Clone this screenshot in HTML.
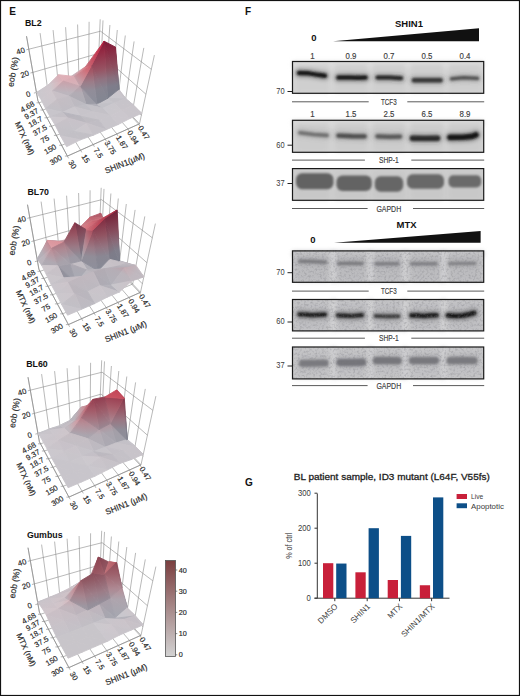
<!DOCTYPE html>
<html><head><meta charset="utf-8"><style>
html,body{margin:0;padding:0;background:#fff;}
body{width:520px;height:696px;overflow:hidden;position:relative;}
svg{position:absolute;left:0;top:0;font-family:"Liberation Sans", sans-serif;}
</style></head><body>
<svg width="520" height="696" viewBox="0 0 520 696">
<defs>
<filter id="b1" filterUnits="userSpaceOnUse" x="0" y="0" width="520" height="696"><feGaussianBlur stdDeviation="0.95"/></filter>
<filter id="b2" filterUnits="userSpaceOnUse" x="0" y="0" width="520" height="696"><feGaussianBlur stdDeviation="2"/></filter>
<filter id="b3" filterUnits="userSpaceOnUse" x="0" y="0" width="520" height="696"><feGaussianBlur stdDeviation="1.2"/></filter>
<filter id="nz" x="0" y="0" width="1" height="1"><feTurbulence type="fractalNoise" baseFrequency="0.45" numOctaves="2" seed="7"/><feColorMatrix type="matrix" values="0 0 0 0 0.2  0 0 0 0 0.2  0 0 0 0 0.22  0 0 0 1.6 -0.72"/></filter>
</defs>
<rect x="0" y="0" width="520" height="696" fill="#fff"/>
<text transform="translate(9.2,11.8)" font-size="10" text-anchor="start" font-weight="bold" fill="#111" dominant-baseline="central">E</text>
<line x1="37.9" y1="100.7" x2="26.5" y2="36.2" stroke="#8a8a8a" stroke-width="0.6"/>
<line x1="48.7" y1="97.1" x2="40.1" y2="33.1" stroke="#8a8a8a" stroke-width="0.6"/>
<line x1="59.2" y1="93.5" x2="53.1" y2="30.1" stroke="#8a8a8a" stroke-width="0.6"/>
<line x1="69.3" y1="90.1" x2="65.6" y2="27.2" stroke="#8a8a8a" stroke-width="0.6"/>
<line x1="79.1" y1="86.8" x2="77.6" y2="24.5" stroke="#8a8a8a" stroke-width="0.6"/>
<line x1="88.6" y1="83.6" x2="89.1" y2="21.8" stroke="#8a8a8a" stroke-width="0.6"/>
<line x1="97.7" y1="80.5" x2="100.2" y2="19.3" stroke="#8a8a8a" stroke-width="0.6"/>
<line x1="36.4" y1="92.5" x2="98.8" y2="72.3" stroke="#8a8a8a" stroke-width="0.6"/>
<line x1="32.9" y1="72.4" x2="99.6" y2="53.1" stroke="#8a8a8a" stroke-width="0.6"/>
<line x1="28.8" y1="49.2" x2="100.6" y2="31.2" stroke="#8a8a8a" stroke-width="0.6"/>
<line x1="100.0" y1="81.9" x2="103.0" y2="20.4" stroke="#8a8a8a" stroke-width="0.6"/>
<line x1="105.5" y1="87.8" x2="109.9" y2="25.0" stroke="#8a8a8a" stroke-width="0.6"/>
<line x1="111.4" y1="94.0" x2="117.3" y2="30.0" stroke="#8a8a8a" stroke-width="0.6"/>
<line x1="117.7" y1="100.6" x2="125.3" y2="35.5" stroke="#8a8a8a" stroke-width="0.6"/>
<line x1="124.4" y1="107.8" x2="134.1" y2="41.4" stroke="#8a8a8a" stroke-width="0.6"/>
<line x1="131.7" y1="115.5" x2="143.8" y2="47.9" stroke="#8a8a8a" stroke-width="0.6"/>
<line x1="139.5" y1="123.8" x2="154.4" y2="55.1" stroke="#8a8a8a" stroke-width="0.6"/>
<line x1="98.8" y1="72.3" x2="141.4" y2="115.3" stroke="#8a8a8a" stroke-width="0.6"/>
<line x1="99.6" y1="53.1" x2="145.9" y2="94.2" stroke="#8a8a8a" stroke-width="0.6"/>
<line x1="100.6" y1="31.2" x2="151.3" y2="69.3" stroke="#8a8a8a" stroke-width="0.6"/>
<line x1="37.9" y1="100.7" x2="67.4" y2="156.1" stroke="#8a8a8a" stroke-width="0.6"/>
<line x1="48.7" y1="97.1" x2="80.6" y2="150.2" stroke="#8a8a8a" stroke-width="0.6"/>
<line x1="59.2" y1="93.5" x2="93.2" y2="144.6" stroke="#8a8a8a" stroke-width="0.6"/>
<line x1="69.3" y1="90.1" x2="105.3" y2="139.1" stroke="#8a8a8a" stroke-width="0.6"/>
<line x1="79.1" y1="86.8" x2="116.9" y2="134.0" stroke="#8a8a8a" stroke-width="0.6"/>
<line x1="88.6" y1="83.6" x2="128.0" y2="129.0" stroke="#8a8a8a" stroke-width="0.6"/>
<line x1="97.7" y1="80.5" x2="138.7" y2="124.2" stroke="#8a8a8a" stroke-width="0.6"/>
<line x1="39.0" y1="102.8" x2="100.0" y2="81.9" stroke="#8a8a8a" stroke-width="0.6"/>
<line x1="42.9" y1="110.0" x2="105.5" y2="87.8" stroke="#8a8a8a" stroke-width="0.6"/>
<line x1="47.0" y1="117.8" x2="111.4" y2="94.0" stroke="#8a8a8a" stroke-width="0.6"/>
<line x1="51.5" y1="126.3" x2="117.7" y2="100.6" stroke="#8a8a8a" stroke-width="0.6"/>
<line x1="56.4" y1="135.4" x2="124.4" y2="107.8" stroke="#8a8a8a" stroke-width="0.6"/>
<line x1="61.7" y1="145.3" x2="131.7" y2="115.5" stroke="#8a8a8a" stroke-width="0.6"/>
<line x1="67.4" y1="156.1" x2="139.5" y2="123.8" stroke="#8a8a8a" stroke-width="0.6"/>
<line x1="98.4" y1="80.3" x2="139.5" y2="123.8" stroke="#8a8a8a" stroke-width="0.6"/>
<line x1="37.9" y1="100.7" x2="26.5" y2="36.2" stroke="#858585" stroke-width="0.6"/>
<line x1="37.9" y1="100.7" x2="67.4" y2="156.1" stroke="#858585" stroke-width="0.6"/>
<line x1="67.4" y1="156.1" x2="139.5" y2="123.8" stroke="#858585" stroke-width="0.6"/>
<line x1="33.9" y1="93.1" x2="36.4" y2="92.5" stroke="#858585" stroke-width="0.6"/>
<line x1="30.4" y1="73.0" x2="32.9" y2="72.4" stroke="#858585" stroke-width="0.6"/>
<line x1="26.3" y1="49.8" x2="28.8" y2="49.2" stroke="#858585" stroke-width="0.6"/>
<line x1="36.5" y1="102.8" x2="39.0" y2="102.8" stroke="#858585" stroke-width="0.6"/>
<line x1="40.4" y1="110.0" x2="42.9" y2="110.0" stroke="#858585" stroke-width="0.6"/>
<line x1="44.5" y1="117.8" x2="47.0" y2="117.8" stroke="#858585" stroke-width="0.6"/>
<line x1="49.0" y1="126.3" x2="51.5" y2="126.3" stroke="#858585" stroke-width="0.6"/>
<line x1="53.9" y1="135.4" x2="56.4" y2="135.4" stroke="#858585" stroke-width="0.6"/>
<line x1="59.2" y1="145.3" x2="61.7" y2="145.3" stroke="#858585" stroke-width="0.6"/>
<line x1="64.9" y1="156.1" x2="67.4" y2="156.1" stroke="#858585" stroke-width="0.6"/>
<line x1="67.4" y1="156.1" x2="68.6" y2="158.3" stroke="#858585" stroke-width="0.6"/>
<line x1="80.6" y1="150.2" x2="81.8" y2="152.4" stroke="#858585" stroke-width="0.6"/>
<line x1="93.2" y1="144.6" x2="94.4" y2="146.8" stroke="#858585" stroke-width="0.6"/>
<line x1="105.3" y1="139.1" x2="106.5" y2="141.3" stroke="#858585" stroke-width="0.6"/>
<line x1="116.9" y1="134.0" x2="118.1" y2="136.2" stroke="#858585" stroke-width="0.6"/>
<line x1="128.0" y1="129.0" x2="129.2" y2="131.2" stroke="#858585" stroke-width="0.6"/>
<line x1="138.7" y1="124.2" x2="139.9" y2="126.4" stroke="#858585" stroke-width="0.6"/>
<defs><linearGradient id="BL20" gradientUnits="userSpaceOnUse" x1="98.2" y1="68.9" x2="98.3" y2="69.2"><stop offset="0.000" stop-color="#b9b5bc"/><stop offset="1.000" stop-color="#bbb4bc"/></linearGradient><linearGradient id="BL21" gradientUnits="userSpaceOnUse" x1="98.2" y1="68.9" x2="98.3" y2="69.2"><stop offset="0.000" stop-color="#b9b5bc"/><stop offset="1.000" stop-color="#bbb4bc"/></linearGradient><linearGradient id="BL22" gradientUnits="userSpaceOnUse" x1="88.7" y1="70.9" x2="88.7" y2="71.1"><stop offset="0.000" stop-color="#b6b2ba"/><stop offset="1.000" stop-color="#b8b2b9"/></linearGradient><linearGradient id="BL23" gradientUnits="userSpaceOnUse" x1="36.4" y1="92.5" x2="43.7" y2="95.6"><stop offset="0.000" stop-color="#c6c4ca"/><stop offset="1.000" stop-color="#cbc3c9"/></linearGradient><linearGradient id="BL24" gradientUnits="userSpaceOnUse" x1="69.9" y1="77.2" x2="74.8" y2="81.0"><stop offset="0.000" stop-color="#c0b8bf"/><stop offset="0.538" stop-color="#cfa1aa"/><stop offset="1.000" stop-color="#d67f89"/></linearGradient><linearGradient id="BL25" gradientUnits="userSpaceOnUse" x1="37.4" y1="93.6" x2="51.9" y2="89.6"><stop offset="0.000" stop-color="#cbc8cd"/><stop offset="1.000" stop-color="#d0c7cd"/></linearGradient><linearGradient id="BL26" gradientUnits="userSpaceOnUse" x1="48.1" y1="85.1" x2="59.9" y2="76.4"><stop offset="0.000" stop-color="#ccc4ca"/><stop offset="0.143" stop-color="#cdc4ca"/><stop offset="1.000" stop-color="#dbaeb6"/></linearGradient><linearGradient id="BL27" gradientUnits="userSpaceOnUse" x1="121.9" y1="99.9" x2="118.2" y2="89.8"><stop offset="0.000" stop-color="#c6c3c9"/><stop offset="1.000" stop-color="#c8c3c9"/></linearGradient><linearGradient id="BL28" gradientUnits="userSpaceOnUse" x1="107.5" y1="98.4" x2="113.1" y2="87.3"><stop offset="0.000" stop-color="#c9c7cd"/><stop offset="0.400" stop-color="#c9c7cd"/><stop offset="1.000" stop-color="#ccc6cc"/></linearGradient><linearGradient id="BL29" gradientUnits="userSpaceOnUse" x1="58.6" y1="74.7" x2="68.1" y2="67.6"><stop offset="0.000" stop-color="#deb1b8"/><stop offset="1.000" stop-color="#e0adb5"/></linearGradient><linearGradient id="BL210" gradientUnits="userSpaceOnUse" x1="122.1" y1="99.9" x2="118.2" y2="89.8"><stop offset="0.000" stop-color="#c6c3c9"/><stop offset="1.000" stop-color="#c8c3c9"/></linearGradient><linearGradient id="BL211" gradientUnits="userSpaceOnUse" x1="48.1" y1="85.1" x2="63.1" y2="80.4"><stop offset="0.000" stop-color="#cec6cb"/><stop offset="0.143" stop-color="#cfc6cb"/><stop offset="1.000" stop-color="#ddb0b7"/></linearGradient><linearGradient id="BL212" gradientUnits="userSpaceOnUse" x1="37.4" y1="93.6" x2="52.3" y2="90.7"><stop offset="0.000" stop-color="#cbc8cd"/><stop offset="1.000" stop-color="#d0c7cd"/></linearGradient><linearGradient id="BL213" gradientUnits="userSpaceOnUse" x1="96.9" y1="104.2" x2="108.4" y2="111.9"><stop offset="0.000" stop-color="#c7c5cb"/><stop offset="0.800" stop-color="#c7c5cb"/><stop offset="1.000" stop-color="#c8c5cb"/></linearGradient><linearGradient id="BL214" gradientUnits="userSpaceOnUse" x1="129.2" y1="85.8" x2="114.9" y2="46.8"><stop offset="0.000" stop-color="#81818e"/><stop offset="0.118" stop-color="#83818e"/><stop offset="0.324" stop-color="#8d717f"/><stop offset="0.559" stop-color="#945261"/><stop offset="0.971" stop-color="#912a43"/><stop offset="1.000" stop-color="#8f2841"/></linearGradient><linearGradient id="BL215" gradientUnits="userSpaceOnUse" x1="107.5" y1="98.4" x2="109.9" y2="104.7"><stop offset="0.000" stop-color="#c3c1c7"/><stop offset="0.667" stop-color="#c3c1c7"/><stop offset="1.000" stop-color="#c4c1c7"/></linearGradient><linearGradient id="BL216" gradientUnits="userSpaceOnUse" x1="102.9" y1="102.4" x2="91.6" y2="65.2"><stop offset="0.000" stop-color="#848692"/><stop offset="0.129" stop-color="#848692"/><stop offset="0.355" stop-color="#888591"/><stop offset="0.581" stop-color="#927482"/><stop offset="0.839" stop-color="#995463"/><stop offset="1.000" stop-color="#984658"/></linearGradient><linearGradient id="BL217" gradientUnits="userSpaceOnUse" x1="64.1" y1="88.0" x2="63.0" y2="77.7"><stop offset="0.000" stop-color="#d5b4bb"/><stop offset="1.000" stop-color="#dbaab2"/></linearGradient><linearGradient id="BL218" gradientUnits="userSpaceOnUse" x1="95.5" y1="105.4" x2="80.2" y2="86.3"><stop offset="0.000" stop-color="#9c9ca6"/><stop offset="0.267" stop-color="#9c9ca6"/><stop offset="0.733" stop-color="#a19ca6"/><stop offset="1.000" stop-color="#a8909b"/></linearGradient><linearGradient id="BL219" gradientUnits="userSpaceOnUse" x1="52.0" y1="94.6" x2="53.4" y2="80.2"><stop offset="0.000" stop-color="#bbb5bd"/><stop offset="0.250" stop-color="#bdb5bd"/><stop offset="1.000" stop-color="#c9a1aa"/></linearGradient><linearGradient id="BL220" gradientUnits="userSpaceOnUse" x1="86.6" y1="102.1" x2="86.1" y2="104.5"><stop offset="0.000" stop-color="#afaeb7"/><stop offset="1.000" stop-color="#afaeb7"/></linearGradient><linearGradient id="BL221" gradientUnits="userSpaceOnUse" x1="74.6" y1="76.5" x2="81.1" y2="80.9"><stop offset="0.000" stop-color="#cfa1aa"/><stop offset="0.615" stop-color="#d9747e"/><stop offset="1.000" stop-color="#d75f6f"/></linearGradient><linearGradient id="BL222" gradientUnits="userSpaceOnUse" x1="115.8" y1="96.6" x2="104.1" y2="41.2"><stop offset="0.000" stop-color="#7b7e8b"/><stop offset="0.043" stop-color="#7b7e8b"/><stop offset="0.196" stop-color="#7f7d8b"/><stop offset="0.348" stop-color="#896e7c"/><stop offset="0.522" stop-color="#8f505f"/><stop offset="0.826" stop-color="#8c2942"/><stop offset="1.000" stop-color="#7d1735"/></linearGradient><linearGradient id="BL223" gradientUnits="userSpaceOnUse" x1="62.1" y1="95.6" x2="63.3" y2="81.1"><stop offset="0.000" stop-color="#bbb5bd"/><stop offset="0.250" stop-color="#bdb5bd"/><stop offset="1.000" stop-color="#c9a1aa"/></linearGradient><linearGradient id="BL224" gradientUnits="userSpaceOnUse" x1="96.9" y1="104.2" x2="101.7" y2="111.4"><stop offset="0.000" stop-color="#c2c1c7"/><stop offset="0.800" stop-color="#c2c1c7"/><stop offset="1.000" stop-color="#c3c1c7"/></linearGradient><linearGradient id="BL225" gradientUnits="userSpaceOnUse" x1="125.0" y1="98.8" x2="128.2" y2="107.2"><stop offset="0.000" stop-color="#c7c4ca"/><stop offset="1.000" stop-color="#c8c4ca"/></linearGradient><linearGradient id="BL226" gradientUnits="userSpaceOnUse" x1="41.2" y1="99.8" x2="50.8" y2="89.6"><stop offset="0.000" stop-color="#ccc8cd"/><stop offset="1.000" stop-color="#d0c7cd"/></linearGradient><linearGradient id="BL227" gradientUnits="userSpaceOnUse" x1="69.0" y1="104.5" x2="69.0" y2="86.3"><stop offset="0.000" stop-color="#adadb5"/><stop offset="0.636" stop-color="#b2acb4"/><stop offset="1.000" stop-color="#ba9fa9"/></linearGradient><linearGradient id="BL228" gradientUnits="userSpaceOnUse" x1="81.4" y1="105.2" x2="78.9" y2="66.1"><stop offset="0.000" stop-color="#8d8e9a"/><stop offset="0.129" stop-color="#8d8e9a"/><stop offset="0.355" stop-color="#918d99"/><stop offset="0.581" stop-color="#9c7c88"/><stop offset="0.839" stop-color="#a35968"/><stop offset="1.000" stop-color="#a24a5c"/></linearGradient><linearGradient id="BL229" gradientUnits="userSpaceOnUse" x1="66.7" y1="99.9" x2="52.3" y2="91.0"><stop offset="0.000" stop-color="#c7c0c7"/><stop offset="1.000" stop-color="#c9c0c6"/></linearGradient><linearGradient id="BL230" gradientUnits="userSpaceOnUse" x1="71.9" y1="80.0" x2="86.2" y2="61.2"><stop offset="0.000" stop-color="#bfa3ac"/><stop offset="0.188" stop-color="#c69aa3"/><stop offset="0.688" stop-color="#cf6f7a"/><stop offset="1.000" stop-color="#cd5b6b"/></linearGradient><linearGradient id="BL231" gradientUnits="userSpaceOnUse" x1="114.5" y1="102.9" x2="117.7" y2="111.3"><stop offset="0.000" stop-color="#c7c4ca"/><stop offset="1.000" stop-color="#c8c4ca"/></linearGradient><linearGradient id="BL232" gradientUnits="userSpaceOnUse" x1="132.1" y1="83.3" x2="114.9" y2="46.8"><stop offset="0.000" stop-color="#757684"/><stop offset="0.118" stop-color="#777684"/><stop offset="0.324" stop-color="#806776"/><stop offset="0.559" stop-color="#864b5c"/><stop offset="0.971" stop-color="#832740"/><stop offset="1.000" stop-color="#82253f"/></linearGradient><linearGradient id="BL233" gradientUnits="userSpaceOnUse" x1="83.2" y1="108.0" x2="69.0" y2="96.2"><stop offset="0.000" stop-color="#bbbac1"/><stop offset="1.000" stop-color="#bfb9c0"/></linearGradient><linearGradient id="BL234" gradientUnits="userSpaceOnUse" x1="39.1" y1="101.9" x2="49.6" y2="91.6"><stop offset="0.000" stop-color="#cbc8cd"/><stop offset="1.000" stop-color="#cfc7cd"/></linearGradient><linearGradient id="BL235" gradientUnits="userSpaceOnUse" x1="125.0" y1="98.8" x2="128.4" y2="107.2"><stop offset="0.000" stop-color="#c7c4ca"/><stop offset="1.000" stop-color="#c8c4ca"/></linearGradient><linearGradient id="BL236" gradientUnits="userSpaceOnUse" x1="65.9" y1="112.6" x2="57.1" y2="99.3"><stop offset="0.000" stop-color="#c1bec4"/><stop offset="1.000" stop-color="#c4bdc4"/></linearGradient><linearGradient id="BL237" gradientUnits="userSpaceOnUse" x1="86.1" y1="104.5" x2="84.9" y2="110.1"><stop offset="0.000" stop-color="#c3c1c7"/><stop offset="1.000" stop-color="#c4c1c7"/></linearGradient><linearGradient id="BL238" gradientUnits="userSpaceOnUse" x1="119.8" y1="89.3" x2="104.1" y2="41.2"><stop offset="0.000" stop-color="#7a7b88"/><stop offset="0.098" stop-color="#7c7b88"/><stop offset="0.268" stop-color="#866b7a"/><stop offset="0.463" stop-color="#8c4e5e"/><stop offset="0.805" stop-color="#892841"/><stop offset="1.000" stop-color="#7a1735"/></linearGradient><linearGradient id="BL239" gradientUnits="userSpaceOnUse" x1="103.5" y1="108.1" x2="121.0" y2="113.2"><stop offset="0.000" stop-color="#c9c7cd"/><stop offset="1.000" stop-color="#cbc7cc"/></linearGradient><linearGradient id="BL240" gradientUnits="userSpaceOnUse" x1="77.7" y1="100.4" x2="74.5" y2="106.9"><stop offset="0.000" stop-color="#bebdc4"/><stop offset="1.000" stop-color="#c0bdc3"/></linearGradient><linearGradient id="BL241" gradientUnits="userSpaceOnUse" x1="99.0" y1="100.2" x2="87.3" y2="44.8"><stop offset="0.000" stop-color="#828490"/><stop offset="0.043" stop-color="#828490"/><stop offset="0.196" stop-color="#868390"/><stop offset="0.348" stop-color="#907381"/><stop offset="0.522" stop-color="#975363"/><stop offset="0.826" stop-color="#932b44"/><stop offset="1.000" stop-color="#841836"/></linearGradient><linearGradient id="BL242" gradientUnits="userSpaceOnUse" x1="114.5" y1="102.9" x2="118.0" y2="111.5"><stop offset="0.000" stop-color="#c7c4ca"/><stop offset="1.000" stop-color="#c8c4ca"/></linearGradient><linearGradient id="BL243" gradientUnits="userSpaceOnUse" x1="45.6" y1="108.5" x2="48.0" y2="97.3"><stop offset="0.000" stop-color="#c2c0c6"/><stop offset="1.000" stop-color="#c7bfc5"/></linearGradient><linearGradient id="BL244" gradientUnits="userSpaceOnUse" x1="60.0" y1="112.8" x2="57.1" y2="99.3"><stop offset="0.000" stop-color="#c0bdc4"/><stop offset="1.000" stop-color="#c4bdc3"/></linearGradient><linearGradient id="BL245" gradientUnits="userSpaceOnUse" x1="85.5" y1="66.7" x2="106.7" y2="64.3"><stop offset="0.000" stop-color="#c67682"/><stop offset="0.083" stop-color="#c86c77"/><stop offset="0.667" stop-color="#c4364f"/><stop offset="1.000" stop-color="#af1d3d"/></linearGradient><linearGradient id="BL246" gradientUnits="userSpaceOnUse" x1="93.4" y1="106.0" x2="92.2" y2="111.6"><stop offset="0.000" stop-color="#c3c1c7"/><stop offset="1.000" stop-color="#c4c1c7"/></linearGradient><linearGradient id="BL247" gradientUnits="userSpaceOnUse" x1="103.5" y1="108.1" x2="120.6" y2="113.8"><stop offset="0.000" stop-color="#c9c7cd"/><stop offset="1.000" stop-color="#cbc7cc"/></linearGradient><linearGradient id="BL248" gradientUnits="userSpaceOnUse" x1="78.5" y1="116.9" x2="74.5" y2="106.9"><stop offset="0.000" stop-color="#c7c4ca"/><stop offset="1.000" stop-color="#c8c4ca"/></linearGradient><linearGradient id="BL249" gradientUnits="userSpaceOnUse" x1="62.6" y1="112.3" x2="64.3" y2="104.6"><stop offset="0.000" stop-color="#cac7cd"/><stop offset="1.000" stop-color="#cbc7cc"/></linearGradient><linearGradient id="BL250" gradientUnits="userSpaceOnUse" x1="110.6" y1="115.4" x2="119.5" y2="107.2"><stop offset="0.000" stop-color="#cbc7cd"/><stop offset="1.000" stop-color="#cbc7cd"/></linearGradient><linearGradient id="BL251" gradientUnits="userSpaceOnUse" x1="62.6" y1="112.3" x2="61.7" y2="116.6"><stop offset="0.000" stop-color="#b7b5bd"/><stop offset="1.000" stop-color="#bab5bc"/></linearGradient><linearGradient id="BL252" gradientUnits="userSpaceOnUse" x1="50.2" y1="116.9" x2="52.7" y2="123.6"><stop offset="0.000" stop-color="#c4c1c7"/><stop offset="1.000" stop-color="#c6c0c7"/></linearGradient><linearGradient id="BL253" gradientUnits="userSpaceOnUse" x1="110.6" y1="115.4" x2="120.3" y2="107.2"><stop offset="0.000" stop-color="#cbc7cd"/><stop offset="1.000" stop-color="#cbc7cd"/></linearGradient><linearGradient id="BL254" gradientUnits="userSpaceOnUse" x1="80.4" y1="116.2" x2="79.2" y2="121.6"><stop offset="0.000" stop-color="#bebcc2"/><stop offset="1.000" stop-color="#c0bbc2"/></linearGradient><linearGradient id="BL255" gradientUnits="userSpaceOnUse" x1="50.2" y1="116.9" x2="67.7" y2="119.2"><stop offset="0.000" stop-color="#ccc8ce"/><stop offset="1.000" stop-color="#cec8cd"/></linearGradient><linearGradient id="BL256" gradientUnits="userSpaceOnUse" x1="70.2" y1="112.1" x2="67.8" y2="118.0"><stop offset="0.000" stop-color="#b9b7be"/><stop offset="1.000" stop-color="#bbb7be"/></linearGradient><linearGradient id="BL257" gradientUnits="userSpaceOnUse" x1="95.8" y1="116.2" x2="86.7" y2="123.2"><stop offset="0.000" stop-color="#c0bdc4"/><stop offset="1.000" stop-color="#c1bdc4"/></linearGradient><linearGradient id="BL258" gradientUnits="userSpaceOnUse" x1="55.2" y1="131.7" x2="55.0" y2="118.2"><stop offset="0.000" stop-color="#c4c2c8"/><stop offset="1.000" stop-color="#c8c2c8"/></linearGradient><linearGradient id="BL259" gradientUnits="userSpaceOnUse" x1="66.5" y1="130.6" x2="67.8" y2="118.0"><stop offset="0.000" stop-color="#c5c3c9"/><stop offset="1.000" stop-color="#c8c2c9"/></linearGradient><linearGradient id="BL260" gradientUnits="userSpaceOnUse" x1="72.7" y1="133.9" x2="55.1" y2="125.0"><stop offset="0.000" stop-color="#c3c1c7"/><stop offset="1.000" stop-color="#c5c1c7"/></linearGradient><linearGradient id="BL261" gradientUnits="userSpaceOnUse" x1="74.0" y1="131.4" x2="78.8" y2="119.9"><stop offset="0.000" stop-color="#cac8cd"/><stop offset="1.000" stop-color="#cdc7cd"/></linearGradient><linearGradient id="BL262" gradientUnits="userSpaceOnUse" x1="92.1" y1="135.7" x2="86.7" y2="123.2"><stop offset="0.000" stop-color="#c6c3c9"/><stop offset="1.000" stop-color="#c8c3c9"/></linearGradient><linearGradient id="BL263" gradientUnits="userSpaceOnUse" x1="74.0" y1="131.4" x2="74.3" y2="140.0"><stop offset="0.000" stop-color="#c2c0c6"/><stop offset="1.000" stop-color="#c3c0c6"/></linearGradient><linearGradient id="BL264" gradientUnits="userSpaceOnUse" x1="60.6" y1="131.6" x2="60.7" y2="140.1"><stop offset="0.000" stop-color="#c2c0c6"/><stop offset="1.000" stop-color="#c3c0c6"/></linearGradient><linearGradient id="BL265" gradientUnits="userSpaceOnUse" x1="60.6" y1="135.9" x2="74.1" y2="128.4"><stop offset="0.000" stop-color="#cbc7cd"/><stop offset="1.000" stop-color="#cbc7cd"/></linearGradient></defs>
<g stroke-width=".9" stroke-linejoin="round">
<polygon points="98.2,68.9 98.9,68.7 100.7,68.4" fill="url(#BL20)" stroke="url(#BL20)"/>
<polygon points="98.2,68.9 100.7,68.4 99.9,68.7" fill="url(#BL21)" stroke="url(#BL21)"/>
<polygon points="88.7,71.0 98.2,68.9 99.9,68.7" fill="url(#BL22)" stroke="url(#BL22)"/>
<polygon points="36.4,92.5 48.1,85.1 37.4,93.6" fill="url(#BL23)" stroke="url(#BL23)"/>
<polygon points="69.9,77.2 85.5,66.7 74.6,76.5" fill="url(#BL24)" stroke="url(#BL24)"/>
<polygon points="37.4,93.6 48.1,85.1 52.3,91.0" fill="url(#BL25)" stroke="url(#BL25)"/>
<polygon points="48.1,85.1 58.6,74.7 63.3,81.1" fill="url(#BL26)" stroke="url(#BL26)"/>
<polygon points="118.2,89.8 119.0,89.5 125.8,98.5" fill="url(#BL27)" stroke="url(#BL27)"/>
<polygon points="107.5,98.4 118.2,89.8 125.0,98.8" fill="url(#BL28)" stroke="url(#BL28)"/>
<polygon points="58.6,74.7 74.6,76.5 63.3,81.1" fill="url(#BL29)" stroke="url(#BL29)"/>
<polygon points="118.2,89.8 125.8,98.5 125.0,98.8" fill="url(#BL210)" stroke="url(#BL210)"/>
<polygon points="48.1,85.1 63.3,81.1 52.3,91.0" fill="url(#BL211)" stroke="url(#BL211)"/>
<polygon points="37.4,93.6 52.3,91.0 41.2,99.8" fill="url(#BL212)" stroke="url(#BL212)"/>
<polygon points="96.9,104.2 107.5,98.4 114.5,102.9" fill="url(#BL213)" stroke="url(#BL213)"/>
<polygon points="114.9,46.8 119.0,89.5 118.2,89.8" fill="url(#BL214)" stroke="url(#BL214)"/>
<polygon points="107.5,98.4 125.0,98.8 114.5,102.9" fill="url(#BL215)" stroke="url(#BL215)"/>
<polygon points="91.6,65.2 107.5,98.4 96.9,104.2" fill="url(#BL216)" stroke="url(#BL216)"/>
<polygon points="63.3,81.1 74.6,76.5 80.2,86.3" fill="url(#BL217)" stroke="url(#BL217)"/>
<polygon points="80.2,86.3 96.9,104.2 86.1,104.5" fill="url(#BL218)" stroke="url(#BL218)"/>
<polygon points="52.3,91.0 63.3,81.1 69.0,96.2" fill="url(#BL219)" stroke="url(#BL219)"/>
<polygon points="86.1,104.5 96.9,104.2 103.5,108.1" fill="url(#BL220)" stroke="url(#BL220)"/>
<polygon points="74.6,76.5 85.5,66.7 91.6,65.2" fill="url(#BL221)" stroke="url(#BL221)"/>
<polygon points="104.1,41.2 118.2,89.8 107.5,98.4" fill="url(#BL222)" stroke="url(#BL222)"/>
<polygon points="63.3,81.1 80.2,86.3 69.0,96.2" fill="url(#BL223)" stroke="url(#BL223)"/>
<polygon points="96.9,104.2 114.5,102.9 103.5,108.1" fill="url(#BL224)" stroke="url(#BL224)"/>
<polygon points="125.0,98.8 125.8,98.5 133.6,105.1" fill="url(#BL225)" stroke="url(#BL225)"/>
<polygon points="41.2,99.8 52.3,91.0 57.1,99.3" fill="url(#BL226)" stroke="url(#BL226)"/>
<polygon points="69.0,96.2 80.2,86.3 86.1,104.5" fill="url(#BL227)" stroke="url(#BL227)"/>
<polygon points="80.2,86.3 91.6,65.2 96.9,104.2" fill="url(#BL228)" stroke="url(#BL228)"/>
<polygon points="52.3,91.0 69.0,96.2 57.1,99.3" fill="url(#BL229)" stroke="url(#BL229)"/>
<polygon points="74.6,76.5 91.6,65.2 80.2,86.3" fill="url(#BL230)" stroke="url(#BL230)"/>
<polygon points="114.5,102.9 125.0,98.8 132.7,105.5" fill="url(#BL231)" stroke="url(#BL231)"/>
<polygon points="114.9,46.8 115.6,47.7 119.0,89.5" fill="url(#BL232)" stroke="url(#BL232)"/>
<polygon points="69.0,96.2 86.1,104.5 74.5,106.9" fill="url(#BL233)" stroke="url(#BL233)"/>
<polygon points="41.2,99.8 57.1,99.3 45.6,108.5" fill="url(#BL234)" stroke="url(#BL234)"/>
<polygon points="125.0,98.8 133.6,105.1 132.7,105.5" fill="url(#BL235)" stroke="url(#BL235)"/>
<polygon points="57.1,99.3 69.0,96.2 74.5,106.9" fill="url(#BL236)" stroke="url(#BL236)"/>
<polygon points="86.1,104.5 103.5,108.1 92.2,111.6" fill="url(#BL237)" stroke="url(#BL237)"/>
<polygon points="104.1,41.2 114.9,46.8 118.2,89.8" fill="url(#BL238)" stroke="url(#BL238)"/>
<polygon points="103.5,108.1 114.5,102.9 121.9,109.9" fill="url(#BL239)" stroke="url(#BL239)"/>
<polygon points="74.5,106.9 86.1,104.5 92.2,111.6" fill="url(#BL240)" stroke="url(#BL240)"/>
<polygon points="91.6,65.2 104.1,41.2 107.5,98.4" fill="url(#BL241)" stroke="url(#BL241)"/>
<polygon points="114.5,102.9 132.7,105.5 121.9,109.9" fill="url(#BL242)" stroke="url(#BL242)"/>
<polygon points="45.6,108.5 57.1,99.3 62.6,112.3" fill="url(#BL243)" stroke="url(#BL243)"/>
<polygon points="57.1,99.3 74.5,106.9 62.6,112.3" fill="url(#BL244)" stroke="url(#BL244)"/>
<polygon points="85.5,66.7 104.1,41.2 91.6,65.2" fill="url(#BL245)" stroke="url(#BL245)"/>
<polygon points="132.7,105.5 133.6,105.1 141.8,113.4" fill="#c9c5cb" stroke="#c9c5cb"/>
<polygon points="92.2,111.6 103.5,108.1 110.6,115.4" fill="url(#BL246)" stroke="url(#BL246)"/>
<polygon points="103.5,108.1 121.9,109.9 110.6,115.4" fill="url(#BL247)" stroke="url(#BL247)"/>
<polygon points="45.6,108.5 62.6,112.3 50.2,116.9" fill="#c8c5cb" stroke="#c8c5cb"/>
<polygon points="74.5,106.9 92.2,111.6 80.4,116.2" fill="url(#BL248)" stroke="url(#BL248)"/>
<polygon points="62.6,112.3 74.5,106.9 80.4,116.2" fill="url(#BL249)" stroke="url(#BL249)"/>
<polygon points="121.9,109.9 132.7,105.5 140.9,113.7" fill="#c9c5cb" stroke="#c9c5cb"/>
<polygon points="132.7,105.5 141.8,113.4 140.9,113.7" fill="#c9c5cb" stroke="#c9c5cb"/>
<polygon points="92.2,111.6 110.6,115.4 98.9,120.2" fill="#c8c5cb" stroke="#c8c5cb"/>
<polygon points="80.4,116.2 92.2,111.6 98.9,120.2" fill="#c8c5cb" stroke="#c8c5cb"/>
<polygon points="110.6,115.4 121.9,109.9 129.9,118.5" fill="url(#BL250)" stroke="url(#BL250)"/>
<polygon points="121.9,109.9 140.9,113.7 129.9,118.5" fill="#c9c5cb" stroke="#c9c5cb"/>
<polygon points="62.6,112.3 80.4,116.2 67.8,118.0" fill="url(#BL251)" stroke="url(#BL251)"/>
<polygon points="50.2,116.9 62.6,112.3 67.8,118.0" fill="url(#BL252)" stroke="url(#BL252)"/>
<polygon points="98.9,120.2 110.6,115.4 118.2,124.5" fill="#c8c5cb" stroke="#c8c5cb"/>
<polygon points="110.6,115.4 129.9,118.5 118.2,124.5" fill="url(#BL253)" stroke="url(#BL253)"/>
<polygon points="80.4,116.2 98.9,120.2 86.7,123.2" fill="url(#BL254)" stroke="url(#BL254)"/>
<polygon points="50.2,116.9 67.8,118.0 55.1,125.0" fill="url(#BL255)" stroke="url(#BL255)"/>
<polygon points="67.8,118.0 80.4,116.2 86.7,123.2" fill="url(#BL256)" stroke="url(#BL256)"/>
<polygon points="98.9,120.2 118.2,124.5 106.1,129.7" fill="#c8c5cb" stroke="#c8c5cb"/>
<polygon points="86.7,123.2 98.9,120.2 106.1,129.7" fill="url(#BL257)" stroke="url(#BL257)"/>
<polygon points="55.1,125.0 67.8,118.0 74.0,131.4" fill="url(#BL258)" stroke="url(#BL258)"/>
<polygon points="67.8,118.0 86.7,123.2 74.0,131.4" fill="url(#BL259)" stroke="url(#BL259)"/>
<polygon points="55.1,125.0 74.0,131.4 60.6,135.9" fill="url(#BL260)" stroke="url(#BL260)"/>
<polygon points="74.0,131.4 86.7,123.2 93.6,135.1" fill="url(#BL261)" stroke="url(#BL261)"/>
<polygon points="86.7,123.2 106.1,129.7 93.6,135.1" fill="url(#BL262)" stroke="url(#BL262)"/>
<polygon points="74.0,131.4 93.6,135.1 80.4,139.8" fill="url(#BL263)" stroke="url(#BL263)"/>
<polygon points="60.6,135.9 74.0,131.4 80.4,139.8" fill="url(#BL264)" stroke="url(#BL264)"/>
<polygon points="60.6,135.9 80.4,139.8 66.6,146.7" fill="url(#BL265)" stroke="url(#BL265)"/>
</g>
<text transform="translate(28.2,94.3) rotate(-18)" font-size="7.6" text-anchor="middle" font-weight="normal" fill="#2a2a2a" stroke="#2a2a2a" stroke-width="0.18" dominant-baseline="central">0</text>
<text transform="translate(24.7,74.2) rotate(-18)" font-size="7.6" text-anchor="middle" font-weight="normal" fill="#2a2a2a" stroke="#2a2a2a" stroke-width="0.18" dominant-baseline="central">20</text>
<text transform="translate(20.6,51.0) rotate(-18)" font-size="7.6" text-anchor="middle" font-weight="normal" fill="#2a2a2a" stroke="#2a2a2a" stroke-width="0.18" dominant-baseline="central">40</text>
<text transform="translate(27.5,106.8) rotate(-30)" font-size="7.6" text-anchor="middle" font-weight="normal" fill="#2a2a2a" stroke="#2a2a2a" stroke-width="0.18" dominant-baseline="central">4.68</text>
<text transform="translate(31.4,114.0) rotate(-30)" font-size="7.6" text-anchor="middle" font-weight="normal" fill="#2a2a2a" stroke="#2a2a2a" stroke-width="0.18" dominant-baseline="central">9.37</text>
<text transform="translate(35.5,121.8) rotate(-30)" font-size="7.6" text-anchor="middle" font-weight="normal" fill="#2a2a2a" stroke="#2a2a2a" stroke-width="0.18" dominant-baseline="central">18.7</text>
<text transform="translate(40.0,130.3) rotate(-30)" font-size="7.6" text-anchor="middle" font-weight="normal" fill="#2a2a2a" stroke="#2a2a2a" stroke-width="0.18" dominant-baseline="central">37.5</text>
<text transform="translate(44.9,139.4) rotate(-30)" font-size="7.6" text-anchor="middle" font-weight="normal" fill="#2a2a2a" stroke="#2a2a2a" stroke-width="0.18" dominant-baseline="central">75</text>
<text transform="translate(50.2,149.3) rotate(-30)" font-size="7.6" text-anchor="middle" font-weight="normal" fill="#2a2a2a" stroke="#2a2a2a" stroke-width="0.18" dominant-baseline="central">150</text>
<text transform="translate(55.9,160.1) rotate(-30)" font-size="7.6" text-anchor="middle" font-weight="normal" fill="#2a2a2a" stroke="#2a2a2a" stroke-width="0.18" dominant-baseline="central">300</text>
<text transform="translate(72.4,164.6) rotate(58)" font-size="7.6" text-anchor="middle" font-weight="normal" fill="#2a2a2a" stroke="#2a2a2a" stroke-width="0.18" dominant-baseline="central">30</text>
<text transform="translate(85.6,158.7) rotate(58)" font-size="7.6" text-anchor="middle" font-weight="normal" fill="#2a2a2a" stroke="#2a2a2a" stroke-width="0.18" dominant-baseline="central">15</text>
<text transform="translate(98.2,153.1) rotate(58)" font-size="7.6" text-anchor="middle" font-weight="normal" fill="#2a2a2a" stroke="#2a2a2a" stroke-width="0.18" dominant-baseline="central">7.5</text>
<text transform="translate(110.3,147.6) rotate(58)" font-size="7.6" text-anchor="middle" font-weight="normal" fill="#2a2a2a" stroke="#2a2a2a" stroke-width="0.18" dominant-baseline="central">3.75</text>
<text transform="translate(121.9,142.5) rotate(58)" font-size="7.6" text-anchor="middle" font-weight="normal" fill="#2a2a2a" stroke="#2a2a2a" stroke-width="0.18" dominant-baseline="central">1.87</text>
<text transform="translate(133.0,137.5) rotate(58)" font-size="7.6" text-anchor="middle" font-weight="normal" fill="#2a2a2a" stroke="#2a2a2a" stroke-width="0.18" dominant-baseline="central">0.94</text>
<text transform="translate(143.7,132.7) rotate(58)" font-size="7.6" text-anchor="middle" font-weight="normal" fill="#2a2a2a" stroke="#2a2a2a" stroke-width="0.18" dominant-baseline="central">0.47</text>
<text transform="translate(24.5,138.3) rotate(65)" font-size="8" text-anchor="middle" font-weight="normal" fill="#2a2a2a" stroke="#2a2a2a" stroke-width="0.18" dominant-baseline="central">MTX (nM)</text>
<text transform="translate(124.7,163.0) rotate(-22)" font-size="8.4" text-anchor="middle" font-weight="normal" fill="#2a2a2a" stroke="#2a2a2a" stroke-width="0.18" dominant-baseline="central">SHIN1(μM)</text>
<text transform="translate(12.9,71.9) rotate(-80)" font-size="8.6" text-anchor="middle" font-weight="normal" fill="#2a2a2a" stroke="#2a2a2a" stroke-width="0.18" dominant-baseline="central">eob (%)</text>
<text transform="translate(25.0,22.8)" font-size="8.8" text-anchor="start" font-weight="bold" fill="#111" dominant-baseline="central">BL2</text>
<line x1="38.9" y1="269.2" x2="27.5" y2="204.7" stroke="#8a8a8a" stroke-width="0.6"/>
<line x1="49.7" y1="265.6" x2="41.1" y2="201.6" stroke="#8a8a8a" stroke-width="0.6"/>
<line x1="60.2" y1="262.0" x2="54.1" y2="198.6" stroke="#8a8a8a" stroke-width="0.6"/>
<line x1="70.3" y1="258.6" x2="66.6" y2="195.7" stroke="#8a8a8a" stroke-width="0.6"/>
<line x1="80.1" y1="255.3" x2="78.6" y2="193.0" stroke="#8a8a8a" stroke-width="0.6"/>
<line x1="89.6" y1="252.1" x2="90.1" y2="190.3" stroke="#8a8a8a" stroke-width="0.6"/>
<line x1="98.7" y1="249.0" x2="101.2" y2="187.8" stroke="#8a8a8a" stroke-width="0.6"/>
<line x1="37.4" y1="261.0" x2="99.8" y2="240.8" stroke="#8a8a8a" stroke-width="0.6"/>
<line x1="33.9" y1="240.9" x2="100.6" y2="221.6" stroke="#8a8a8a" stroke-width="0.6"/>
<line x1="29.8" y1="217.7" x2="101.6" y2="199.7" stroke="#8a8a8a" stroke-width="0.6"/>
<line x1="101.0" y1="250.4" x2="104.0" y2="188.9" stroke="#8a8a8a" stroke-width="0.6"/>
<line x1="106.5" y1="256.3" x2="110.9" y2="193.5" stroke="#8a8a8a" stroke-width="0.6"/>
<line x1="112.4" y1="262.5" x2="118.3" y2="198.5" stroke="#8a8a8a" stroke-width="0.6"/>
<line x1="118.7" y1="269.1" x2="126.3" y2="204.0" stroke="#8a8a8a" stroke-width="0.6"/>
<line x1="125.4" y1="276.3" x2="135.1" y2="209.9" stroke="#8a8a8a" stroke-width="0.6"/>
<line x1="132.7" y1="284.0" x2="144.8" y2="216.4" stroke="#8a8a8a" stroke-width="0.6"/>
<line x1="140.5" y1="292.3" x2="155.4" y2="223.6" stroke="#8a8a8a" stroke-width="0.6"/>
<line x1="99.8" y1="240.8" x2="142.4" y2="283.8" stroke="#8a8a8a" stroke-width="0.6"/>
<line x1="100.6" y1="221.6" x2="146.9" y2="262.7" stroke="#8a8a8a" stroke-width="0.6"/>
<line x1="101.6" y1="199.7" x2="152.3" y2="237.8" stroke="#8a8a8a" stroke-width="0.6"/>
<line x1="38.9" y1="269.2" x2="68.4" y2="324.6" stroke="#8a8a8a" stroke-width="0.6"/>
<line x1="49.7" y1="265.6" x2="81.6" y2="318.7" stroke="#8a8a8a" stroke-width="0.6"/>
<line x1="60.2" y1="262.0" x2="94.2" y2="313.1" stroke="#8a8a8a" stroke-width="0.6"/>
<line x1="70.3" y1="258.6" x2="106.3" y2="307.6" stroke="#8a8a8a" stroke-width="0.6"/>
<line x1="80.1" y1="255.3" x2="117.9" y2="302.5" stroke="#8a8a8a" stroke-width="0.6"/>
<line x1="89.6" y1="252.1" x2="129.0" y2="297.5" stroke="#8a8a8a" stroke-width="0.6"/>
<line x1="98.7" y1="249.0" x2="139.7" y2="292.7" stroke="#8a8a8a" stroke-width="0.6"/>
<line x1="40.0" y1="271.3" x2="101.0" y2="250.4" stroke="#8a8a8a" stroke-width="0.6"/>
<line x1="43.9" y1="278.5" x2="106.5" y2="256.3" stroke="#8a8a8a" stroke-width="0.6"/>
<line x1="48.0" y1="286.3" x2="112.4" y2="262.5" stroke="#8a8a8a" stroke-width="0.6"/>
<line x1="52.5" y1="294.8" x2="118.7" y2="269.1" stroke="#8a8a8a" stroke-width="0.6"/>
<line x1="57.4" y1="303.9" x2="125.4" y2="276.3" stroke="#8a8a8a" stroke-width="0.6"/>
<line x1="62.7" y1="313.8" x2="132.7" y2="284.0" stroke="#8a8a8a" stroke-width="0.6"/>
<line x1="68.4" y1="324.6" x2="140.5" y2="292.3" stroke="#8a8a8a" stroke-width="0.6"/>
<line x1="99.4" y1="248.8" x2="140.5" y2="292.3" stroke="#8a8a8a" stroke-width="0.6"/>
<line x1="38.9" y1="269.2" x2="27.5" y2="204.7" stroke="#858585" stroke-width="0.6"/>
<line x1="38.9" y1="269.2" x2="68.4" y2="324.6" stroke="#858585" stroke-width="0.6"/>
<line x1="68.4" y1="324.6" x2="140.5" y2="292.3" stroke="#858585" stroke-width="0.6"/>
<line x1="34.9" y1="261.6" x2="37.4" y2="261.0" stroke="#858585" stroke-width="0.6"/>
<line x1="31.4" y1="241.5" x2="33.9" y2="240.9" stroke="#858585" stroke-width="0.6"/>
<line x1="27.3" y1="218.3" x2="29.8" y2="217.7" stroke="#858585" stroke-width="0.6"/>
<line x1="37.5" y1="271.3" x2="40.0" y2="271.3" stroke="#858585" stroke-width="0.6"/>
<line x1="41.4" y1="278.5" x2="43.9" y2="278.5" stroke="#858585" stroke-width="0.6"/>
<line x1="45.5" y1="286.3" x2="48.0" y2="286.3" stroke="#858585" stroke-width="0.6"/>
<line x1="50.0" y1="294.8" x2="52.5" y2="294.8" stroke="#858585" stroke-width="0.6"/>
<line x1="54.9" y1="303.9" x2="57.4" y2="303.9" stroke="#858585" stroke-width="0.6"/>
<line x1="60.2" y1="313.8" x2="62.7" y2="313.8" stroke="#858585" stroke-width="0.6"/>
<line x1="65.9" y1="324.6" x2="68.4" y2="324.6" stroke="#858585" stroke-width="0.6"/>
<line x1="68.4" y1="324.6" x2="69.6" y2="326.8" stroke="#858585" stroke-width="0.6"/>
<line x1="81.6" y1="318.7" x2="82.8" y2="320.9" stroke="#858585" stroke-width="0.6"/>
<line x1="94.2" y1="313.1" x2="95.4" y2="315.3" stroke="#858585" stroke-width="0.6"/>
<line x1="106.3" y1="307.6" x2="107.5" y2="309.8" stroke="#858585" stroke-width="0.6"/>
<line x1="117.9" y1="302.5" x2="119.1" y2="304.7" stroke="#858585" stroke-width="0.6"/>
<line x1="129.0" y1="297.5" x2="130.2" y2="299.7" stroke="#858585" stroke-width="0.6"/>
<line x1="139.7" y1="292.7" x2="140.9" y2="294.9" stroke="#858585" stroke-width="0.6"/>
<defs><linearGradient id="BL7066" gradientUnits="userSpaceOnUse" x1="101.5" y1="218.2" x2="100.2" y2="213.4"><stop offset="0.000" stop-color="#b66571"/><stop offset="1.000" stop-color="#b15967"/></linearGradient><linearGradient id="BL7067" gradientUnits="userSpaceOnUse" x1="101.5" y1="218.2" x2="100.2" y2="213.4"><stop offset="0.000" stop-color="#b66571"/><stop offset="1.000" stop-color="#b15967"/></linearGradient><linearGradient id="BL7068" gradientUnits="userSpaceOnUse" x1="90.6" y1="220.5" x2="89.5" y2="215.7"><stop offset="0.000" stop-color="#b86672"/><stop offset="1.000" stop-color="#b35968"/></linearGradient><linearGradient id="BL7069" gradientUnits="userSpaceOnUse" x1="91.0" y1="221.2" x2="89.9" y2="217.3"><stop offset="0.000" stop-color="#c36c77"/><stop offset="1.000" stop-color="#bf636f"/></linearGradient><linearGradient id="BL7070" gradientUnits="userSpaceOnUse" x1="69.2" y1="239.0" x2="74.8" y2="241.5"><stop offset="0.000" stop-color="#c3aab2"/><stop offset="0.400" stop-color="#ca9ba4"/><stop offset="1.000" stop-color="#c87d87"/></linearGradient><linearGradient id="BL7071" gradientUnits="userSpaceOnUse" x1="58.3" y1="242.3" x2="58.4" y2="242.5"><stop offset="0.000" stop-color="#bfa7af"/><stop offset="1.000" stop-color="#c2a0a8"/></linearGradient><linearGradient id="BL7072" gradientUnits="userSpaceOnUse" x1="79.4" y1="227.7" x2="81.4" y2="215.9"><stop offset="0.000" stop-color="#ca8891"/><stop offset="0.714" stop-color="#c86e79"/><stop offset="1.000" stop-color="#c46571"/></linearGradient><linearGradient id="BL7073" gradientUnits="userSpaceOnUse" x1="69.2" y1="239.0" x2="74.1" y2="241.4"><stop offset="0.000" stop-color="#c3aab2"/><stop offset="0.400" stop-color="#ca9ba4"/><stop offset="1.000" stop-color="#c87d87"/></linearGradient><linearGradient id="BL7074" gradientUnits="userSpaceOnUse" x1="101.8" y1="218.1" x2="102.2" y2="219.6"><stop offset="0.000" stop-color="#ca6f7a"/><stop offset="1.000" stop-color="#c05867"/></linearGradient><linearGradient id="BL7075" gradientUnits="userSpaceOnUse" x1="79.4" y1="227.7" x2="80.1" y2="228.7"><stop offset="0.000" stop-color="#ca8891"/><stop offset="1.000" stop-color="#c96e79"/></linearGradient><linearGradient id="BL7076" gradientUnits="userSpaceOnUse" x1="91.6" y1="221.0" x2="92.0" y2="222.6"><stop offset="0.000" stop-color="#ca6f7a"/><stop offset="1.000" stop-color="#c05867"/></linearGradient><linearGradient id="BL7077" gradientUnits="userSpaceOnUse" x1="101.8" y1="218.1" x2="102.3" y2="219.7"><stop offset="0.000" stop-color="#ca6f7a"/><stop offset="1.000" stop-color="#c05867"/></linearGradient><linearGradient id="BL7078" gradientUnits="userSpaceOnUse" x1="81.0" y1="227.3" x2="85.3" y2="232.1"><stop offset="0.000" stop-color="#d0828b"/><stop offset="0.375" stop-color="#cf727c"/><stop offset="1.000" stop-color="#c65a68"/></linearGradient><linearGradient id="BL7079" gradientUnits="userSpaceOnUse" x1="70.5" y1="238.8" x2="87.7" y2="234.7"><stop offset="0.000" stop-color="#cfaab1"/><stop offset="0.182" stop-color="#d3a2a9"/><stop offset="1.000" stop-color="#d0727c"/></linearGradient><linearGradient id="BL7080" gradientUnits="userSpaceOnUse" x1="118.8" y1="261.2" x2="120.5" y2="265.6"><stop offset="0.000" stop-color="#bdbbc2"/><stop offset="1.000" stop-color="#bfb9c0"/></linearGradient><linearGradient id="BL7081" gradientUnits="userSpaceOnUse" x1="37.1" y1="259.1" x2="50.1" y2="257.0"><stop offset="0.000" stop-color="#b2b0b8"/><stop offset="0.412" stop-color="#b5aeb6"/><stop offset="0.824" stop-color="#c1959e"/><stop offset="1.000" stop-color="#c08690"/></linearGradient><linearGradient id="BL7082" gradientUnits="userSpaceOnUse" x1="91.6" y1="221.0" x2="92.0" y2="222.6"><stop offset="0.000" stop-color="#ca6f7a"/><stop offset="1.000" stop-color="#c05867"/></linearGradient><linearGradient id="BL7083" gradientUnits="userSpaceOnUse" x1="59.3" y1="240.8" x2="59.7" y2="242.9"><stop offset="0.000" stop-color="#c6a3aa"/><stop offset="0.333" stop-color="#c99ba3"/><stop offset="1.000" stop-color="#c88790"/></linearGradient><linearGradient id="BL7084" gradientUnits="userSpaceOnUse" x1="109.2" y1="258.8" x2="109.1" y2="259.2"><stop offset="0.000" stop-color="#a3a3ac"/><stop offset="1.000" stop-color="#a5a1ab"/></linearGradient><linearGradient id="BL7085" gradientUnits="userSpaceOnUse" x1="81.0" y1="227.3" x2="96.4" y2="229.5"><stop offset="0.000" stop-color="#d6858e"/><stop offset="0.375" stop-color="#d5757f"/><stop offset="1.000" stop-color="#cb5c6a"/></linearGradient><linearGradient id="BL7086" gradientUnits="userSpaceOnUse" x1="133.3" y1="255.8" x2="116.3" y2="210.4"><stop offset="0.000" stop-color="#7b7d8a"/><stop offset="0.220" stop-color="#7d7b89"/><stop offset="0.390" stop-color="#856a78"/><stop offset="0.610" stop-color="#834c5b"/><stop offset="0.854" stop-color="#772e43"/><stop offset="1.000" stop-color="#6f2239"/></linearGradient><linearGradient id="BL7087" gradientUnits="userSpaceOnUse" x1="118.8" y1="261.2" x2="120.6" y2="265.7"><stop offset="0.000" stop-color="#bdbbc2"/><stop offset="1.000" stop-color="#bfb9c0"/></linearGradient><linearGradient id="BL7088" gradientUnits="userSpaceOnUse" x1="47.4" y1="239.9" x2="47.3" y2="240.5"><stop offset="0.000" stop-color="#ba959e"/><stop offset="0.200" stop-color="#bb919a"/><stop offset="1.000" stop-color="#ba7e89"/></linearGradient><linearGradient id="BL7089" gradientUnits="userSpaceOnUse" x1="96.1" y1="258.5" x2="81.3" y2="260.8"><stop offset="0.000" stop-color="#adadb5"/><stop offset="0.286" stop-color="#adadb5"/><stop offset="1.000" stop-color="#afabb4"/></linearGradient><linearGradient id="BL7090" gradientUnits="userSpaceOnUse" x1="38.1" y1="260.2" x2="53.4" y2="247.9"><stop offset="0.000" stop-color="#b4b1b9"/><stop offset="0.375" stop-color="#b6afb7"/><stop offset="0.812" stop-color="#c2969f"/><stop offset="1.000" stop-color="#c18791"/></linearGradient><linearGradient id="BL7091" gradientUnits="userSpaceOnUse" x1="98.0" y1="270.8" x2="109.7" y2="259.8"><stop offset="0.000" stop-color="#c5c3c9"/><stop offset="0.250" stop-color="#c5c3c9"/><stop offset="1.000" stop-color="#c8c1c7"/></linearGradient><linearGradient id="BL7092" gradientUnits="userSpaceOnUse" x1="38.1" y1="260.2" x2="54.0" y2="256.0"><stop offset="0.000" stop-color="#bab6be"/><stop offset="0.400" stop-color="#bcb4bc"/><stop offset="0.867" stop-color="#c89aa3"/><stop offset="1.000" stop-color="#c89099"/></linearGradient><linearGradient id="BL7093" gradientUnits="userSpaceOnUse" x1="128.5" y1="254.8" x2="104.6" y2="218.5"><stop offset="0.000" stop-color="#7b7e8b"/><stop offset="0.243" stop-color="#7e7c89"/><stop offset="0.432" stop-color="#866b78"/><stop offset="0.676" stop-color="#844c5c"/><stop offset="0.946" stop-color="#782e43"/><stop offset="1.000" stop-color="#752a40"/></linearGradient><linearGradient id="BL7094" gradientUnits="userSpaceOnUse" x1="80.7" y1="275.8" x2="69.9" y2="263.7"><stop offset="0.000" stop-color="#c3bfc5"/><stop offset="1.000" stop-color="#c4bec4"/></linearGradient><linearGradient id="BL7095" gradientUnits="userSpaceOnUse" x1="72.8" y1="264.3" x2="63.8" y2="242.2"><stop offset="0.000" stop-color="#9d9ba5"/><stop offset="0.267" stop-color="#9e99a4"/><stop offset="0.733" stop-color="#a9848e"/><stop offset="1.000" stop-color="#a8727e"/></linearGradient><linearGradient id="BL7096" gradientUnits="userSpaceOnUse" x1="80.6" y1="269.5" x2="83.6" y2="229.6"><stop offset="0.000" stop-color="#8e8f9b"/><stop offset="0.062" stop-color="#8e8f9b"/><stop offset="0.344" stop-color="#918d98"/><stop offset="0.562" stop-color="#9a7985"/><stop offset="0.844" stop-color="#985664"/><stop offset="1.000" stop-color="#914556"/></linearGradient><linearGradient id="BL7097" gradientUnits="userSpaceOnUse" x1="116.2" y1="252.5" x2="109.1" y2="259.2"><stop offset="0.000" stop-color="#c6c0c6"/><stop offset="1.000" stop-color="#c6c0c6"/></linearGradient><linearGradient id="BL7098" gradientUnits="userSpaceOnUse" x1="97.7" y1="270.9" x2="92.7" y2="230.3"><stop offset="0.000" stop-color="#878995"/><stop offset="0.062" stop-color="#878995"/><stop offset="0.344" stop-color="#8a8793"/><stop offset="0.562" stop-color="#937481"/><stop offset="0.844" stop-color="#915261"/><stop offset="1.000" stop-color="#8a4254"/></linearGradient><linearGradient id="BL7099" gradientUnits="userSpaceOnUse" x1="68.1" y1="282.2" x2="69.9" y2="263.7"><stop offset="0.000" stop-color="#aaaab3"/><stop offset="0.500" stop-color="#aaaab3"/><stop offset="1.000" stop-color="#ada8b1"/></linearGradient><linearGradient id="BL70100" gradientUnits="userSpaceOnUse" x1="91.1" y1="256.0" x2="74.8" y2="222.8"><stop offset="0.000" stop-color="#7b7b88"/><stop offset="0.138" stop-color="#7c7a88"/><stop offset="0.379" stop-color="#846977"/><stop offset="0.690" stop-color="#824b5b"/><stop offset="1.000" stop-color="#773145"/></linearGradient><linearGradient id="BL70101" gradientUnits="userSpaceOnUse" x1="69.1" y1="240.1" x2="90.9" y2="227.2"><stop offset="0.000" stop-color="#a6a3ac"/><stop offset="0.160" stop-color="#a8a2ab"/><stop offset="0.440" stop-color="#b38b95"/><stop offset="0.800" stop-color="#b0626f"/><stop offset="1.000" stop-color="#a84e5e"/></linearGradient><linearGradient id="BL70102" gradientUnits="userSpaceOnUse" x1="67.9" y1="286.7" x2="57.9" y2="265.8"><stop offset="0.000" stop-color="#9f9fa9"/><stop offset="0.429" stop-color="#9f9fa9"/><stop offset="1.000" stop-color="#a19da7"/></linearGradient><linearGradient id="BL70103" gradientUnits="userSpaceOnUse" x1="45.2" y1="245.0" x2="49.5" y2="235.7"><stop offset="0.000" stop-color="#dc9ea5"/><stop offset="1.000" stop-color="#db929a"/></linearGradient><linearGradient id="BL70104" gradientUnits="userSpaceOnUse" x1="65.3" y1="262.0" x2="62.4" y2="223.7"><stop offset="0.000" stop-color="#8f8e99"/><stop offset="0.138" stop-color="#918d98"/><stop offset="0.379" stop-color="#9a7985"/><stop offset="0.690" stop-color="#985664"/><stop offset="1.000" stop-color="#8b374a"/></linearGradient><linearGradient id="BL70105" gradientUnits="userSpaceOnUse" x1="129.6" y1="258.1" x2="116.3" y2="210.4"><stop offset="0.000" stop-color="#7b7d8a"/><stop offset="0.220" stop-color="#7d7b89"/><stop offset="0.390" stop-color="#856a78"/><stop offset="0.610" stop-color="#834c5b"/><stop offset="0.854" stop-color="#772e43"/><stop offset="1.000" stop-color="#6f2239"/></linearGradient><linearGradient id="BL70106" gradientUnits="userSpaceOnUse" x1="86.5" y1="229.8" x2="91.2" y2="233.9"><stop offset="0.000" stop-color="#c86e79"/><stop offset="0.833" stop-color="#b54153"/><stop offset="1.000" stop-color="#b13b4e"/></linearGradient><linearGradient id="BL70107" gradientUnits="userSpaceOnUse" x1="56.1" y1="266.8" x2="51.3" y2="245.0"><stop offset="0.000" stop-color="#a39fa9"/><stop offset="0.214" stop-color="#a49ea8"/><stop offset="0.714" stop-color="#ae8892"/><stop offset="1.000" stop-color="#ad7681"/></linearGradient><linearGradient id="BL70108" gradientUnits="userSpaceOnUse" x1="116.1" y1="261.9" x2="103.3" y2="213.8"><stop offset="0.000" stop-color="#7e808d"/><stop offset="0.220" stop-color="#807e8b"/><stop offset="0.390" stop-color="#886c7a"/><stop offset="0.610" stop-color="#864d5d"/><stop offset="0.854" stop-color="#7a2f43"/><stop offset="1.000" stop-color="#712239"/></linearGradient><linearGradient id="BL70109" gradientUnits="userSpaceOnUse" x1="126.5" y1="263.4" x2="128.5" y2="268.4"><stop offset="0.000" stop-color="#bfb9c0"/><stop offset="0.800" stop-color="#c0b8bf"/><stop offset="1.000" stop-color="#c2b4bb"/></linearGradient><linearGradient id="BL70110" gradientUnits="userSpaceOnUse" x1="41.7" y1="265.4" x2="47.7" y2="246.7"><stop offset="0.000" stop-color="#aeabb3"/><stop offset="0.308" stop-color="#b0a9b2"/><stop offset="0.846" stop-color="#bb919a"/><stop offset="1.000" stop-color="#bb8891"/></linearGradient><linearGradient id="BL70111" gradientUnits="userSpaceOnUse" x1="62.2" y1="267.8" x2="52.0" y2="248.1"><stop offset="0.000" stop-color="#a7a3ac"/><stop offset="0.250" stop-color="#a8a2ab"/><stop offset="0.833" stop-color="#b38b95"/><stop offset="1.000" stop-color="#b2828c"/></linearGradient><linearGradient id="BL70112" gradientUnits="userSpaceOnUse" x1="39.4" y1="268.0" x2="48.7" y2="257.6"><stop offset="0.000" stop-color="#cdc8cd"/><stop offset="1.000" stop-color="#cfc6cc"/></linearGradient><linearGradient id="BL70113" gradientUnits="userSpaceOnUse" x1="115.8" y1="265.6" x2="116.7" y2="269.7"><stop offset="0.000" stop-color="#bbb7be"/><stop offset="0.800" stop-color="#bdb5bd"/><stop offset="1.000" stop-color="#bfb2b9"/></linearGradient><linearGradient id="BL70114" gradientUnits="userSpaceOnUse" x1="75.9" y1="282.9" x2="92.0" y2="284.7"><stop offset="0.000" stop-color="#bab9c0"/><stop offset="0.400" stop-color="#bab9c0"/><stop offset="1.000" stop-color="#beb6bd"/></linearGradient><linearGradient id="BL70115" gradientUnits="userSpaceOnUse" x1="75.0" y1="265.0" x2="57.9" y2="265.8"><stop offset="0.000" stop-color="#92939e"/><stop offset="0.429" stop-color="#92939e"/><stop offset="1.000" stop-color="#94919c"/></linearGradient><linearGradient id="BL70116" gradientUnits="userSpaceOnUse" x1="98.9" y1="261.2" x2="90.9" y2="221.3"><stop offset="0.000" stop-color="#8a8894"/><stop offset="0.097" stop-color="#8a8793"/><stop offset="0.323" stop-color="#937481"/><stop offset="0.613" stop-color="#915361"/><stop offset="0.935" stop-color="#843246"/><stop offset="1.000" stop-color="#812d42"/></linearGradient><linearGradient id="BL70117" gradientUnits="userSpaceOnUse" x1="97.6" y1="221.0" x2="100.4" y2="224.2"><stop offset="0.000" stop-color="#bf5766"/><stop offset="0.455" stop-color="#b54153"/><stop offset="1.000" stop-color="#a92e44"/></linearGradient><linearGradient id="BL70118" gradientUnits="userSpaceOnUse" x1="86.5" y1="229.8" x2="100.6" y2="233.5"><stop offset="0.000" stop-color="#cd717b"/><stop offset="0.833" stop-color="#ba4254"/><stop offset="1.000" stop-color="#b63c4f"/></linearGradient><linearGradient id="BL70119" gradientUnits="userSpaceOnUse" x1="126.5" y1="263.4" x2="128.5" y2="268.5"><stop offset="0.000" stop-color="#bfb9c0"/><stop offset="0.800" stop-color="#c0b8bf"/><stop offset="1.000" stop-color="#c2b4bb"/></linearGradient><linearGradient id="BL70120" gradientUnits="userSpaceOnUse" x1="46.1" y1="274.1" x2="48.4" y2="263.8"><stop offset="0.000" stop-color="#c7c2c8"/><stop offset="1.000" stop-color="#c9c1c7"/></linearGradient><linearGradient id="BL70121" gradientUnits="userSpaceOnUse" x1="87.1" y1="270.1" x2="87.8" y2="273.3"><stop offset="0.000" stop-color="#b7b4bb"/><stop offset="1.000" stop-color="#b9b2ba"/></linearGradient><linearGradient id="BL70122" gradientUnits="userSpaceOnUse" x1="104.9" y1="267.8" x2="105.2" y2="270.4"><stop offset="0.000" stop-color="#b5b0b8"/><stop offset="0.500" stop-color="#b6afb7"/><stop offset="1.000" stop-color="#bba4ac"/></linearGradient><linearGradient id="BL70123" gradientUnits="userSpaceOnUse" x1="44.2" y1="282.9" x2="46.1" y2="274.1"><stop offset="0.000" stop-color="#cac6cc"/><stop offset="1.000" stop-color="#cbc6cb"/></linearGradient><linearGradient id="BL70124" gradientUnits="userSpaceOnUse" x1="116.0" y1="266.5" x2="116.3" y2="269.1"><stop offset="0.000" stop-color="#b5b0b8"/><stop offset="0.500" stop-color="#b6afb7"/><stop offset="1.000" stop-color="#bba4ac"/></linearGradient><linearGradient id="BL70125" gradientUnits="userSpaceOnUse" x1="102.2" y1="289.6" x2="93.4" y2="272.0"><stop offset="0.000" stop-color="#aeaeb6"/><stop offset="1.000" stop-color="#b2abb3"/></linearGradient><linearGradient id="BL70126" gradientUnits="userSpaceOnUse" x1="100.8" y1="281.3" x2="107.2" y2="262.3"><stop offset="0.000" stop-color="#b2b1b9"/><stop offset="0.750" stop-color="#b5aeb6"/><stop offset="1.000" stop-color="#baa3ac"/></linearGradient><linearGradient id="BL70127" gradientUnits="userSpaceOnUse" x1="140.0" y1="278.3" x2="135.1" y2="265.9"><stop offset="0.000" stop-color="#c6bfc5"/><stop offset="0.667" stop-color="#c7bec4"/><stop offset="1.000" stop-color="#c9bac1"/></linearGradient><linearGradient id="BL70128" gradientUnits="userSpaceOnUse" x1="140.4" y1="278.3" x2="135.1" y2="265.9"><stop offset="0.000" stop-color="#c6bfc5"/><stop offset="0.667" stop-color="#c7bec4"/><stop offset="1.000" stop-color="#c9bac1"/></linearGradient><linearGradient id="BL70129" gradientUnits="userSpaceOnUse" x1="142.3" y1="278.4" x2="124.3" y2="268.1"><stop offset="0.000" stop-color="#beb8bf"/><stop offset="0.400" stop-color="#bfb7be"/><stop offset="1.000" stop-color="#c4acb3"/></linearGradient><linearGradient id="BL70130" gradientUnits="userSpaceOnUse" x1="112.9" y1="282.2" x2="93.4" y2="272.0"><stop offset="0.000" stop-color="#adacb5"/><stop offset="1.000" stop-color="#b0aab2"/></linearGradient><linearGradient id="BL70131" gradientUnits="userSpaceOnUse" x1="51.1" y1="284.4" x2="58.0" y2="292.0"><stop offset="0.000" stop-color="#c5c2c8"/><stop offset="1.000" stop-color="#c8c0c6"/></linearGradient><linearGradient id="BL70132" gradientUnits="userSpaceOnUse" x1="111.5" y1="284.9" x2="122.3" y2="266.9"><stop offset="0.000" stop-color="#b9b7bf"/><stop offset="0.750" stop-color="#bcb5bc"/><stop offset="1.000" stop-color="#c2a9b1"/></linearGradient><linearGradient id="BL70133" gradientUnits="userSpaceOnUse" x1="63.4" y1="277.8" x2="67.7" y2="284.9"><stop offset="0.000" stop-color="#c4bfc6"/><stop offset="1.000" stop-color="#c6bec4"/></linearGradient><linearGradient id="BL70134" gradientUnits="userSpaceOnUse" x1="86.5" y1="290.8" x2="81.2" y2="276.6"><stop offset="0.000" stop-color="#bebac1"/><stop offset="1.000" stop-color="#c0b8bf"/></linearGradient><linearGradient id="BL70135" gradientUnits="userSpaceOnUse" x1="102.6" y1="280.6" x2="100.0" y2="285.7"><stop offset="0.000" stop-color="#b3b2ba"/><stop offset="1.000" stop-color="#b4b1b9"/></linearGradient><linearGradient id="BL70136" gradientUnits="userSpaceOnUse" x1="111.5" y1="284.9" x2="131.1" y2="278.3"><stop offset="0.000" stop-color="#c8c6cb"/><stop offset="1.000" stop-color="#cbc3c9"/></linearGradient><linearGradient id="BL70137" gradientUnits="userSpaceOnUse" x1="135.4" y1="282.9" x2="124.3" y2="268.1"><stop offset="0.000" stop-color="#c0b9c0"/><stop offset="0.400" stop-color="#c0b8bf"/><stop offset="1.000" stop-color="#c6adb4"/></linearGradient><linearGradient id="BL70138" gradientUnits="userSpaceOnUse" x1="51.1" y1="284.4" x2="65.3" y2="276.5"><stop offset="0.000" stop-color="#cac6cc"/><stop offset="1.000" stop-color="#cdc4ca"/></linearGradient><linearGradient id="BL70139" gradientUnits="userSpaceOnUse" x1="85.3" y1="292.3" x2="81.2" y2="276.6"><stop offset="0.000" stop-color="#bcb9c0"/><stop offset="1.000" stop-color="#bfb7be"/></linearGradient><linearGradient id="BL70140" gradientUnits="userSpaceOnUse" x1="71.7" y1="295.6" x2="67.9" y2="279.8"><stop offset="0.000" stop-color="#bcb9c0"/><stop offset="1.000" stop-color="#bfb7be"/></linearGradient><linearGradient id="BL70141" gradientUnits="userSpaceOnUse" x1="105.3" y1="298.0" x2="100.0" y2="285.7"><stop offset="0.000" stop-color="#c6c3c9"/><stop offset="1.000" stop-color="#c7c2c8"/></linearGradient><linearGradient id="BL70142" gradientUnits="userSpaceOnUse" x1="87.8" y1="297.5" x2="87.6" y2="286.0"><stop offset="0.000" stop-color="#c9c5cb"/><stop offset="1.000" stop-color="#cac4ca"/></linearGradient><linearGradient id="BL70143" gradientUnits="userSpaceOnUse" x1="56.1" y1="293.5" x2="65.9" y2="280.4"><stop offset="0.000" stop-color="#c8c5cb"/><stop offset="1.000" stop-color="#cbc3c9"/></linearGradient><linearGradient id="BL70144" gradientUnits="userSpaceOnUse" x1="88.7" y1="286.3" x2="68.6" y2="282.4"><stop offset="0.000" stop-color="#b9b6bd"/><stop offset="1.000" stop-color="#bcb5bc"/></linearGradient><linearGradient id="BL70145" gradientUnits="userSpaceOnUse" x1="88.1" y1="303.8" x2="87.7" y2="291.7"><stop offset="0.000" stop-color="#c8c5cb"/><stop offset="1.000" stop-color="#c9c5ca"/></linearGradient><linearGradient id="BL70146" gradientUnits="userSpaceOnUse" x1="53.6" y1="295.8" x2="65.8" y2="284.4"><stop offset="0.000" stop-color="#cbc8cd"/><stop offset="1.000" stop-color="#cdc6cc"/></linearGradient><linearGradient id="BL70147" gradientUnits="userSpaceOnUse" x1="95.5" y1="296.7" x2="74.7" y2="293.9"><stop offset="0.000" stop-color="#b9b7be"/><stop offset="1.000" stop-color="#bbb5bd"/></linearGradient><linearGradient id="BL70148" gradientUnits="userSpaceOnUse" x1="81.3" y1="309.3" x2="74.7" y2="293.9"><stop offset="0.000" stop-color="#bdbbc2"/><stop offset="1.000" stop-color="#bfb9c0"/></linearGradient><linearGradient id="BL70149" gradientUnits="userSpaceOnUse" x1="61.6" y1="304.4" x2="64.8" y2="291.5"><stop offset="0.000" stop-color="#c2c0c6"/><stop offset="1.000" stop-color="#c4bec4"/></linearGradient></defs>
<g stroke-width=".9" stroke-linejoin="round">
<polygon points="100.2,213.4 101.0,213.2 102.6,217.9" fill="url(#BL7066)" stroke="url(#BL7066)"/>
<polygon points="100.2,213.4 102.6,217.9 101.8,218.1" fill="url(#BL7067)" stroke="url(#BL7067)"/>
<polygon points="89.9,217.3 100.2,213.4 101.8,218.1" fill="url(#BL7068)" stroke="url(#BL7068)"/>
<polygon points="89.9,217.3 101.8,218.1 91.6,221.0" fill="url(#BL7069)" stroke="url(#BL7069)"/>
<polygon points="69.2,239.0 79.4,227.7 81.0,227.3" fill="url(#BL7070)" stroke="url(#BL7070)"/>
<polygon points="58.3,242.3 69.2,239.0 70.5,238.8" fill="url(#BL7071)" stroke="url(#BL7071)"/>
<polygon points="79.4,227.7 89.9,217.3 91.6,221.0" fill="url(#BL7072)" stroke="url(#BL7072)"/>
<polygon points="69.2,239.0 81.0,227.3 70.5,238.8" fill="url(#BL7073)" stroke="url(#BL7073)"/>
<polygon points="101.8,218.1 102.6,217.9 109.2,217.7" fill="url(#BL7074)" stroke="url(#BL7074)"/>
<polygon points="79.4,227.7 91.6,221.0 81.0,227.3" fill="url(#BL7075)" stroke="url(#BL7075)"/>
<polygon points="91.6,221.0 101.8,218.1 108.4,217.9" fill="url(#BL7076)" stroke="url(#BL7076)"/>
<polygon points="101.8,218.1 109.2,217.7 108.4,217.9" fill="url(#BL7077)" stroke="url(#BL7077)"/>
<polygon points="81.0,227.3 91.6,221.0 97.6,221.0" fill="url(#BL7078)" stroke="url(#BL7078)"/>
<polygon points="70.5,238.8 81.0,227.3 86.5,229.8" fill="url(#BL7079)" stroke="url(#BL7079)"/>
<polygon points="118.8,261.2 119.6,260.9 127.4,263.1" fill="url(#BL7080)" stroke="url(#BL7080)"/>
<polygon points="37.1,259.1 47.4,240.4 38.1,260.2" fill="url(#BL7081)" stroke="url(#BL7081)"/>
<polygon points="91.6,221.0 108.4,217.9 97.6,221.0" fill="url(#BL7082)" stroke="url(#BL7082)"/>
<polygon points="59.4,241.1 70.5,238.8 63.8,242.2" fill="url(#BL7083)" stroke="url(#BL7083)"/>
<polygon points="109.1,259.2 118.8,261.2 126.5,263.4" fill="url(#BL7084)" stroke="url(#BL7084)"/>
<polygon points="81.0,227.3 97.6,221.0 86.5,229.8" fill="url(#BL7085)" stroke="url(#BL7085)"/>
<polygon points="116.3,210.4 119.6,260.9 118.8,261.2" fill="url(#BL7086)" stroke="url(#BL7086)"/>
<polygon points="118.8,261.2 127.4,263.1 126.5,263.4" fill="url(#BL7087)" stroke="url(#BL7087)"/>
<polygon points="47.4,240.4 59.4,241.1 63.8,242.2" fill="url(#BL7088)" stroke="url(#BL7088)"/>
<polygon points="81.3,260.8 98.0,270.8 87.1,270.1" fill="url(#BL7089)" stroke="url(#BL7089)"/>
<polygon points="38.1,260.2 47.4,240.4 52.0,248.1" fill="url(#BL7090)" stroke="url(#BL7090)"/>
<polygon points="98.0,270.8 109.1,259.2 116.0,266.5" fill="url(#BL7091)" stroke="url(#BL7091)"/>
<polygon points="38.1,260.2 52.0,248.1 41.7,265.4" fill="url(#BL7092)" stroke="url(#BL7092)"/>
<polygon points="104.6,218.5 118.8,261.2 109.1,259.2" fill="url(#BL7093)" stroke="url(#BL7093)"/>
<polygon points="69.9,263.7 81.3,260.8 87.1,270.1" fill="url(#BL7094)" stroke="url(#BL7094)"/>
<polygon points="63.8,242.2 81.3,260.8 69.9,263.7" fill="url(#BL7095)" stroke="url(#BL7095)"/>
<polygon points="81.3,260.8 92.7,230.3 98.0,270.8" fill="url(#BL7096)" stroke="url(#BL7096)"/>
<polygon points="109.1,259.2 126.5,263.4 116.0,266.5" fill="url(#BL7097)" stroke="url(#BL7097)"/>
<polygon points="92.7,230.3 109.1,259.2 98.0,270.8" fill="url(#BL7098)" stroke="url(#BL7098)"/>
<polygon points="69.9,263.7 87.1,270.1 75.9,282.9" fill="url(#BL7099)" stroke="url(#BL7099)"/>
<polygon points="74.8,222.8 86.5,229.8 81.3,260.8" fill="url(#BL70100)" stroke="url(#BL70100)"/>
<polygon points="86.5,229.8 92.7,230.3 81.3,260.8" fill="url(#BL70101)" stroke="url(#BL70101)"/>
<polygon points="57.9,265.8 69.9,263.7 75.9,282.9" fill="url(#BL70102)" stroke="url(#BL70102)"/>
<polygon points="47.4,240.4 63.8,242.2 52.0,248.1" fill="url(#BL70103)" stroke="url(#BL70103)"/>
<polygon points="63.8,242.2 74.8,222.8 81.3,260.8" fill="url(#BL70104)" stroke="url(#BL70104)"/>
<polygon points="116.3,210.4 117.2,210.1 119.6,260.9" fill="url(#BL70105)" stroke="url(#BL70105)"/>
<polygon points="86.5,229.8 97.6,221.0 104.6,218.5" fill="url(#BL70106)" stroke="url(#BL70106)"/>
<polygon points="52.0,248.1 63.8,242.2 69.9,263.7" fill="url(#BL70107)" stroke="url(#BL70107)"/>
<polygon points="104.6,218.5 116.3,210.4 118.8,261.2" fill="url(#BL70108)" stroke="url(#BL70108)"/>
<polygon points="126.5,263.4 127.4,263.1 136.0,265.5" fill="url(#BL70109)" stroke="url(#BL70109)"/>
<polygon points="41.7,265.4 52.0,248.1 57.9,265.8" fill="url(#BL70110)" stroke="url(#BL70110)"/>
<polygon points="52.0,248.1 69.9,263.7 57.9,265.8" fill="url(#BL70111)" stroke="url(#BL70111)"/>
<polygon points="41.7,265.4 57.9,265.8 46.1,274.1" fill="url(#BL70112)" stroke="url(#BL70112)"/>
<polygon points="116.0,266.5 126.5,263.4 135.1,265.9" fill="url(#BL70113)" stroke="url(#BL70113)"/>
<polygon points="75.9,282.9 87.1,270.1 93.4,272.0" fill="url(#BL70114)" stroke="url(#BL70114)"/>
<polygon points="57.9,265.8 75.9,282.9 63.4,277.8" fill="url(#BL70115)" stroke="url(#BL70115)"/>
<polygon points="92.7,230.3 104.6,218.5 109.1,259.2" fill="url(#BL70116)" stroke="url(#BL70116)"/>
<polygon points="97.6,221.0 116.3,210.4 104.6,218.5" fill="url(#BL70117)" stroke="url(#BL70117)"/>
<polygon points="86.5,229.8 104.6,218.5 92.7,230.3" fill="url(#BL70118)" stroke="url(#BL70118)"/>
<polygon points="126.5,263.4 136.0,265.5 135.1,265.9" fill="url(#BL70119)" stroke="url(#BL70119)"/>
<polygon points="46.1,274.1 57.9,265.8 63.4,277.8" fill="url(#BL70120)" stroke="url(#BL70120)"/>
<polygon points="87.1,270.1 105.0,268.7 93.4,272.0" fill="url(#BL70121)" stroke="url(#BL70121)"/>
<polygon points="105.0,268.7 116.0,266.5 124.3,268.1" fill="url(#BL70122)" stroke="url(#BL70122)"/>
<polygon points="46.1,274.1 63.4,277.8 51.1,284.4" fill="url(#BL70123)" stroke="url(#BL70123)"/>
<polygon points="116.0,266.5 135.1,265.9 124.3,268.1" fill="url(#BL70124)" stroke="url(#BL70124)"/>
<polygon points="93.4,272.0 105.0,268.7 111.5,284.9" fill="url(#BL70125)" stroke="url(#BL70125)"/>
<polygon points="105.0,268.7 124.3,268.1 111.5,284.9" fill="url(#BL70126)" stroke="url(#BL70126)"/>
<polygon points="135.1,265.9 136.0,265.5 143.9,276.8" fill="url(#BL70127)" stroke="url(#BL70127)"/>
<polygon points="135.1,265.9 143.9,276.8 143.0,277.2" fill="url(#BL70128)" stroke="url(#BL70128)"/>
<polygon points="124.3,268.1 135.1,265.9 143.0,277.2" fill="url(#BL70129)" stroke="url(#BL70129)"/>
<polygon points="93.4,272.0 111.5,284.9 100.0,285.7" fill="url(#BL70130)" stroke="url(#BL70130)"/>
<polygon points="51.1,284.4 63.4,277.8 68.6,282.4" fill="url(#BL70131)" stroke="url(#BL70131)"/>
<polygon points="111.5,284.9 124.3,268.1 131.9,280.9" fill="url(#BL70132)" stroke="url(#BL70132)"/>
<polygon points="63.4,277.8 81.2,276.6 68.6,282.4" fill="url(#BL70133)" stroke="url(#BL70133)"/>
<polygon points="81.2,276.6 93.4,272.0 100.0,285.7" fill="url(#BL70134)" stroke="url(#BL70134)"/>
<polygon points="100.0,285.7 111.5,284.9 119.3,292.0" fill="url(#BL70135)" stroke="url(#BL70135)"/>
<polygon points="111.5,284.9 131.9,280.9 119.3,292.0" fill="url(#BL70136)" stroke="url(#BL70136)"/>
<polygon points="124.3,268.1 143.0,277.2 131.9,280.9" fill="url(#BL70137)" stroke="url(#BL70137)"/>
<polygon points="51.1,284.4 68.6,282.4 56.1,293.5" fill="url(#BL70138)" stroke="url(#BL70138)"/>
<polygon points="81.2,276.6 100.0,285.7 87.7,291.7" fill="url(#BL70139)" stroke="url(#BL70139)"/>
<polygon points="68.6,282.4 81.2,276.6 87.7,291.7" fill="url(#BL70140)" stroke="url(#BL70140)"/>
<polygon points="100.0,285.7 119.3,292.0 107.2,297.2" fill="url(#BL70141)" stroke="url(#BL70141)"/>
<polygon points="87.7,291.7 100.0,285.7 107.2,297.2" fill="url(#BL70142)" stroke="url(#BL70142)"/>
<polygon points="56.1,293.5 68.6,282.4 74.7,293.9" fill="url(#BL70143)" stroke="url(#BL70143)"/>
<polygon points="68.6,282.4 87.7,291.7 74.7,293.9" fill="url(#BL70144)" stroke="url(#BL70144)"/>
<polygon points="87.7,291.7 107.2,297.2 94.6,303.6" fill="url(#BL70145)" stroke="url(#BL70145)"/>
<polygon points="56.1,293.5 74.7,293.9 61.6,304.4" fill="url(#BL70146)" stroke="url(#BL70146)"/>
<polygon points="74.7,293.9 87.7,291.7 94.6,303.6" fill="url(#BL70147)" stroke="url(#BL70147)"/>
<polygon points="74.7,293.9 94.6,303.6 81.4,309.3" fill="url(#BL70148)" stroke="url(#BL70148)"/>
<polygon points="61.6,304.4 74.7,293.9 81.4,309.3" fill="url(#BL70149)" stroke="url(#BL70149)"/>
<polygon points="61.6,304.4 81.4,309.3 67.6,315.2" fill="#c8c5cb" stroke="#c8c5cb"/>
</g>
<text transform="translate(29.2,262.8) rotate(-18)" font-size="7.6" text-anchor="middle" font-weight="normal" fill="#2a2a2a" stroke="#2a2a2a" stroke-width="0.18" dominant-baseline="central">0</text>
<text transform="translate(25.7,242.7) rotate(-18)" font-size="7.6" text-anchor="middle" font-weight="normal" fill="#2a2a2a" stroke="#2a2a2a" stroke-width="0.18" dominant-baseline="central">20</text>
<text transform="translate(21.6,219.5) rotate(-18)" font-size="7.6" text-anchor="middle" font-weight="normal" fill="#2a2a2a" stroke="#2a2a2a" stroke-width="0.18" dominant-baseline="central">40</text>
<text transform="translate(28.5,275.3) rotate(-30)" font-size="7.6" text-anchor="middle" font-weight="normal" fill="#2a2a2a" stroke="#2a2a2a" stroke-width="0.18" dominant-baseline="central">4.68</text>
<text transform="translate(32.4,282.5) rotate(-30)" font-size="7.6" text-anchor="middle" font-weight="normal" fill="#2a2a2a" stroke="#2a2a2a" stroke-width="0.18" dominant-baseline="central">9.37</text>
<text transform="translate(36.5,290.3) rotate(-30)" font-size="7.6" text-anchor="middle" font-weight="normal" fill="#2a2a2a" stroke="#2a2a2a" stroke-width="0.18" dominant-baseline="central">18.7</text>
<text transform="translate(41.0,298.8) rotate(-30)" font-size="7.6" text-anchor="middle" font-weight="normal" fill="#2a2a2a" stroke="#2a2a2a" stroke-width="0.18" dominant-baseline="central">37.5</text>
<text transform="translate(45.9,307.9) rotate(-30)" font-size="7.6" text-anchor="middle" font-weight="normal" fill="#2a2a2a" stroke="#2a2a2a" stroke-width="0.18" dominant-baseline="central">75</text>
<text transform="translate(51.2,317.8) rotate(-30)" font-size="7.6" text-anchor="middle" font-weight="normal" fill="#2a2a2a" stroke="#2a2a2a" stroke-width="0.18" dominant-baseline="central">150</text>
<text transform="translate(56.9,328.6) rotate(-30)" font-size="7.6" text-anchor="middle" font-weight="normal" fill="#2a2a2a" stroke="#2a2a2a" stroke-width="0.18" dominant-baseline="central">300</text>
<text transform="translate(73.4,333.1) rotate(58)" font-size="7.6" text-anchor="middle" font-weight="normal" fill="#2a2a2a" stroke="#2a2a2a" stroke-width="0.18" dominant-baseline="central">30</text>
<text transform="translate(86.6,327.2) rotate(58)" font-size="7.6" text-anchor="middle" font-weight="normal" fill="#2a2a2a" stroke="#2a2a2a" stroke-width="0.18" dominant-baseline="central">15</text>
<text transform="translate(99.2,321.6) rotate(58)" font-size="7.6" text-anchor="middle" font-weight="normal" fill="#2a2a2a" stroke="#2a2a2a" stroke-width="0.18" dominant-baseline="central">7.5</text>
<text transform="translate(111.3,316.1) rotate(58)" font-size="7.6" text-anchor="middle" font-weight="normal" fill="#2a2a2a" stroke="#2a2a2a" stroke-width="0.18" dominant-baseline="central">3.75</text>
<text transform="translate(122.9,311.0) rotate(58)" font-size="7.6" text-anchor="middle" font-weight="normal" fill="#2a2a2a" stroke="#2a2a2a" stroke-width="0.18" dominant-baseline="central">1.87</text>
<text transform="translate(134.0,306.0) rotate(58)" font-size="7.6" text-anchor="middle" font-weight="normal" fill="#2a2a2a" stroke="#2a2a2a" stroke-width="0.18" dominant-baseline="central">0.94</text>
<text transform="translate(144.7,301.2) rotate(58)" font-size="7.6" text-anchor="middle" font-weight="normal" fill="#2a2a2a" stroke="#2a2a2a" stroke-width="0.18" dominant-baseline="central">0.47</text>
<text transform="translate(25.5,306.8) rotate(65)" font-size="8" text-anchor="middle" font-weight="normal" fill="#2a2a2a" stroke="#2a2a2a" stroke-width="0.18" dominant-baseline="central">MTX (nM)</text>
<text transform="translate(125.7,331.5) rotate(-22)" font-size="8.4" text-anchor="middle" font-weight="normal" fill="#2a2a2a" stroke="#2a2a2a" stroke-width="0.18" dominant-baseline="central">SHIN1 (μM)</text>
<text transform="translate(13.9,240.4) rotate(-80)" font-size="8.6" text-anchor="middle" font-weight="normal" fill="#2a2a2a" stroke="#2a2a2a" stroke-width="0.18" dominant-baseline="central">eob (%)</text>
<text transform="translate(27.5,192.4)" font-size="8.8" text-anchor="start" font-weight="bold" fill="#111" dominant-baseline="central">BL70</text>
<line x1="39.4" y1="441.7" x2="28.0" y2="377.2" stroke="#8a8a8a" stroke-width="0.6"/>
<line x1="50.2" y1="438.1" x2="41.6" y2="374.1" stroke="#8a8a8a" stroke-width="0.6"/>
<line x1="60.7" y1="434.5" x2="54.6" y2="371.1" stroke="#8a8a8a" stroke-width="0.6"/>
<line x1="70.8" y1="431.1" x2="67.1" y2="368.2" stroke="#8a8a8a" stroke-width="0.6"/>
<line x1="80.6" y1="427.8" x2="79.1" y2="365.5" stroke="#8a8a8a" stroke-width="0.6"/>
<line x1="90.1" y1="424.6" x2="90.6" y2="362.8" stroke="#8a8a8a" stroke-width="0.6"/>
<line x1="99.2" y1="421.5" x2="101.7" y2="360.3" stroke="#8a8a8a" stroke-width="0.6"/>
<line x1="37.9" y1="433.5" x2="100.3" y2="413.3" stroke="#8a8a8a" stroke-width="0.6"/>
<line x1="34.4" y1="413.4" x2="101.1" y2="394.1" stroke="#8a8a8a" stroke-width="0.6"/>
<line x1="30.3" y1="390.2" x2="102.1" y2="372.2" stroke="#8a8a8a" stroke-width="0.6"/>
<line x1="101.5" y1="422.9" x2="104.5" y2="361.4" stroke="#8a8a8a" stroke-width="0.6"/>
<line x1="107.0" y1="428.8" x2="111.4" y2="366.0" stroke="#8a8a8a" stroke-width="0.6"/>
<line x1="112.9" y1="435.0" x2="118.8" y2="371.0" stroke="#8a8a8a" stroke-width="0.6"/>
<line x1="119.2" y1="441.6" x2="126.8" y2="376.5" stroke="#8a8a8a" stroke-width="0.6"/>
<line x1="125.9" y1="448.8" x2="135.6" y2="382.4" stroke="#8a8a8a" stroke-width="0.6"/>
<line x1="133.2" y1="456.5" x2="145.3" y2="388.9" stroke="#8a8a8a" stroke-width="0.6"/>
<line x1="141.0" y1="464.8" x2="155.9" y2="396.1" stroke="#8a8a8a" stroke-width="0.6"/>
<line x1="100.3" y1="413.3" x2="142.9" y2="456.3" stroke="#8a8a8a" stroke-width="0.6"/>
<line x1="101.1" y1="394.1" x2="147.4" y2="435.2" stroke="#8a8a8a" stroke-width="0.6"/>
<line x1="102.1" y1="372.2" x2="152.8" y2="410.3" stroke="#8a8a8a" stroke-width="0.6"/>
<line x1="39.4" y1="441.7" x2="68.9" y2="497.1" stroke="#8a8a8a" stroke-width="0.6"/>
<line x1="50.2" y1="438.1" x2="82.1" y2="491.2" stroke="#8a8a8a" stroke-width="0.6"/>
<line x1="60.7" y1="434.5" x2="94.7" y2="485.6" stroke="#8a8a8a" stroke-width="0.6"/>
<line x1="70.8" y1="431.1" x2="106.8" y2="480.1" stroke="#8a8a8a" stroke-width="0.6"/>
<line x1="80.6" y1="427.8" x2="118.4" y2="475.0" stroke="#8a8a8a" stroke-width="0.6"/>
<line x1="90.1" y1="424.6" x2="129.5" y2="470.0" stroke="#8a8a8a" stroke-width="0.6"/>
<line x1="99.2" y1="421.5" x2="140.2" y2="465.2" stroke="#8a8a8a" stroke-width="0.6"/>
<line x1="40.5" y1="443.8" x2="101.5" y2="422.9" stroke="#8a8a8a" stroke-width="0.6"/>
<line x1="44.4" y1="451.0" x2="107.0" y2="428.8" stroke="#8a8a8a" stroke-width="0.6"/>
<line x1="48.5" y1="458.8" x2="112.9" y2="435.0" stroke="#8a8a8a" stroke-width="0.6"/>
<line x1="53.0" y1="467.3" x2="119.2" y2="441.6" stroke="#8a8a8a" stroke-width="0.6"/>
<line x1="57.9" y1="476.4" x2="125.9" y2="448.8" stroke="#8a8a8a" stroke-width="0.6"/>
<line x1="63.2" y1="486.3" x2="133.2" y2="456.5" stroke="#8a8a8a" stroke-width="0.6"/>
<line x1="68.9" y1="497.1" x2="141.0" y2="464.8" stroke="#8a8a8a" stroke-width="0.6"/>
<line x1="99.9" y1="421.3" x2="141.0" y2="464.8" stroke="#8a8a8a" stroke-width="0.6"/>
<line x1="39.4" y1="441.7" x2="28.0" y2="377.2" stroke="#858585" stroke-width="0.6"/>
<line x1="39.4" y1="441.7" x2="68.9" y2="497.1" stroke="#858585" stroke-width="0.6"/>
<line x1="68.9" y1="497.1" x2="141.0" y2="464.8" stroke="#858585" stroke-width="0.6"/>
<line x1="35.4" y1="434.1" x2="37.9" y2="433.5" stroke="#858585" stroke-width="0.6"/>
<line x1="31.9" y1="414.0" x2="34.4" y2="413.4" stroke="#858585" stroke-width="0.6"/>
<line x1="27.8" y1="390.8" x2="30.3" y2="390.2" stroke="#858585" stroke-width="0.6"/>
<line x1="38.0" y1="443.8" x2="40.5" y2="443.8" stroke="#858585" stroke-width="0.6"/>
<line x1="41.9" y1="451.0" x2="44.4" y2="451.0" stroke="#858585" stroke-width="0.6"/>
<line x1="46.0" y1="458.8" x2="48.5" y2="458.8" stroke="#858585" stroke-width="0.6"/>
<line x1="50.5" y1="467.3" x2="53.0" y2="467.3" stroke="#858585" stroke-width="0.6"/>
<line x1="55.4" y1="476.4" x2="57.9" y2="476.4" stroke="#858585" stroke-width="0.6"/>
<line x1="60.7" y1="486.3" x2="63.2" y2="486.3" stroke="#858585" stroke-width="0.6"/>
<line x1="66.4" y1="497.1" x2="68.9" y2="497.1" stroke="#858585" stroke-width="0.6"/>
<line x1="68.9" y1="497.1" x2="70.1" y2="499.3" stroke="#858585" stroke-width="0.6"/>
<line x1="82.1" y1="491.2" x2="83.3" y2="493.4" stroke="#858585" stroke-width="0.6"/>
<line x1="94.7" y1="485.6" x2="95.9" y2="487.8" stroke="#858585" stroke-width="0.6"/>
<line x1="106.8" y1="480.1" x2="108.0" y2="482.3" stroke="#858585" stroke-width="0.6"/>
<line x1="118.4" y1="475.0" x2="119.6" y2="477.2" stroke="#858585" stroke-width="0.6"/>
<line x1="129.5" y1="470.0" x2="130.7" y2="472.2" stroke="#858585" stroke-width="0.6"/>
<line x1="140.2" y1="465.2" x2="141.4" y2="467.4" stroke="#858585" stroke-width="0.6"/>
<defs><linearGradient id="BL60150" gradientUnits="userSpaceOnUse" x1="99.8" y1="406.2" x2="99.9" y2="406.4"><stop offset="0.000" stop-color="#bab3ba"/><stop offset="0.500" stop-color="#bab2ba"/><stop offset="1.000" stop-color="#bcafb6"/></linearGradient><linearGradient id="BL60151" gradientUnits="userSpaceOnUse" x1="99.8" y1="406.2" x2="99.9" y2="406.4"><stop offset="0.000" stop-color="#bab3ba"/><stop offset="0.500" stop-color="#bab2ba"/><stop offset="1.000" stop-color="#bcafb6"/></linearGradient><linearGradient id="BL60152" gradientUnits="userSpaceOnUse" x1="101.6" y1="405.8" x2="103.2" y2="410.8"><stop offset="0.000" stop-color="#cbbcc2"/><stop offset="1.000" stop-color="#cfb4bb"/></linearGradient><linearGradient id="BL60153" gradientUnits="userSpaceOnUse" x1="92.3" y1="404.3" x2="91.9" y2="406.9"><stop offset="0.000" stop-color="#c3b5bc"/><stop offset="1.000" stop-color="#c6adb5"/></linearGradient><linearGradient id="BL60154" gradientUnits="userSpaceOnUse" x1="101.6" y1="405.8" x2="103.2" y2="410.9"><stop offset="0.000" stop-color="#cbbcc2"/><stop offset="1.000" stop-color="#cfb4bb"/></linearGradient><linearGradient id="BL60155" gradientUnits="userSpaceOnUse" x1="59.8" y1="425.5" x2="60.4" y2="426.5"><stop offset="0.000" stop-color="#bbb9c0"/><stop offset="1.000" stop-color="#bcb7bf"/></linearGradient><linearGradient id="BL60156" gradientUnits="userSpaceOnUse" x1="70.2" y1="420.2" x2="71.8" y2="421.3"><stop offset="0.000" stop-color="#b1aeb6"/><stop offset="0.500" stop-color="#b3acb4"/><stop offset="1.000" stop-color="#bd97a0"/></linearGradient><linearGradient id="BL60157" gradientUnits="userSpaceOnUse" x1="70.2" y1="420.2" x2="77.3" y2="422.3"><stop offset="0.000" stop-color="#b8b5bd"/><stop offset="0.500" stop-color="#bbb3bb"/><stop offset="1.000" stop-color="#c59da5"/></linearGradient><linearGradient id="BL60158" gradientUnits="userSpaceOnUse" x1="59.8" y1="425.5" x2="64.9" y2="429.2"><stop offset="0.000" stop-color="#c7c5ca"/><stop offset="1.000" stop-color="#c9c3c9"/></linearGradient><linearGradient id="BL60159" gradientUnits="userSpaceOnUse" x1="49.0" y1="429.0" x2="49.4" y2="430.2"><stop offset="0.000" stop-color="#c2c0c6"/><stop offset="1.000" stop-color="#c3c0c6"/></linearGradient><linearGradient id="BL60160" gradientUnits="userSpaceOnUse" x1="91.9" y1="406.9" x2="91.6" y2="408.7"><stop offset="0.000" stop-color="#bfa8af"/><stop offset="1.000" stop-color="#c49ca5"/></linearGradient><linearGradient id="BL60161" gradientUnits="userSpaceOnUse" x1="81.9" y1="405.3" x2="81.6" y2="407.0"><stop offset="0.000" stop-color="#bfa8af"/><stop offset="1.000" stop-color="#c49ca5"/></linearGradient><linearGradient id="BL60162" gradientUnits="userSpaceOnUse" x1="49.0" y1="429.0" x2="49.4" y2="430.2"><stop offset="0.000" stop-color="#c2c0c6"/><stop offset="1.000" stop-color="#c3c0c6"/></linearGradient><linearGradient id="BL60163" gradientUnits="userSpaceOnUse" x1="37.9" y1="433.5" x2="39.3" y2="436.0"><stop offset="0.000" stop-color="#c4c3c9"/><stop offset="1.000" stop-color="#c5c2c8"/></linearGradient><linearGradient id="BL60164" gradientUnits="userSpaceOnUse" x1="61.1" y1="426.4" x2="62.9" y2="429.0"><stop offset="0.000" stop-color="#bbb8bf"/><stop offset="0.700" stop-color="#beb6bd"/><stop offset="1.000" stop-color="#c3abb2"/></linearGradient><linearGradient id="BL60165" gradientUnits="userSpaceOnUse" x1="71.5" y1="420.2" x2="83.3" y2="422.7"><stop offset="0.000" stop-color="#b8b4bb"/><stop offset="0.235" stop-color="#bab3ba"/><stop offset="0.647" stop-color="#c699a1"/><stop offset="1.000" stop-color="#c47b85"/></linearGradient><linearGradient id="BL60166" gradientUnits="userSpaceOnUse" x1="37.9" y1="433.5" x2="39.3" y2="436.0"><stop offset="0.000" stop-color="#c4c3c9"/><stop offset="1.000" stop-color="#c5c2c8"/></linearGradient><linearGradient id="BL60167" gradientUnits="userSpaceOnUse" x1="50.1" y1="430.0" x2="51.0" y2="432.8"><stop offset="0.000" stop-color="#bdbac1"/><stop offset="1.000" stop-color="#bfb9c0"/></linearGradient><linearGradient id="BL60168" gradientUnits="userSpaceOnUse" x1="61.1" y1="426.4" x2="68.7" y2="431.3"><stop offset="0.000" stop-color="#c2bfc6"/><stop offset="0.700" stop-color="#c6bdc3"/><stop offset="1.000" stop-color="#cbb1b8"/></linearGradient><linearGradient id="BL60169" gradientUnits="userSpaceOnUse" x1="71.5" y1="420.2" x2="81.4" y2="423.3"><stop offset="0.000" stop-color="#b8b4bb"/><stop offset="0.235" stop-color="#bab3ba"/><stop offset="0.647" stop-color="#c699a1"/><stop offset="1.000" stop-color="#c47b85"/></linearGradient><linearGradient id="BL60170" gradientUnits="userSpaceOnUse" x1="38.9" y1="434.6" x2="44.8" y2="442.2"><stop offset="0.000" stop-color="#c8c5cb"/><stop offset="1.000" stop-color="#cac4ca"/></linearGradient><linearGradient id="BL60171" gradientUnits="userSpaceOnUse" x1="50.1" y1="430.0" x2="63.0" y2="434.6"><stop offset="0.000" stop-color="#cbc7cd"/><stop offset="1.000" stop-color="#cdc5cb"/></linearGradient><linearGradient id="BL60172" gradientUnits="userSpaceOnUse" x1="38.9" y1="434.6" x2="53.6" y2="437.8"><stop offset="0.000" stop-color="#cbc8ce"/><stop offset="1.000" stop-color="#cdc7cd"/></linearGradient><linearGradient id="BL60173" gradientUnits="userSpaceOnUse" x1="54.2" y1="434.9" x2="68.8" y2="438.8"><stop offset="0.000" stop-color="#ccc6cc"/><stop offset="1.000" stop-color="#cec5ca"/></linearGradient><linearGradient id="BL60174" gradientUnits="userSpaceOnUse" x1="65.3" y1="428.2" x2="68.1" y2="431.0"><stop offset="0.000" stop-color="#bab4bb"/><stop offset="0.154" stop-color="#bbb3bb"/><stop offset="0.692" stop-color="#c799a2"/><stop offset="1.000" stop-color="#c6858f"/></linearGradient><linearGradient id="BL60175" gradientUnits="userSpaceOnUse" x1="42.7" y1="440.8" x2="53.9" y2="447.8"><stop offset="0.000" stop-color="#cac6cc"/><stop offset="1.000" stop-color="#ccc5cb"/></linearGradient><linearGradient id="BL60176" gradientUnits="userSpaceOnUse" x1="126.5" y1="439.8" x2="129.7" y2="448.2"><stop offset="0.000" stop-color="#c7c4ca"/><stop offset="1.000" stop-color="#c7c4ca"/></linearGradient><linearGradient id="BL60177" gradientUnits="userSpaceOnUse" x1="119.6" y1="443.1" x2="110.3" y2="423.5"><stop offset="0.000" stop-color="#a1a1aa"/><stop offset="0.615" stop-color="#a49fa8"/><stop offset="1.000" stop-color="#ac8e99"/></linearGradient><linearGradient id="BL60178" gradientUnits="userSpaceOnUse" x1="76.2" y1="419.5" x2="79.2" y2="421.4"><stop offset="0.000" stop-color="#b59fa8"/><stop offset="0.190" stop-color="#bb919a"/><stop offset="0.619" stop-color="#b96672"/><stop offset="1.000" stop-color="#ab4556"/></linearGradient><linearGradient id="BL60179" gradientUnits="userSpaceOnUse" x1="54.2" y1="434.9" x2="68.2" y2="439.5"><stop offset="0.000" stop-color="#ccc6cc"/><stop offset="1.000" stop-color="#cec5ca"/></linearGradient><linearGradient id="BL60180" gradientUnits="userSpaceOnUse" x1="65.3" y1="428.2" x2="83.0" y2="421.7"><stop offset="0.000" stop-color="#c0b9c0"/><stop offset="0.154" stop-color="#c1b9bf"/><stop offset="0.692" stop-color="#cd9ea6"/><stop offset="1.000" stop-color="#cc8992"/></linearGradient><linearGradient id="BL60181" gradientUnits="userSpaceOnUse" x1="117.1" y1="438.0" x2="116.1" y2="442.9"><stop offset="0.000" stop-color="#c3c1c7"/><stop offset="1.000" stop-color="#c4c0c7"/></linearGradient><linearGradient id="BL60182" gradientUnits="userSpaceOnUse" x1="137.7" y1="435.4" x2="123.4" y2="398.5"><stop offset="0.000" stop-color="#81838f"/><stop offset="0.250" stop-color="#83818e"/><stop offset="0.469" stop-color="#8c6f7c"/><stop offset="0.750" stop-color="#8a4f5e"/><stop offset="1.000" stop-color="#803649"/></linearGradient><linearGradient id="BL60183" gradientUnits="userSpaceOnUse" x1="126.5" y1="439.8" x2="129.9" y2="448.2"><stop offset="0.000" stop-color="#c7c4ca"/><stop offset="1.000" stop-color="#c7c4ca"/></linearGradient><linearGradient id="BL60184" gradientUnits="userSpaceOnUse" x1="42.7" y1="440.8" x2="55.1" y2="434.0"><stop offset="0.000" stop-color="#cdc9ce"/><stop offset="1.000" stop-color="#cec7cd"/></linearGradient><linearGradient id="BL60185" gradientUnits="userSpaceOnUse" x1="102.7" y1="445.9" x2="98.3" y2="426.2"><stop offset="0.000" stop-color="#a7a6af"/><stop offset="0.583" stop-color="#aaa4ad"/><stop offset="1.000" stop-color="#b2939d"/></linearGradient><linearGradient id="BL60186" gradientUnits="userSpaceOnUse" x1="110.8" y1="440.3" x2="109.5" y2="398.9"><stop offset="0.000" stop-color="#8d8e99"/><stop offset="0.250" stop-color="#8f8c97"/><stop offset="0.469" stop-color="#997884"/><stop offset="0.750" stop-color="#965564"/><stop offset="1.000" stop-color="#8b3a4d"/></linearGradient><linearGradient id="BL60187" gradientUnits="userSpaceOnUse" x1="105.8" y1="446.9" x2="99.1" y2="429.5"><stop offset="0.000" stop-color="#aba9b2"/><stop offset="0.700" stop-color="#ada7b0"/><stop offset="1.000" stop-color="#b29da6"/></linearGradient><linearGradient id="BL60188" gradientUnits="userSpaceOnUse" x1="76.2" y1="419.5" x2="88.6" y2="422.1"><stop offset="0.000" stop-color="#b9a2ab"/><stop offset="0.190" stop-color="#bf949d"/><stop offset="0.619" stop-color="#bd6874"/><stop offset="1.000" stop-color="#af4658"/></linearGradient><linearGradient id="BL60189" gradientUnits="userSpaceOnUse" x1="58.5" y1="445.3" x2="58.9" y2="432.9"><stop offset="0.000" stop-color="#c3bfc5"/><stop offset="1.000" stop-color="#c6bdc3"/></linearGradient><linearGradient id="BL60190" gradientUnits="userSpaceOnUse" x1="69.8" y1="436.3" x2="72.5" y2="416.5"><stop offset="0.000" stop-color="#aaa5ae"/><stop offset="0.154" stop-color="#aba5ae"/><stop offset="0.692" stop-color="#b68d97"/><stop offset="1.000" stop-color="#b57b85"/></linearGradient><linearGradient id="BL60191" gradientUnits="userSpaceOnUse" x1="70.0" y1="445.7" x2="70.2" y2="433.2"><stop offset="0.000" stop-color="#c3bfc5"/><stop offset="1.000" stop-color="#c6bdc3"/></linearGradient><linearGradient id="BL60192" gradientUnits="userSpaceOnUse" x1="87.8" y1="447.6" x2="87.4" y2="429.7"><stop offset="0.000" stop-color="#b1afb7"/><stop offset="0.700" stop-color="#b4adb5"/><stop offset="1.000" stop-color="#b9a2ab"/></linearGradient><linearGradient id="BL60193" gradientUnits="userSpaceOnUse" x1="83.2" y1="439.0" x2="81.5" y2="417.7"><stop offset="0.000" stop-color="#a9a5ae"/><stop offset="0.154" stop-color="#aaa4ad"/><stop offset="0.692" stop-color="#b58c96"/><stop offset="1.000" stop-color="#b47a85"/></linearGradient><linearGradient id="BL60194" gradientUnits="userSpaceOnUse" x1="101.1" y1="428.9" x2="93.3" y2="399.2"><stop offset="0.000" stop-color="#988792"/><stop offset="0.190" stop-color="#9d7b87"/><stop offset="0.619" stop-color="#9b5765"/><stop offset="1.000" stop-color="#8f3b4e"/></linearGradient><linearGradient id="BL60195" gradientUnits="userSpaceOnUse" x1="92.7" y1="452.0" x2="87.6" y2="438.6"><stop offset="0.000" stop-color="#bdbac1"/><stop offset="1.000" stop-color="#bfb9c0"/></linearGradient><linearGradient id="BL60196" gradientUnits="userSpaceOnUse" x1="46.9" y1="448.5" x2="50.7" y2="437.6"><stop offset="0.000" stop-color="#c9c5cb"/><stop offset="1.000" stop-color="#cbc4ca"/></linearGradient><linearGradient id="BL60197" gradientUnits="userSpaceOnUse" x1="135.3" y1="437.0" x2="123.4" y2="398.5"><stop offset="0.000" stop-color="#81838f"/><stop offset="0.250" stop-color="#83818e"/><stop offset="0.469" stop-color="#8c6f7c"/><stop offset="0.750" stop-color="#8a4f5e"/><stop offset="1.000" stop-color="#803649"/></linearGradient><linearGradient id="BL60198" gradientUnits="userSpaceOnUse" x1="75.8" y1="451.0" x2="76.2" y2="438.3"><stop offset="0.000" stop-color="#c3bfc6"/><stop offset="1.000" stop-color="#c5bec4"/></linearGradient><linearGradient id="BL60199" gradientUnits="userSpaceOnUse" x1="60.1" y1="451.8" x2="58.6" y2="440.3"><stop offset="0.000" stop-color="#c7c2c9"/><stop offset="1.000" stop-color="#c8c1c8"/></linearGradient><linearGradient id="BL60200" gradientUnits="userSpaceOnUse" x1="100.8" y1="422.0" x2="105.0" y2="395.6"><stop offset="0.000" stop-color="#a78b95"/><stop offset="0.105" stop-color="#aa848f"/><stop offset="0.579" stop-color="#a75e6b"/><stop offset="1.000" stop-color="#9b3f52"/></linearGradient><linearGradient id="BL60201" gradientUnits="userSpaceOnUse" x1="102.2" y1="426.2" x2="93.3" y2="399.2"><stop offset="0.000" stop-color="#9c828e"/><stop offset="0.105" stop-color="#9f7c88"/><stop offset="0.579" stop-color="#9c5866"/><stop offset="1.000" stop-color="#913c4f"/></linearGradient><linearGradient id="BL60202" gradientUnits="userSpaceOnUse" x1="119.0" y1="399.8" x2="116.2" y2="390.2"><stop offset="0.000" stop-color="#c34d5e"/><stop offset="1.000" stop-color="#bf4456"/></linearGradient><linearGradient id="BL60203" gradientUnits="userSpaceOnUse" x1="81.3" y1="429.2" x2="81.7" y2="399.1"><stop offset="0.000" stop-color="#9f8d98"/><stop offset="0.190" stop-color="#a5818c"/><stop offset="0.619" stop-color="#a35b69"/><stop offset="1.000" stop-color="#963e50"/></linearGradient><linearGradient id="BL60204" gradientUnits="userSpaceOnUse" x1="104.8" y1="397.0" x2="107.1" y2="387.8"><stop offset="0.000" stop-color="#ca5463"/><stop offset="1.000" stop-color="#c44557"/></linearGradient><linearGradient id="BL60205" gradientUnits="userSpaceOnUse" x1="44.1" y1="453.7" x2="49.8" y2="443.4"><stop offset="0.000" stop-color="#cbc8ce"/><stop offset="1.000" stop-color="#ccc8cd"/></linearGradient><linearGradient id="BL60206" gradientUnits="userSpaceOnUse" x1="105.1" y1="447.2" x2="104.0" y2="452.8"><stop offset="0.000" stop-color="#c4c0c7"/><stop offset="1.000" stop-color="#c4c0c6"/></linearGradient><linearGradient id="BL60207" gradientUnits="userSpaceOnUse" x1="93.7" y1="451.6" x2="97.1" y2="460.3"><stop offset="0.000" stop-color="#c7c4ca"/><stop offset="1.000" stop-color="#c8c4c9"/></linearGradient><linearGradient id="BL60208" gradientUnits="userSpaceOnUse" x1="80.2" y1="456.8" x2="76.0" y2="445.9"><stop offset="0.000" stop-color="#c6c3c9"/><stop offset="1.000" stop-color="#c7c2c8"/></linearGradient><linearGradient id="BL60209" gradientUnits="userSpaceOnUse" x1="119.2" y1="399.8" x2="116.2" y2="390.2"><stop offset="0.000" stop-color="#c34d5e"/><stop offset="1.000" stop-color="#bf4456"/></linearGradient><linearGradient id="BL60210" gradientUnits="userSpaceOnUse" x1="64.1" y1="456.5" x2="63.9" y2="446.1"><stop offset="0.000" stop-color="#c9c5cb"/><stop offset="1.000" stop-color="#cac4ca"/></linearGradient><linearGradient id="BL60211" gradientUnits="userSpaceOnUse" x1="51.7" y1="457.9" x2="53.7" y2="449.0"><stop offset="0.000" stop-color="#cac7cd"/><stop offset="1.000" stop-color="#cbc6cc"/></linearGradient><linearGradient id="BL60212" gradientUnits="userSpaceOnUse" x1="64.3" y1="462.1" x2="64.0" y2="451.3"><stop offset="0.000" stop-color="#c8c5cb"/><stop offset="1.000" stop-color="#c9c5ca"/></linearGradient><linearGradient id="BL60213" gradientUnits="userSpaceOnUse" x1="120.1" y1="447.3" x2="112.3" y2="454.5"><stop offset="0.000" stop-color="#c4c1c7"/><stop offset="1.000" stop-color="#c5c1c7"/></linearGradient><linearGradient id="BL60214" gradientUnits="userSpaceOnUse" x1="81.9" y1="456.2" x2="84.7" y2="463.4"><stop offset="0.000" stop-color="#c4c0c7"/><stop offset="1.000" stop-color="#c5bfc6"/></linearGradient><linearGradient id="BL60215" gradientUnits="userSpaceOnUse" x1="93.7" y1="451.6" x2="93.4" y2="456.8"><stop offset="0.000" stop-color="#bcb9c0"/><stop offset="1.000" stop-color="#bdb8bf"/></linearGradient><linearGradient id="BL60216" gradientUnits="userSpaceOnUse" x1="69.6" y1="462.0" x2="71.4" y2="453.8"><stop offset="0.000" stop-color="#cac7cc"/><stop offset="1.000" stop-color="#cac6cc"/></linearGradient><linearGradient id="BL60217" gradientUnits="userSpaceOnUse" x1="120.8" y1="447.2" x2="112.3" y2="454.5"><stop offset="0.000" stop-color="#c4c1c7"/><stop offset="1.000" stop-color="#c5c1c7"/></linearGradient><linearGradient id="BL60218" gradientUnits="userSpaceOnUse" x1="79.5" y1="459.0" x2="88.9" y2="447.6"><stop offset="0.000" stop-color="#ccc9ce"/><stop offset="1.000" stop-color="#cdc7cd"/></linearGradient><linearGradient id="BL60219" gradientUnits="userSpaceOnUse" x1="108.7" y1="450.3" x2="100.6" y2="457.2"><stop offset="0.000" stop-color="#c0bcc3"/><stop offset="1.000" stop-color="#c1bcc2"/></linearGradient><linearGradient id="BL60220" gradientUnits="userSpaceOnUse" x1="88.2" y1="466.2" x2="92.3" y2="454.4"><stop offset="0.000" stop-color="#c8c5cb"/><stop offset="1.000" stop-color="#cac4ca"/></linearGradient><linearGradient id="BL60221" gradientUnits="userSpaceOnUse" x1="102.4" y1="470.4" x2="100.6" y2="457.2"><stop offset="0.000" stop-color="#c6c3c9"/><stop offset="1.000" stop-color="#c8c2c8"/></linearGradient><linearGradient id="BL60222" gradientUnits="userSpaceOnUse" x1="88.2" y1="466.2" x2="99.7" y2="458.2"><stop offset="0.000" stop-color="#cac7cd"/><stop offset="1.000" stop-color="#cbc7cc"/></linearGradient></defs>
<g stroke-width=".9" stroke-linejoin="round">
<polygon points="99.8,406.2 100.6,405.9 102.4,405.6" fill="url(#BL60150)" stroke="url(#BL60150)"/>
<polygon points="99.8,406.2 102.4,405.6 101.6,405.8" fill="url(#BL60151)" stroke="url(#BL60151)"/>
<polygon points="101.6,405.8 102.4,405.6 108.4,409.2" fill="url(#BL60152)" stroke="url(#BL60152)"/>
<polygon points="91.9,406.9 101.6,405.8 107.6,409.5" fill="url(#BL60153)" stroke="url(#BL60153)"/>
<polygon points="101.6,405.8 108.4,409.2 107.6,409.5" fill="url(#BL60154)" stroke="url(#BL60154)"/>
<polygon points="59.8,425.5 70.2,420.2 71.5,420.2" fill="url(#BL60155)" stroke="url(#BL60155)"/>
<polygon points="70.2,420.2 80.1,408.3 81.6,407.0" fill="url(#BL60156)" stroke="url(#BL60156)"/>
<polygon points="70.2,420.2 81.6,407.0 71.5,420.2" fill="url(#BL60157)" stroke="url(#BL60157)"/>
<polygon points="59.8,425.5 71.5,420.2 61.1,426.4" fill="url(#BL60158)" stroke="url(#BL60158)"/>
<polygon points="49.0,429.0 59.8,425.5 61.1,426.4" fill="url(#BL60159)" stroke="url(#BL60159)"/>
<polygon points="91.9,406.9 107.6,409.5 97.6,409.7" fill="url(#BL60160)" stroke="url(#BL60160)"/>
<polygon points="81.6,407.0 91.9,406.9 97.6,409.7" fill="url(#BL60161)" stroke="url(#BL60161)"/>
<polygon points="49.0,429.0 61.1,426.4 50.1,430.0" fill="url(#BL60162)" stroke="url(#BL60162)"/>
<polygon points="37.9,433.5 49.0,429.0 50.1,430.0" fill="url(#BL60163)" stroke="url(#BL60163)"/>
<polygon points="61.1,426.4 71.5,420.2 76.2,419.5" fill="url(#BL60164)" stroke="url(#BL60164)"/>
<polygon points="71.5,420.2 81.6,407.0 87.0,405.6" fill="url(#BL60165)" stroke="url(#BL60165)"/>
<polygon points="37.9,433.5 50.1,430.0 38.9,434.6" fill="url(#BL60166)" stroke="url(#BL60166)"/>
<polygon points="50.1,430.0 61.1,426.4 65.3,428.2" fill="url(#BL60167)" stroke="url(#BL60167)"/>
<polygon points="61.1,426.4 76.2,419.5 65.3,428.2" fill="url(#BL60168)" stroke="url(#BL60168)"/>
<polygon points="71.5,420.2 87.0,405.6 76.2,419.5" fill="url(#BL60169)" stroke="url(#BL60169)"/>
<polygon points="38.9,434.6 50.1,430.0 54.2,434.9" fill="url(#BL60170)" stroke="url(#BL60170)"/>
<polygon points="50.1,430.0 65.3,428.2 54.2,434.9" fill="url(#BL60171)" stroke="url(#BL60171)"/>
<polygon points="38.9,434.6 54.2,434.9 42.7,440.8" fill="url(#BL60172)" stroke="url(#BL60172)"/>
<polygon points="54.2,434.9 65.3,428.2 70.2,433.2" fill="url(#BL60173)" stroke="url(#BL60173)"/>
<polygon points="65.3,428.2 76.2,419.5 81.5,417.7" fill="url(#BL60174)" stroke="url(#BL60174)"/>
<polygon points="42.7,440.8 54.2,434.9 58.6,440.3" fill="url(#BL60175)" stroke="url(#BL60175)"/>
<polygon points="126.5,439.8 127.3,439.5 135.1,446.1" fill="url(#BL60176)" stroke="url(#BL60176)"/>
<polygon points="110.3,423.5 126.5,439.8 116.1,442.9" fill="url(#BL60177)" stroke="url(#BL60177)"/>
<polygon points="76.2,419.5 87.0,405.6 93.3,399.2" fill="url(#BL60178)" stroke="url(#BL60178)"/>
<polygon points="54.2,434.9 70.2,433.2 58.6,440.3" fill="url(#BL60179)" stroke="url(#BL60179)"/>
<polygon points="65.3,428.2 81.5,417.7 70.2,433.2" fill="url(#BL60180)" stroke="url(#BL60180)"/>
<polygon points="116.1,442.9 126.5,439.8 134.2,446.5" fill="url(#BL60181)" stroke="url(#BL60181)"/>
<polygon points="123.4,398.5 127.3,439.5 126.5,439.8" fill="url(#BL60182)" stroke="url(#BL60182)"/>
<polygon points="126.5,439.8 135.1,446.1 134.2,446.5" fill="url(#BL60183)" stroke="url(#BL60183)"/>
<polygon points="42.7,440.8 58.6,440.3 46.9,448.5" fill="url(#BL60184)" stroke="url(#BL60184)"/>
<polygon points="99.1,429.5 110.3,423.5 116.1,442.9" fill="url(#BL60185)" stroke="url(#BL60185)"/>
<polygon points="110.3,423.5 123.4,398.5 126.5,439.8" fill="url(#BL60186)" stroke="url(#BL60186)"/>
<polygon points="99.1,429.5 116.1,442.9 105.1,447.2" fill="url(#BL60187)" stroke="url(#BL60187)"/>
<polygon points="76.2,419.5 93.3,399.2 81.5,417.7" fill="url(#BL60188)" stroke="url(#BL60188)"/>
<polygon points="58.6,440.3 70.2,433.2 76.0,445.9" fill="url(#BL60189)" stroke="url(#BL60189)"/>
<polygon points="70.2,433.2 81.5,417.7 87.6,438.6" fill="url(#BL60190)" stroke="url(#BL60190)"/>
<polygon points="70.2,433.2 87.6,438.6 76.0,445.9" fill="url(#BL60191)" stroke="url(#BL60191)"/>
<polygon points="87.6,438.6 99.1,429.5 105.1,447.2" fill="url(#BL60192)" stroke="url(#BL60192)"/>
<polygon points="116.1,442.9 134.2,446.5 123.4,450.9" fill="#c8c4ca" stroke="#c8c4ca"/>
<polygon points="105.1,447.2 116.1,442.9 123.4,450.9" fill="#c8c4ca" stroke="#c8c4ca"/>
<polygon points="81.5,417.7 99.1,429.5 87.6,438.6" fill="url(#BL60193)" stroke="url(#BL60193)"/>
<polygon points="93.3,399.2 110.3,423.5 99.1,429.5" fill="url(#BL60194)" stroke="url(#BL60194)"/>
<polygon points="87.6,438.6 105.1,447.2 93.7,451.6" fill="url(#BL60195)" stroke="url(#BL60195)"/>
<polygon points="46.9,448.5 58.6,440.3 64.0,451.3" fill="url(#BL60196)" stroke="url(#BL60196)"/>
<polygon points="123.4,398.5 124.3,398.2 127.3,439.5" fill="url(#BL60197)" stroke="url(#BL60197)"/>
<polygon points="76.0,445.9 87.6,438.6 93.7,451.6" fill="url(#BL60198)" stroke="url(#BL60198)"/>
<polygon points="58.6,440.3 76.0,445.9 64.0,451.3" fill="url(#BL60199)" stroke="url(#BL60199)"/>
<polygon points="104.8,397.0 123.4,398.5 110.3,423.5" fill="url(#BL60200)" stroke="url(#BL60200)"/>
<polygon points="93.3,399.2 104.8,397.0 110.3,423.5" fill="url(#BL60201)" stroke="url(#BL60201)"/>
<polygon points="116.2,390.2 117.0,389.9 124.3,398.2" fill="url(#BL60202)" stroke="url(#BL60202)"/>
<polygon points="134.2,446.5 135.1,446.1 143.3,454.4" fill="#c8c4ca" stroke="#c8c4ca"/>
<polygon points="81.5,417.7 93.3,399.2 99.1,429.5" fill="url(#BL60203)" stroke="url(#BL60203)"/>
<polygon points="104.8,397.0 116.2,390.2 123.4,398.5" fill="url(#BL60204)" stroke="url(#BL60204)"/>
<polygon points="123.4,450.9 134.2,446.5 142.4,454.7" fill="#c8c4ca" stroke="#c8c4ca"/>
<polygon points="46.9,448.5 64.0,451.3 51.7,457.9" fill="url(#BL60205)" stroke="url(#BL60205)"/>
<polygon points="105.1,447.2 123.4,450.9 112.3,454.5" fill="url(#BL60206)" stroke="url(#BL60206)"/>
<polygon points="93.7,451.6 105.1,447.2 112.3,454.5" fill="url(#BL60207)" stroke="url(#BL60207)"/>
<polygon points="76.0,445.9 93.7,451.6 81.9,456.2" fill="url(#BL60208)" stroke="url(#BL60208)"/>
<polygon points="116.2,390.2 124.3,398.2 123.4,398.5" fill="url(#BL60209)" stroke="url(#BL60209)"/>
<polygon points="64.0,451.3 76.0,445.9 81.9,456.2" fill="url(#BL60210)" stroke="url(#BL60210)"/>
<polygon points="134.2,446.5 143.3,454.4 142.4,454.7" fill="#c8c4ca" stroke="#c8c4ca"/>
<polygon points="51.7,457.9 64.0,451.3 69.6,462.0" fill="url(#BL60211)" stroke="url(#BL60211)"/>
<polygon points="123.4,450.9 142.4,454.7 131.4,459.5" fill="#c8c4ca" stroke="#c8c4ca"/>
<polygon points="64.0,451.3 81.9,456.2 69.6,462.0" fill="url(#BL60212)" stroke="url(#BL60212)"/>
<polygon points="112.3,454.5 123.4,450.9 131.4,459.5" fill="url(#BL60213)" stroke="url(#BL60213)"/>
<polygon points="81.9,456.2 93.7,451.6 100.6,457.2" fill="url(#BL60214)" stroke="url(#BL60214)"/>
<polygon points="93.7,451.6 112.3,454.5 100.6,457.2" fill="url(#BL60215)" stroke="url(#BL60215)"/>
<polygon points="51.7,457.9 69.6,462.0 56.7,467.0" fill="#c8c5cb" stroke="#c8c5cb"/>
<polygon points="69.6,462.0 81.9,456.2 88.2,466.2" fill="url(#BL60216)" stroke="url(#BL60216)"/>
<polygon points="112.3,454.5 131.4,459.5 119.9,463.5" fill="url(#BL60217)" stroke="url(#BL60217)"/>
<polygon points="81.9,456.2 100.6,457.2 88.2,466.2" fill="url(#BL60218)" stroke="url(#BL60218)"/>
<polygon points="100.6,457.2 112.3,454.5 119.9,463.5" fill="url(#BL60219)" stroke="url(#BL60219)"/>
<polygon points="69.6,462.0 88.2,466.2 75.5,471.4" fill="#c8c5cb" stroke="#c8c5cb"/>
<polygon points="56.7,467.0 69.6,462.0 75.5,471.4" fill="#c8c5cb" stroke="#c8c5cb"/>
<polygon points="88.2,466.2 100.6,457.2 107.7,469.7" fill="url(#BL60220)" stroke="url(#BL60220)"/>
<polygon points="100.6,457.2 119.9,463.5 107.7,469.7" fill="url(#BL60221)" stroke="url(#BL60221)"/>
<polygon points="75.5,471.4 88.2,466.2 95.1,476.1" fill="#c8c5cb" stroke="#c8c5cb"/>
<polygon points="56.7,467.0 75.5,471.4 62.1,476.9" fill="#c8c5cb" stroke="#c8c5cb"/>
<polygon points="88.2,466.2 107.7,469.7 95.1,476.1" fill="url(#BL60222)" stroke="url(#BL60222)"/>
<polygon points="75.5,471.4 95.1,476.1 81.9,481.8" fill="#c8c5cb" stroke="#c8c5cb"/>
<polygon points="62.1,476.9 75.5,471.4 81.9,481.8" fill="#c8c5cb" stroke="#c8c5cb"/>
<polygon points="62.1,476.9 81.9,481.8 68.1,487.7" fill="#c8c5cb" stroke="#c8c5cb"/>
</g>
<text transform="translate(29.7,435.3) rotate(-18)" font-size="7.6" text-anchor="middle" font-weight="normal" fill="#2a2a2a" stroke="#2a2a2a" stroke-width="0.18" dominant-baseline="central">0</text>
<text transform="translate(26.2,415.2) rotate(-18)" font-size="7.6" text-anchor="middle" font-weight="normal" fill="#2a2a2a" stroke="#2a2a2a" stroke-width="0.18" dominant-baseline="central">20</text>
<text transform="translate(22.1,392.0) rotate(-18)" font-size="7.6" text-anchor="middle" font-weight="normal" fill="#2a2a2a" stroke="#2a2a2a" stroke-width="0.18" dominant-baseline="central">40</text>
<text transform="translate(29.0,447.8) rotate(-30)" font-size="7.6" text-anchor="middle" font-weight="normal" fill="#2a2a2a" stroke="#2a2a2a" stroke-width="0.18" dominant-baseline="central">4.68</text>
<text transform="translate(32.9,455.0) rotate(-30)" font-size="7.6" text-anchor="middle" font-weight="normal" fill="#2a2a2a" stroke="#2a2a2a" stroke-width="0.18" dominant-baseline="central">9.37</text>
<text transform="translate(37.0,462.8) rotate(-30)" font-size="7.6" text-anchor="middle" font-weight="normal" fill="#2a2a2a" stroke="#2a2a2a" stroke-width="0.18" dominant-baseline="central">18.7</text>
<text transform="translate(41.5,471.3) rotate(-30)" font-size="7.6" text-anchor="middle" font-weight="normal" fill="#2a2a2a" stroke="#2a2a2a" stroke-width="0.18" dominant-baseline="central">37.5</text>
<text transform="translate(46.4,480.4) rotate(-30)" font-size="7.6" text-anchor="middle" font-weight="normal" fill="#2a2a2a" stroke="#2a2a2a" stroke-width="0.18" dominant-baseline="central">75</text>
<text transform="translate(51.7,490.3) rotate(-30)" font-size="7.6" text-anchor="middle" font-weight="normal" fill="#2a2a2a" stroke="#2a2a2a" stroke-width="0.18" dominant-baseline="central">150</text>
<text transform="translate(57.4,501.1) rotate(-30)" font-size="7.6" text-anchor="middle" font-weight="normal" fill="#2a2a2a" stroke="#2a2a2a" stroke-width="0.18" dominant-baseline="central">300</text>
<text transform="translate(73.9,505.6) rotate(58)" font-size="7.6" text-anchor="middle" font-weight="normal" fill="#2a2a2a" stroke="#2a2a2a" stroke-width="0.18" dominant-baseline="central">30</text>
<text transform="translate(87.1,499.7) rotate(58)" font-size="7.6" text-anchor="middle" font-weight="normal" fill="#2a2a2a" stroke="#2a2a2a" stroke-width="0.18" dominant-baseline="central">15</text>
<text transform="translate(99.7,494.1) rotate(58)" font-size="7.6" text-anchor="middle" font-weight="normal" fill="#2a2a2a" stroke="#2a2a2a" stroke-width="0.18" dominant-baseline="central">7.5</text>
<text transform="translate(111.8,488.6) rotate(58)" font-size="7.6" text-anchor="middle" font-weight="normal" fill="#2a2a2a" stroke="#2a2a2a" stroke-width="0.18" dominant-baseline="central">3.75</text>
<text transform="translate(123.4,483.5) rotate(58)" font-size="7.6" text-anchor="middle" font-weight="normal" fill="#2a2a2a" stroke="#2a2a2a" stroke-width="0.18" dominant-baseline="central">1.87</text>
<text transform="translate(134.5,478.5) rotate(58)" font-size="7.6" text-anchor="middle" font-weight="normal" fill="#2a2a2a" stroke="#2a2a2a" stroke-width="0.18" dominant-baseline="central">0.94</text>
<text transform="translate(145.2,473.7) rotate(58)" font-size="7.6" text-anchor="middle" font-weight="normal" fill="#2a2a2a" stroke="#2a2a2a" stroke-width="0.18" dominant-baseline="central">0.47</text>
<text transform="translate(26.0,479.3) rotate(65)" font-size="8" text-anchor="middle" font-weight="normal" fill="#2a2a2a" stroke="#2a2a2a" stroke-width="0.18" dominant-baseline="central">MTX (nM)</text>
<text transform="translate(126.2,504.0) rotate(-22)" font-size="8.4" text-anchor="middle" font-weight="normal" fill="#2a2a2a" stroke="#2a2a2a" stroke-width="0.18" dominant-baseline="central">SHIN1 (μM)</text>
<text transform="translate(14.4,412.9) rotate(-80)" font-size="8.6" text-anchor="middle" font-weight="normal" fill="#2a2a2a" stroke="#2a2a2a" stroke-width="0.18" dominant-baseline="central">eob (%)</text>
<text transform="translate(26.2,364.4)" font-size="8.8" text-anchor="start" font-weight="bold" fill="#111" dominant-baseline="central">BL60</text>
<line x1="39.4" y1="612.2" x2="28.0" y2="547.7" stroke="#8a8a8a" stroke-width="0.6"/>
<line x1="50.2" y1="608.6" x2="41.6" y2="544.6" stroke="#8a8a8a" stroke-width="0.6"/>
<line x1="60.7" y1="605.0" x2="54.6" y2="541.6" stroke="#8a8a8a" stroke-width="0.6"/>
<line x1="70.8" y1="601.6" x2="67.1" y2="538.7" stroke="#8a8a8a" stroke-width="0.6"/>
<line x1="80.6" y1="598.3" x2="79.1" y2="536.0" stroke="#8a8a8a" stroke-width="0.6"/>
<line x1="90.1" y1="595.1" x2="90.6" y2="533.3" stroke="#8a8a8a" stroke-width="0.6"/>
<line x1="99.2" y1="592.0" x2="101.7" y2="530.8" stroke="#8a8a8a" stroke-width="0.6"/>
<line x1="37.9" y1="604.0" x2="100.3" y2="583.8" stroke="#8a8a8a" stroke-width="0.6"/>
<line x1="34.4" y1="583.9" x2="101.1" y2="564.6" stroke="#8a8a8a" stroke-width="0.6"/>
<line x1="30.3" y1="560.7" x2="102.1" y2="542.7" stroke="#8a8a8a" stroke-width="0.6"/>
<line x1="101.5" y1="593.4" x2="104.5" y2="531.9" stroke="#8a8a8a" stroke-width="0.6"/>
<line x1="107.0" y1="599.3" x2="111.4" y2="536.5" stroke="#8a8a8a" stroke-width="0.6"/>
<line x1="112.9" y1="605.5" x2="118.8" y2="541.5" stroke="#8a8a8a" stroke-width="0.6"/>
<line x1="119.2" y1="612.1" x2="126.8" y2="547.0" stroke="#8a8a8a" stroke-width="0.6"/>
<line x1="125.9" y1="619.3" x2="135.6" y2="552.9" stroke="#8a8a8a" stroke-width="0.6"/>
<line x1="133.2" y1="627.0" x2="145.3" y2="559.4" stroke="#8a8a8a" stroke-width="0.6"/>
<line x1="141.0" y1="635.3" x2="155.9" y2="566.6" stroke="#8a8a8a" stroke-width="0.6"/>
<line x1="100.3" y1="583.8" x2="142.9" y2="626.8" stroke="#8a8a8a" stroke-width="0.6"/>
<line x1="101.1" y1="564.6" x2="147.4" y2="605.7" stroke="#8a8a8a" stroke-width="0.6"/>
<line x1="102.1" y1="542.7" x2="152.8" y2="580.8" stroke="#8a8a8a" stroke-width="0.6"/>
<line x1="39.4" y1="612.2" x2="68.9" y2="667.6" stroke="#8a8a8a" stroke-width="0.6"/>
<line x1="50.2" y1="608.6" x2="82.1" y2="661.7" stroke="#8a8a8a" stroke-width="0.6"/>
<line x1="60.7" y1="605.0" x2="94.7" y2="656.1" stroke="#8a8a8a" stroke-width="0.6"/>
<line x1="70.8" y1="601.6" x2="106.8" y2="650.6" stroke="#8a8a8a" stroke-width="0.6"/>
<line x1="80.6" y1="598.3" x2="118.4" y2="645.5" stroke="#8a8a8a" stroke-width="0.6"/>
<line x1="90.1" y1="595.1" x2="129.5" y2="640.5" stroke="#8a8a8a" stroke-width="0.6"/>
<line x1="99.2" y1="592.0" x2="140.2" y2="635.7" stroke="#8a8a8a" stroke-width="0.6"/>
<line x1="40.5" y1="614.3" x2="101.5" y2="593.4" stroke="#8a8a8a" stroke-width="0.6"/>
<line x1="44.4" y1="621.5" x2="107.0" y2="599.3" stroke="#8a8a8a" stroke-width="0.6"/>
<line x1="48.5" y1="629.3" x2="112.9" y2="605.5" stroke="#8a8a8a" stroke-width="0.6"/>
<line x1="53.0" y1="637.8" x2="119.2" y2="612.1" stroke="#8a8a8a" stroke-width="0.6"/>
<line x1="57.9" y1="646.9" x2="125.9" y2="619.3" stroke="#8a8a8a" stroke-width="0.6"/>
<line x1="63.2" y1="656.8" x2="133.2" y2="627.0" stroke="#8a8a8a" stroke-width="0.6"/>
<line x1="68.9" y1="667.6" x2="141.0" y2="635.3" stroke="#8a8a8a" stroke-width="0.6"/>
<line x1="99.9" y1="591.8" x2="141.0" y2="635.3" stroke="#8a8a8a" stroke-width="0.6"/>
<line x1="39.4" y1="612.2" x2="28.0" y2="547.7" stroke="#858585" stroke-width="0.6"/>
<line x1="39.4" y1="612.2" x2="68.9" y2="667.6" stroke="#858585" stroke-width="0.6"/>
<line x1="68.9" y1="667.6" x2="141.0" y2="635.3" stroke="#858585" stroke-width="0.6"/>
<line x1="35.4" y1="604.6" x2="37.9" y2="604.0" stroke="#858585" stroke-width="0.6"/>
<line x1="31.9" y1="584.5" x2="34.4" y2="583.9" stroke="#858585" stroke-width="0.6"/>
<line x1="27.8" y1="561.3" x2="30.3" y2="560.7" stroke="#858585" stroke-width="0.6"/>
<line x1="38.0" y1="614.3" x2="40.5" y2="614.3" stroke="#858585" stroke-width="0.6"/>
<line x1="41.9" y1="621.5" x2="44.4" y2="621.5" stroke="#858585" stroke-width="0.6"/>
<line x1="46.0" y1="629.3" x2="48.5" y2="629.3" stroke="#858585" stroke-width="0.6"/>
<line x1="50.5" y1="637.8" x2="53.0" y2="637.8" stroke="#858585" stroke-width="0.6"/>
<line x1="55.4" y1="646.9" x2="57.9" y2="646.9" stroke="#858585" stroke-width="0.6"/>
<line x1="60.7" y1="656.8" x2="63.2" y2="656.8" stroke="#858585" stroke-width="0.6"/>
<line x1="66.4" y1="667.6" x2="68.9" y2="667.6" stroke="#858585" stroke-width="0.6"/>
<line x1="68.9" y1="667.6" x2="70.1" y2="669.8" stroke="#858585" stroke-width="0.6"/>
<line x1="82.1" y1="661.7" x2="83.3" y2="663.9" stroke="#858585" stroke-width="0.6"/>
<line x1="94.7" y1="656.1" x2="95.9" y2="658.3" stroke="#858585" stroke-width="0.6"/>
<line x1="106.8" y1="650.6" x2="108.0" y2="652.8" stroke="#858585" stroke-width="0.6"/>
<line x1="118.4" y1="645.5" x2="119.6" y2="647.7" stroke="#858585" stroke-width="0.6"/>
<line x1="129.5" y1="640.5" x2="130.7" y2="642.7" stroke="#858585" stroke-width="0.6"/>
<line x1="140.2" y1="635.7" x2="141.4" y2="637.9" stroke="#858585" stroke-width="0.6"/>
<defs><linearGradient id="Gumbus223" gradientUnits="userSpaceOnUse" x1="90.2" y1="575.8" x2="97.3" y2="568.2"><stop offset="0.000" stop-color="#d8bac0"/><stop offset="1.000" stop-color="#dbb3b9"/></linearGradient><linearGradient id="Gumbus224" gradientUnits="userSpaceOnUse" x1="90.2" y1="575.8" x2="97.8" y2="568.4"><stop offset="0.000" stop-color="#d8bac0"/><stop offset="1.000" stop-color="#dbb3b9"/></linearGradient><linearGradient id="Gumbus225" gradientUnits="userSpaceOnUse" x1="80.2" y1="581.8" x2="88.3" y2="573.8"><stop offset="0.000" stop-color="#d4c5cb"/><stop offset="1.000" stop-color="#d9bbc0"/></linearGradient><linearGradient id="Gumbus226" gradientUnits="userSpaceOnUse" x1="80.2" y1="581.8" x2="80.4" y2="582.3"><stop offset="0.000" stop-color="#c0b4bb"/><stop offset="1.000" stop-color="#c4aab1"/></linearGradient><linearGradient id="Gumbus227" gradientUnits="userSpaceOnUse" x1="70.0" y1="587.9" x2="71.0" y2="589.3"><stop offset="0.000" stop-color="#c0b8bf"/><stop offset="0.600" stop-color="#c3b6bd"/><stop offset="1.000" stop-color="#c6b0b7"/></linearGradient><linearGradient id="Gumbus228" gradientUnits="userSpaceOnUse" x1="70.0" y1="587.9" x2="77.3" y2="591.2"><stop offset="0.000" stop-color="#ccc2c8"/><stop offset="0.600" stop-color="#cfc1c7"/><stop offset="1.000" stop-color="#d2bac0"/></linearGradient><linearGradient id="Gumbus229" gradientUnits="userSpaceOnUse" x1="59.6" y1="593.1" x2="62.7" y2="596.6"><stop offset="0.000" stop-color="#cac2c8"/><stop offset="1.000" stop-color="#ccc1c7"/></linearGradient><linearGradient id="Gumbus230" gradientUnits="userSpaceOnUse" x1="59.6" y1="593.1" x2="62.6" y2="596.6"><stop offset="0.000" stop-color="#cac2c8"/><stop offset="1.000" stop-color="#ccc1c7"/></linearGradient><linearGradient id="Gumbus231" gradientUnits="userSpaceOnUse" x1="81.7" y1="581.6" x2="84.5" y2="586.1"><stop offset="0.000" stop-color="#d0b9bf"/><stop offset="1.000" stop-color="#d5aeb4"/></linearGradient><linearGradient id="Gumbus232" gradientUnits="userSpaceOnUse" x1="48.7" y1="597.6" x2="50.1" y2="600.0"><stop offset="0.000" stop-color="#c7c1c7"/><stop offset="1.000" stop-color="#c9c0c7"/></linearGradient><linearGradient id="Gumbus233" gradientUnits="userSpaceOnUse" x1="71.4" y1="588.7" x2="84.7" y2="592.5"><stop offset="0.000" stop-color="#cec3c8"/><stop offset="0.286" stop-color="#d0c2c7"/><stop offset="1.000" stop-color="#d7b0b6"/></linearGradient><linearGradient id="Gumbus234" gradientUnits="userSpaceOnUse" x1="48.7" y1="597.6" x2="50.1" y2="600.0"><stop offset="0.000" stop-color="#c7c1c7"/><stop offset="1.000" stop-color="#c9c0c7"/></linearGradient><linearGradient id="Gumbus235" gradientUnits="userSpaceOnUse" x1="60.8" y1="594.1" x2="63.8" y2="598.4"><stop offset="0.000" stop-color="#c5bdc3"/><stop offset="0.571" stop-color="#c8bbc2"/><stop offset="1.000" stop-color="#cdb1b8"/></linearGradient><linearGradient id="Gumbus236" gradientUnits="userSpaceOnUse" x1="37.6" y1="602.1" x2="39.0" y2="604.6"><stop offset="0.000" stop-color="#c6c2c8"/><stop offset="1.000" stop-color="#c8c1c7"/></linearGradient><linearGradient id="Gumbus237" gradientUnits="userSpaceOnUse" x1="71.4" y1="588.7" x2="74.3" y2="593.1"><stop offset="0.000" stop-color="#c7bcc2"/><stop offset="0.286" stop-color="#c8bbc2"/><stop offset="1.000" stop-color="#cfaab1"/></linearGradient><linearGradient id="Gumbus238" gradientUnits="userSpaceOnUse" x1="37.6" y1="602.1" x2="39.0" y2="604.6"><stop offset="0.000" stop-color="#c6c2c8"/><stop offset="1.000" stop-color="#c8c1c7"/></linearGradient><linearGradient id="Gumbus239" gradientUnits="userSpaceOnUse" x1="49.9" y1="598.6" x2="53.6" y2="604.7"><stop offset="0.000" stop-color="#c9c2c8"/><stop offset="1.000" stop-color="#cdc0c6"/></linearGradient><linearGradient id="Gumbus240" gradientUnits="userSpaceOnUse" x1="60.8" y1="594.1" x2="72.6" y2="598.9"><stop offset="0.000" stop-color="#ccc3c9"/><stop offset="0.571" stop-color="#d0c2c7"/><stop offset="1.000" stop-color="#d4b7bd"/></linearGradient><linearGradient id="Gumbus241" gradientUnits="userSpaceOnUse" x1="38.6" y1="603.2" x2="44.4" y2="610.8"><stop offset="0.000" stop-color="#cac4ca"/><stop offset="1.000" stop-color="#cdc3c9"/></linearGradient><linearGradient id="Gumbus242" gradientUnits="userSpaceOnUse" x1="49.9" y1="598.6" x2="60.0" y2="605.4"><stop offset="0.000" stop-color="#cdc5cb"/><stop offset="1.000" stop-color="#d1c4c9"/></linearGradient><linearGradient id="Gumbus243" gradientUnits="userSpaceOnUse" x1="38.6" y1="603.2" x2="44.3" y2="610.8"><stop offset="0.000" stop-color="#cac4ca"/><stop offset="1.000" stop-color="#cdc3c9"/></linearGradient><linearGradient id="Gumbus244" gradientUnits="userSpaceOnUse" x1="108.8" y1="562.0" x2="109.6" y2="564.9"><stop offset="0.000" stop-color="#ba6871"/><stop offset="1.000" stop-color="#b25a64"/></linearGradient><linearGradient id="Gumbus245" gradientUnits="userSpaceOnUse" x1="110.8" y1="618.4" x2="109.9" y2="598.1"><stop offset="0.000" stop-color="#a7a7b0"/><stop offset="0.231" stop-color="#a7a7b0"/><stop offset="0.923" stop-color="#aea4ad"/><stop offset="1.000" stop-color="#afa1aa"/></linearGradient><linearGradient id="Gumbus246" gradientUnits="userSpaceOnUse" x1="53.9" y1="603.5" x2="59.0" y2="609.7"><stop offset="0.000" stop-color="#c9c0c6"/><stop offset="0.500" stop-color="#ccbec4"/><stop offset="1.000" stop-color="#d0b4ba"/></linearGradient><linearGradient id="Gumbus247" gradientUnits="userSpaceOnUse" x1="128.7" y1="607.6" x2="121.2" y2="588.2"><stop offset="0.000" stop-color="#a29fa9"/><stop offset="0.462" stop-color="#a69da7"/><stop offset="1.000" stop-color="#af8a93"/></linearGradient><linearGradient id="Gumbus248" gradientUnits="userSpaceOnUse" x1="128.0" y1="607.9" x2="121.2" y2="588.2"><stop offset="0.000" stop-color="#a29fa9"/><stop offset="0.462" stop-color="#a69da7"/><stop offset="1.000" stop-color="#af8a93"/></linearGradient><linearGradient id="Gumbus249" gradientUnits="userSpaceOnUse" x1="110.4" y1="609.1" x2="109.5" y2="588.7"><stop offset="0.000" stop-color="#a9a6af"/><stop offset="0.462" stop-color="#aea4ad"/><stop offset="1.000" stop-color="#b68f98"/></linearGradient><linearGradient id="Gumbus250" gradientUnits="userSpaceOnUse" x1="103.0" y1="621.2" x2="98.1" y2="600.9"><stop offset="0.000" stop-color="#a3a3ad"/><stop offset="0.231" stop-color="#a3a3ad"/><stop offset="0.923" stop-color="#aaa0aa"/><stop offset="1.000" stop-color="#ab9da7"/></linearGradient><linearGradient id="Gumbus251" gradientUnits="userSpaceOnUse" x1="110.4" y1="567.4" x2="98.4" y2="557.0"><stop offset="0.000" stop-color="#945b66"/><stop offset="1.000" stop-color="#85404e"/></linearGradient><linearGradient id="Gumbus252" gradientUnits="userSpaceOnUse" x1="103.5" y1="562.4" x2="115.8" y2="561.5"><stop offset="0.000" stop-color="#c2747b"/><stop offset="1.000" stop-color="#b45b65"/></linearGradient><linearGradient id="Gumbus253" gradientUnits="userSpaceOnUse" x1="108.8" y1="562.0" x2="109.6" y2="564.9"><stop offset="0.000" stop-color="#ba6871"/><stop offset="1.000" stop-color="#b25a64"/></linearGradient><linearGradient id="Gumbus254" gradientUnits="userSpaceOnUse" x1="115.6" y1="618.2" x2="126.1" y2="607.7"><stop offset="0.000" stop-color="#c9c7cd"/><stop offset="0.500" stop-color="#c9c7cd"/><stop offset="1.000" stop-color="#ccc6cb"/></linearGradient><linearGradient id="Gumbus255" gradientUnits="userSpaceOnUse" x1="42.2" y1="608.4" x2="48.7" y2="616.6"><stop offset="0.000" stop-color="#ccc3c9"/><stop offset="1.000" stop-color="#cfc2c8"/></linearGradient><linearGradient id="Gumbus256" gradientUnits="userSpaceOnUse" x1="106.3" y1="598.4" x2="104.4" y2="574.4"><stop offset="0.000" stop-color="#a79aa3"/><stop offset="0.375" stop-color="#ae8993"/><stop offset="1.000" stop-color="#9f616b"/></linearGradient><linearGradient id="Gumbus257" gradientUnits="userSpaceOnUse" x1="87.0" y1="584.5" x2="91.5" y2="585.6"><stop offset="0.000" stop-color="#aa8d97"/><stop offset="0.091" stop-color="#ac8892"/><stop offset="0.545" stop-color="#9e606b"/><stop offset="1.000" stop-color="#8e4350"/></linearGradient><linearGradient id="Gumbus258" gradientUnits="userSpaceOnUse" x1="124.2" y1="587.1" x2="115.9" y2="563.0"><stop offset="0.000" stop-color="#a3818c"/><stop offset="0.588" stop-color="#965c67"/><stop offset="1.000" stop-color="#8b4956"/></linearGradient><linearGradient id="Gumbus259" gradientUnits="userSpaceOnUse" x1="116.0" y1="617.7" x2="98.9" y2="604.1"><stop offset="0.000" stop-color="#a7a7b0"/><stop offset="0.273" stop-color="#a7a7b0"/><stop offset="1.000" stop-color="#ada4ad"/></linearGradient><linearGradient id="Gumbus260" gradientUnits="userSpaceOnUse" x1="105.5" y1="589.3" x2="103.6" y2="563.9"><stop offset="0.000" stop-color="#ac8891"/><stop offset="0.588" stop-color="#9d606b"/><stop offset="1.000" stop-color="#924c58"/></linearGradient><linearGradient id="Gumbus261" gradientUnits="userSpaceOnUse" x1="53.9" y1="603.5" x2="69.3" y2="605.7"><stop offset="0.000" stop-color="#cfc5cb"/><stop offset="0.500" stop-color="#d2c4c9"/><stop offset="1.000" stop-color="#d6b9bf"/></linearGradient><linearGradient id="Gumbus262" gradientUnits="userSpaceOnUse" x1="123.2" y1="587.5" x2="115.9" y2="563.0"><stop offset="0.000" stop-color="#a3818c"/><stop offset="0.588" stop-color="#965c67"/><stop offset="1.000" stop-color="#8b4956"/></linearGradient><linearGradient id="Gumbus263" gradientUnits="userSpaceOnUse" x1="65.2" y1="597.7" x2="84.2" y2="593.6"><stop offset="0.000" stop-color="#b9afb7"/><stop offset="0.053" stop-color="#baaeb6"/><stop offset="0.421" stop-color="#c399a1"/><stop offset="0.947" stop-color="#b36c74"/><stop offset="1.000" stop-color="#b16871"/></linearGradient><linearGradient id="Gumbus264" gradientUnits="userSpaceOnUse" x1="89.2" y1="621.0" x2="86.9" y2="605.8"><stop offset="0.000" stop-color="#bab7bf"/><stop offset="1.000" stop-color="#c0b4bc"/></linearGradient><linearGradient id="Gumbus265" gradientUnits="userSpaceOnUse" x1="101.4" y1="603.4" x2="93.2" y2="573.3"><stop offset="0.000" stop-color="#948e99"/><stop offset="0.045" stop-color="#958d99"/><stop offset="0.364" stop-color="#9c7c87"/><stop offset="0.818" stop-color="#8f5864"/><stop offset="1.000" stop-color="#894e5a"/></linearGradient><linearGradient id="Gumbus266" gradientUnits="userSpaceOnUse" x1="106.3" y1="599.9" x2="93.2" y2="573.3"><stop offset="0.000" stop-color="#978c97"/><stop offset="0.300" stop-color="#9d7d88"/><stop offset="0.800" stop-color="#905965"/><stop offset="1.000" stop-color="#8a4e5b"/></linearGradient><linearGradient id="Gumbus267" gradientUnits="userSpaceOnUse" x1="105.1" y1="618.0" x2="105.1" y2="619.1"><stop offset="0.000" stop-color="#a7a7b0"/><stop offset="0.429" stop-color="#a7a7b0"/><stop offset="1.000" stop-color="#aaa5ae"/></linearGradient><linearGradient id="Gumbus268" gradientUnits="userSpaceOnUse" x1="42.2" y1="608.4" x2="57.9" y2="611.4"><stop offset="0.000" stop-color="#cfc6cc"/><stop offset="1.000" stop-color="#d2c5ca"/></linearGradient><linearGradient id="Gumbus269" gradientUnits="userSpaceOnUse" x1="115.6" y1="618.2" x2="116.4" y2="621.4"><stop offset="0.000" stop-color="#b2b1b9"/><stop offset="0.429" stop-color="#b2b1b9"/><stop offset="1.000" stop-color="#b5b0b8"/></linearGradient><linearGradient id="Gumbus270" gradientUnits="userSpaceOnUse" x1="108.2" y1="571.9" x2="98.4" y2="557.0"><stop offset="0.000" stop-color="#9e606b"/><stop offset="1.000" stop-color="#8e4451"/></linearGradient><linearGradient id="Gumbus271" gradientUnits="userSpaceOnUse" x1="73.9" y1="615.9" x2="70.1" y2="600.6"><stop offset="0.000" stop-color="#bbb4bc"/><stop offset="0.571" stop-color="#bfb2ba"/><stop offset="1.000" stop-color="#c3a9b0"/></linearGradient><linearGradient id="Gumbus272" gradientUnits="userSpaceOnUse" x1="92.7" y1="623.4" x2="87.6" y2="610.1"><stop offset="0.000" stop-color="#bdbbc2"/><stop offset="1.000" stop-color="#c2b9bf"/></linearGradient><linearGradient id="Gumbus273" gradientUnits="userSpaceOnUse" x1="89.3" y1="609.7" x2="81.3" y2="580.4"><stop offset="0.000" stop-color="#94909b"/><stop offset="0.143" stop-color="#968f9a"/><stop offset="0.476" stop-color="#9e7d88"/><stop offset="0.952" stop-color="#915965"/><stop offset="1.000" stop-color="#8f5662"/></linearGradient><linearGradient id="Gumbus274" gradientUnits="userSpaceOnUse" x1="58.3" y1="615.1" x2="58.6" y2="600.4"><stop offset="0.000" stop-color="#bfb7be"/><stop offset="0.571" stop-color="#c2b6bd"/><stop offset="1.000" stop-color="#c6acb3"/></linearGradient><linearGradient id="Gumbus275" gradientUnits="userSpaceOnUse" x1="78.2" y1="626.3" x2="75.4" y2="612.7"><stop offset="0.000" stop-color="#c0bdc4"/><stop offset="1.000" stop-color="#c4bbc1"/></linearGradient><linearGradient id="Gumbus276" gradientUnits="userSpaceOnUse" x1="69.5" y1="609.0" x2="71.4" y2="579.7"><stop offset="0.000" stop-color="#9c97a1"/><stop offset="0.143" stop-color="#9e96a0"/><stop offset="0.476" stop-color="#a6848e"/><stop offset="0.952" stop-color="#985d68"/><stop offset="1.000" stop-color="#975a66"/></linearGradient><linearGradient id="Gumbus277" gradientUnits="userSpaceOnUse" x1="87.4" y1="606.7" x2="80.4" y2="576.2"><stop offset="0.000" stop-color="#958f9a"/><stop offset="0.045" stop-color="#968e9a"/><stop offset="0.364" stop-color="#9d7d88"/><stop offset="0.818" stop-color="#905964"/><stop offset="1.000" stop-color="#8a4e5b"/></linearGradient><linearGradient id="Gumbus278" gradientUnits="userSpaceOnUse" x1="60.7" y1="621.4" x2="58.4" y2="608.8"><stop offset="0.000" stop-color="#c6bfc5"/><stop offset="1.000" stop-color="#c9bdc4"/></linearGradient><linearGradient id="Gumbus279" gradientUnits="userSpaceOnUse" x1="138.7" y1="626.7" x2="134.4" y2="616.0"><stop offset="0.000" stop-color="#c8c4ca"/><stop offset="1.000" stop-color="#c9c3c9"/></linearGradient><linearGradient id="Gumbus280" gradientUnits="userSpaceOnUse" x1="46.5" y1="621.1" x2="46.2" y2="609.0"><stop offset="0.000" stop-color="#c8c0c7"/><stop offset="1.000" stop-color="#cbbfc5"/></linearGradient><linearGradient id="Gumbus281" gradientUnits="userSpaceOnUse" x1="93.7" y1="623.1" x2="96.8" y2="631.0"><stop offset="0.000" stop-color="#c6c3c9"/><stop offset="1.000" stop-color="#c8c2c8"/></linearGradient><linearGradient id="Gumbus282" gradientUnits="userSpaceOnUse" x1="80.8" y1="628.1" x2="75.9" y2="615.4"><stop offset="0.000" stop-color="#c1bec4"/><stop offset="1.000" stop-color="#c4bcc3"/></linearGradient><linearGradient id="Gumbus283" gradientUnits="userSpaceOnUse" x1="105.1" y1="618.6" x2="115.8" y2="628.2"><stop offset="0.000" stop-color="#c9c5cb"/><stop offset="1.000" stop-color="#cbc4ca"/></linearGradient><linearGradient id="Gumbus284" gradientUnits="userSpaceOnUse" x1="142.8" y1="623.4" x2="123.7" y2="619.4"><stop offset="0.000" stop-color="#c5c0c7"/><stop offset="1.000" stop-color="#c6bfc6"/></linearGradient><linearGradient id="Gumbus285" gradientUnits="userSpaceOnUse" x1="65.6" y1="630.5" x2="63.3" y2="617.6"><stop offset="0.000" stop-color="#c3c0c7"/><stop offset="1.000" stop-color="#c7bec5"/></linearGradient><linearGradient id="Gumbus286" gradientUnits="userSpaceOnUse" x1="139.0" y1="626.7" x2="134.4" y2="616.0"><stop offset="0.000" stop-color="#c8c4ca"/><stop offset="1.000" stop-color="#c9c3c9"/></linearGradient><linearGradient id="Gumbus287" gradientUnits="userSpaceOnUse" x1="47.9" y1="626.9" x2="46.3" y2="615.1"><stop offset="0.000" stop-color="#c8c2c8"/><stop offset="1.000" stop-color="#cbc1c7"/></linearGradient><linearGradient id="Gumbus288" gradientUnits="userSpaceOnUse" x1="93.7" y1="623.1" x2="104.4" y2="614.8"><stop offset="0.000" stop-color="#ccc9ce"/><stop offset="1.000" stop-color="#cec8cd"/></linearGradient><linearGradient id="Gumbus289" gradientUnits="userSpaceOnUse" x1="68.6" y1="632.8" x2="63.9" y2="620.8"><stop offset="0.000" stop-color="#c4c1c7"/><stop offset="1.000" stop-color="#c6bfc6"/></linearGradient><linearGradient id="Gumbus290" gradientUnits="userSpaceOnUse" x1="128.7" y1="631.1" x2="123.7" y2="619.4"><stop offset="0.000" stop-color="#c7c2c8"/><stop offset="1.000" stop-color="#c9c1c7"/></linearGradient><linearGradient id="Gumbus291" gradientUnits="userSpaceOnUse" x1="52.4" y1="634.5" x2="50.9" y2="622.4"><stop offset="0.000" stop-color="#c6c3c9"/><stop offset="1.000" stop-color="#c9c2c8"/></linearGradient><linearGradient id="Gumbus292" gradientUnits="userSpaceOnUse" x1="112.4" y1="630.3" x2="112.2" y2="619.6"><stop offset="0.000" stop-color="#cac5cb"/><stop offset="1.000" stop-color="#cbc4ca"/></linearGradient><linearGradient id="Gumbus293" gradientUnits="userSpaceOnUse" x1="55.8" y1="637.8" x2="51.4" y2="626.4"><stop offset="0.000" stop-color="#c6c3c9"/><stop offset="1.000" stop-color="#c8c2c8"/></linearGradient><linearGradient id="Gumbus294" gradientUnits="userSpaceOnUse" x1="100.4" y1="631.7" x2="105.4" y2="621.6"><stop offset="0.000" stop-color="#ccc8ce"/><stop offset="1.000" stop-color="#cec7cd"/></linearGradient><linearGradient id="Gumbus295" gradientUnits="userSpaceOnUse" x1="117.1" y1="636.1" x2="112.3" y2="625.0"><stop offset="0.000" stop-color="#c8c4ca"/><stop offset="1.000" stop-color="#c9c3c9"/></linearGradient><linearGradient id="Gumbus296" gradientUnits="userSpaceOnUse" x1="100.4" y1="631.7" x2="111.0" y2="623.5"><stop offset="0.000" stop-color="#cbc7cd"/><stop offset="1.000" stop-color="#ccc7cc"/></linearGradient></defs>
<g stroke-width=".9" stroke-linejoin="round">
<polygon points="100.1,570.8 100.9,570.6 102.6,572.2" fill="#d6b0b6" stroke="#d6b0b6"/>
<polygon points="100.1,570.8 102.6,572.2 101.8,572.4" fill="#d6b0b6" stroke="#d6b0b6"/>
<polygon points="90.2,575.8 100.1,570.8 101.8,572.4" fill="url(#Gumbus223)" stroke="url(#Gumbus223)"/>
<polygon points="90.2,575.8 101.8,572.4 91.9,577.4" fill="url(#Gumbus224)" stroke="url(#Gumbus224)"/>
<polygon points="80.2,581.8 90.2,575.8 91.9,577.4" fill="url(#Gumbus225)" stroke="url(#Gumbus225)"/>
<polygon points="80.2,581.8 91.9,577.4 81.7,581.6" fill="url(#Gumbus226)" stroke="url(#Gumbus226)"/>
<polygon points="70.0,587.9 80.2,581.8 81.7,581.6" fill="url(#Gumbus227)" stroke="url(#Gumbus227)"/>
<polygon points="70.0,587.9 81.7,581.6 71.4,588.7" fill="url(#Gumbus228)" stroke="url(#Gumbus228)"/>
<polygon points="59.6,593.1 70.0,587.9 71.4,588.7" fill="url(#Gumbus229)" stroke="url(#Gumbus229)"/>
<polygon points="59.6,593.1 71.4,588.7 60.8,594.1" fill="url(#Gumbus230)" stroke="url(#Gumbus230)"/>
<polygon points="81.7,581.6 91.9,577.4 87.0,584.5" fill="url(#Gumbus231)" stroke="url(#Gumbus231)"/>
<polygon points="48.7,597.6 59.6,593.1 60.8,594.1" fill="url(#Gumbus232)" stroke="url(#Gumbus232)"/>
<polygon points="71.4,588.7 81.7,581.6 87.0,584.5" fill="url(#Gumbus233)" stroke="url(#Gumbus233)"/>
<polygon points="48.7,597.6 60.8,594.1 49.9,598.6" fill="url(#Gumbus234)" stroke="url(#Gumbus234)"/>
<polygon points="60.8,594.1 71.4,588.7 76.2,590.0" fill="url(#Gumbus235)" stroke="url(#Gumbus235)"/>
<polygon points="37.6,602.1 48.7,597.6 49.9,598.6" fill="url(#Gumbus236)" stroke="url(#Gumbus236)"/>
<polygon points="71.4,588.7 87.0,584.5 76.2,590.0" fill="url(#Gumbus237)" stroke="url(#Gumbus237)"/>
<polygon points="37.6,602.1 49.9,598.6 38.6,603.2" fill="url(#Gumbus238)" stroke="url(#Gumbus238)"/>
<polygon points="49.9,598.6 60.8,594.1 65.2,597.7" fill="url(#Gumbus239)" stroke="url(#Gumbus239)"/>
<polygon points="60.8,594.1 76.2,590.0 65.2,597.7" fill="url(#Gumbus240)" stroke="url(#Gumbus240)"/>
<polygon points="38.6,603.2 49.9,598.6 53.9,603.5" fill="url(#Gumbus241)" stroke="url(#Gumbus241)"/>
<polygon points="49.9,598.6 65.2,597.7 53.9,603.5" fill="url(#Gumbus242)" stroke="url(#Gumbus242)"/>
<polygon points="38.6,603.2 53.9,603.5 42.2,608.4" fill="url(#Gumbus243)" stroke="url(#Gumbus243)"/>
<polygon points="108.8,562.0 109.6,561.8 116.8,562.8" fill="url(#Gumbus244)" stroke="url(#Gumbus244)"/>
<polygon points="109.9,598.1 126.7,608.4 115.6,618.2" fill="url(#Gumbus245)" stroke="url(#Gumbus245)"/>
<polygon points="53.9,603.5 65.2,597.7 70.1,600.6" fill="url(#Gumbus246)" stroke="url(#Gumbus246)"/>
<polygon points="121.2,588.2 127.6,608.1 126.7,608.4" fill="url(#Gumbus247)" stroke="url(#Gumbus247)"/>
<polygon points="121.2,588.2 122.0,587.9 127.6,608.1" fill="url(#Gumbus248)" stroke="url(#Gumbus248)"/>
<polygon points="109.9,598.1 121.2,588.2 126.7,608.4" fill="url(#Gumbus249)" stroke="url(#Gumbus249)"/>
<polygon points="98.9,604.1 109.9,598.1 115.6,618.2" fill="url(#Gumbus250)" stroke="url(#Gumbus250)"/>
<polygon points="98.4,557.0 108.8,562.0 104.4,574.4" fill="url(#Gumbus251)" stroke="url(#Gumbus251)"/>
<polygon points="108.8,562.0 115.9,563.0 104.4,574.4" fill="url(#Gumbus252)" stroke="url(#Gumbus252)"/>
<polygon points="108.8,562.0 116.8,562.8 115.9,563.0" fill="url(#Gumbus253)" stroke="url(#Gumbus253)"/>
<polygon points="126.7,608.4 127.6,608.1 135.2,615.6" fill="#cac4ca" stroke="#cac4ca"/>
<polygon points="115.6,618.2 126.7,608.4 134.4,616.0" fill="url(#Gumbus254)" stroke="url(#Gumbus254)"/>
<polygon points="42.2,608.4 53.9,603.5 58.4,608.8" fill="url(#Gumbus255)" stroke="url(#Gumbus255)"/>
<polygon points="104.4,574.4 121.2,588.2 109.9,598.1" fill="url(#Gumbus256)" stroke="url(#Gumbus256)"/>
<polygon points="87.0,584.5 98.4,557.0 93.2,573.3" fill="url(#Gumbus257)" stroke="url(#Gumbus257)"/>
<polygon points="115.9,563.0 122.0,587.9 121.2,588.2" fill="url(#Gumbus258)" stroke="url(#Gumbus258)"/>
<polygon points="98.9,604.1 115.6,618.2 105.1,618.6" fill="url(#Gumbus259)" stroke="url(#Gumbus259)"/>
<polygon points="104.4,574.4 115.9,563.0 121.2,588.2" fill="url(#Gumbus260)" stroke="url(#Gumbus260)"/>
<polygon points="53.9,603.5 70.1,600.6 58.4,608.8" fill="url(#Gumbus261)" stroke="url(#Gumbus261)"/>
<polygon points="115.9,563.0 116.8,562.8 122.0,587.9" fill="url(#Gumbus262)" stroke="url(#Gumbus262)"/>
<polygon points="126.7,608.4 135.2,615.6 134.4,616.0" fill="#cac4ca" stroke="#cac4ca"/>
<polygon points="65.2,597.7 81.3,580.4 70.1,600.6" fill="url(#Gumbus263)" stroke="url(#Gumbus263)"/>
<polygon points="87.6,610.1 98.9,604.1 105.1,618.6" fill="url(#Gumbus264)" stroke="url(#Gumbus264)"/>
<polygon points="93.2,573.3 109.9,598.1 98.9,604.1" fill="url(#Gumbus265)" stroke="url(#Gumbus265)"/>
<polygon points="93.2,573.3 104.4,574.4 109.9,598.1" fill="url(#Gumbus266)" stroke="url(#Gumbus266)"/>
<polygon points="105.1,618.6 115.6,618.2 123.7,619.4" fill="url(#Gumbus267)" stroke="url(#Gumbus267)"/>
<polygon points="42.2,608.4 58.4,608.8 46.3,615.1" fill="url(#Gumbus268)" stroke="url(#Gumbus268)"/>
<polygon points="115.6,618.2 134.4,616.0 123.7,619.4" fill="url(#Gumbus269)" stroke="url(#Gumbus269)"/>
<polygon points="98.4,557.0 104.4,574.4 93.2,573.3" fill="url(#Gumbus270)" stroke="url(#Gumbus270)"/>
<polygon points="70.1,600.6 87.6,610.1 75.9,615.4" fill="url(#Gumbus271)" stroke="url(#Gumbus271)"/>
<polygon points="87.6,610.1 105.1,618.6 93.7,623.1" fill="url(#Gumbus272)" stroke="url(#Gumbus272)"/>
<polygon points="81.3,580.4 98.9,604.1 87.6,610.1" fill="url(#Gumbus273)" stroke="url(#Gumbus273)"/>
<polygon points="58.4,608.8 70.1,600.6 75.9,615.4" fill="url(#Gumbus274)" stroke="url(#Gumbus274)"/>
<polygon points="75.9,615.4 87.6,610.1 93.7,623.1" fill="url(#Gumbus275)" stroke="url(#Gumbus275)"/>
<polygon points="70.1,600.6 81.3,580.4 87.6,610.1" fill="url(#Gumbus276)" stroke="url(#Gumbus276)"/>
<polygon points="81.3,580.4 93.2,573.3 98.9,604.1" fill="url(#Gumbus277)" stroke="url(#Gumbus277)"/>
<polygon points="58.4,608.8 75.9,615.4 63.9,620.8" fill="url(#Gumbus278)" stroke="url(#Gumbus278)"/>
<polygon points="134.4,616.0 135.2,615.6 143.3,624.9" fill="url(#Gumbus279)" stroke="url(#Gumbus279)"/>
<polygon points="46.3,615.1 58.4,608.8 63.9,620.8" fill="url(#Gumbus280)" stroke="url(#Gumbus280)"/>
<polygon points="93.7,623.1 105.1,618.6 112.3,625.0" fill="url(#Gumbus281)" stroke="url(#Gumbus281)"/>
<polygon points="75.9,615.4 93.7,623.1 81.9,627.7" fill="url(#Gumbus282)" stroke="url(#Gumbus282)"/>
<polygon points="105.1,618.6 123.7,619.4 112.3,625.0" fill="url(#Gumbus283)" stroke="url(#Gumbus283)"/>
<polygon points="123.7,619.4 134.4,616.0 142.4,625.2" fill="url(#Gumbus284)" stroke="url(#Gumbus284)"/>
<polygon points="63.9,620.8 75.9,615.4 81.9,627.7" fill="url(#Gumbus285)" stroke="url(#Gumbus285)"/>
<polygon points="134.4,616.0 143.3,624.9 142.4,625.2" fill="url(#Gumbus286)" stroke="url(#Gumbus286)"/>
<polygon points="46.3,615.1 63.9,620.8 51.4,626.4" fill="url(#Gumbus287)" stroke="url(#Gumbus287)"/>
<polygon points="81.9,627.7 93.7,623.1 100.4,631.7" fill="#c8c5ca" stroke="#c8c5ca"/>
<polygon points="93.7,623.1 112.3,625.0 100.4,631.7" fill="url(#Gumbus288)" stroke="url(#Gumbus288)"/>
<polygon points="63.9,620.8 81.9,627.7 69.6,632.5" fill="url(#Gumbus289)" stroke="url(#Gumbus289)"/>
<polygon points="123.7,619.4 142.4,625.2 131.4,630.0" fill="url(#Gumbus290)" stroke="url(#Gumbus290)"/>
<polygon points="51.4,626.4 63.9,620.8 69.6,632.5" fill="url(#Gumbus291)" stroke="url(#Gumbus291)"/>
<polygon points="112.3,625.0 123.7,619.4 131.4,630.0" fill="url(#Gumbus292)" stroke="url(#Gumbus292)"/>
<polygon points="81.9,627.7 100.4,631.7 88.2,636.7" fill="#c8c5ca" stroke="#c8c5ca"/>
<polygon points="69.6,632.5 81.9,627.7 88.2,636.7" fill="#c8c5ca" stroke="#c8c5ca"/>
<polygon points="51.4,626.4 69.6,632.5 56.7,637.5" fill="url(#Gumbus293)" stroke="url(#Gumbus293)"/>
<polygon points="100.4,631.7 112.3,625.0 119.8,635.0" fill="url(#Gumbus294)" stroke="url(#Gumbus294)"/>
<polygon points="112.3,625.0 131.4,630.0 119.8,635.0" fill="url(#Gumbus295)" stroke="url(#Gumbus295)"/>
<polygon points="88.2,636.7 100.4,631.7 107.6,641.2" fill="#c8c5ca" stroke="#c8c5ca"/>
<polygon points="69.6,632.5 88.2,636.7 75.5,641.9" fill="#c8c5ca" stroke="#c8c5ca"/>
<polygon points="56.7,637.5 69.6,632.5 75.5,641.9" fill="#c8c5ca" stroke="#c8c5ca"/>
<polygon points="100.4,631.7 119.8,635.0 107.6,641.2" fill="url(#Gumbus296)" stroke="url(#Gumbus296)"/>
<polygon points="88.2,636.7 107.6,641.2 95.1,646.6" fill="#c8c5ca" stroke="#c8c5ca"/>
<polygon points="75.5,641.9 88.2,636.7 95.1,646.6" fill="#c8c5ca" stroke="#c8c5ca"/>
<polygon points="56.7,637.5 75.5,641.9 62.1,647.4" fill="#c8c5ca" stroke="#c8c5ca"/>
<polygon points="75.5,641.9 95.1,646.6 81.9,652.3" fill="#c8c5ca" stroke="#c8c5ca"/>
<polygon points="62.1,647.4 75.5,641.9 81.9,652.3" fill="#c8c5ca" stroke="#c8c5ca"/>
<polygon points="62.1,647.4 81.9,652.3 68.1,658.2" fill="#c8c5ca" stroke="#c8c5ca"/>
</g>
<text transform="translate(29.7,605.8) rotate(-18)" font-size="7.6" text-anchor="middle" font-weight="normal" fill="#2a2a2a" stroke="#2a2a2a" stroke-width="0.18" dominant-baseline="central">0</text>
<text transform="translate(26.2,585.7) rotate(-18)" font-size="7.6" text-anchor="middle" font-weight="normal" fill="#2a2a2a" stroke="#2a2a2a" stroke-width="0.18" dominant-baseline="central">20</text>
<text transform="translate(22.1,562.5) rotate(-18)" font-size="7.6" text-anchor="middle" font-weight="normal" fill="#2a2a2a" stroke="#2a2a2a" stroke-width="0.18" dominant-baseline="central">40</text>
<text transform="translate(29.0,618.3) rotate(-30)" font-size="7.6" text-anchor="middle" font-weight="normal" fill="#2a2a2a" stroke="#2a2a2a" stroke-width="0.18" dominant-baseline="central">4.68</text>
<text transform="translate(32.9,625.5) rotate(-30)" font-size="7.6" text-anchor="middle" font-weight="normal" fill="#2a2a2a" stroke="#2a2a2a" stroke-width="0.18" dominant-baseline="central">9.37</text>
<text transform="translate(37.0,633.3) rotate(-30)" font-size="7.6" text-anchor="middle" font-weight="normal" fill="#2a2a2a" stroke="#2a2a2a" stroke-width="0.18" dominant-baseline="central">18.7</text>
<text transform="translate(41.5,641.8) rotate(-30)" font-size="7.6" text-anchor="middle" font-weight="normal" fill="#2a2a2a" stroke="#2a2a2a" stroke-width="0.18" dominant-baseline="central">37.5</text>
<text transform="translate(46.4,650.9) rotate(-30)" font-size="7.6" text-anchor="middle" font-weight="normal" fill="#2a2a2a" stroke="#2a2a2a" stroke-width="0.18" dominant-baseline="central">75</text>
<text transform="translate(51.7,660.8) rotate(-30)" font-size="7.6" text-anchor="middle" font-weight="normal" fill="#2a2a2a" stroke="#2a2a2a" stroke-width="0.18" dominant-baseline="central">150</text>
<text transform="translate(57.4,671.6) rotate(-30)" font-size="7.6" text-anchor="middle" font-weight="normal" fill="#2a2a2a" stroke="#2a2a2a" stroke-width="0.18" dominant-baseline="central">300</text>
<text transform="translate(73.9,676.1) rotate(58)" font-size="7.6" text-anchor="middle" font-weight="normal" fill="#2a2a2a" stroke="#2a2a2a" stroke-width="0.18" dominant-baseline="central">30</text>
<text transform="translate(87.1,670.2) rotate(58)" font-size="7.6" text-anchor="middle" font-weight="normal" fill="#2a2a2a" stroke="#2a2a2a" stroke-width="0.18" dominant-baseline="central">15</text>
<text transform="translate(99.7,664.6) rotate(58)" font-size="7.6" text-anchor="middle" font-weight="normal" fill="#2a2a2a" stroke="#2a2a2a" stroke-width="0.18" dominant-baseline="central">7.5</text>
<text transform="translate(111.8,659.1) rotate(58)" font-size="7.6" text-anchor="middle" font-weight="normal" fill="#2a2a2a" stroke="#2a2a2a" stroke-width="0.18" dominant-baseline="central">3.75</text>
<text transform="translate(123.4,654.0) rotate(58)" font-size="7.6" text-anchor="middle" font-weight="normal" fill="#2a2a2a" stroke="#2a2a2a" stroke-width="0.18" dominant-baseline="central">1.87</text>
<text transform="translate(134.5,649.0) rotate(58)" font-size="7.6" text-anchor="middle" font-weight="normal" fill="#2a2a2a" stroke="#2a2a2a" stroke-width="0.18" dominant-baseline="central">0.94</text>
<text transform="translate(145.2,644.2) rotate(58)" font-size="7.6" text-anchor="middle" font-weight="normal" fill="#2a2a2a" stroke="#2a2a2a" stroke-width="0.18" dominant-baseline="central">0.47</text>
<text transform="translate(26.0,649.8) rotate(65)" font-size="8" text-anchor="middle" font-weight="normal" fill="#2a2a2a" stroke="#2a2a2a" stroke-width="0.18" dominant-baseline="central">MTX (nM)</text>
<text transform="translate(126.2,674.5) rotate(-22)" font-size="8.4" text-anchor="middle" font-weight="normal" fill="#2a2a2a" stroke="#2a2a2a" stroke-width="0.18" dominant-baseline="central">SHIN1 (μM)</text>
<text transform="translate(14.4,583.4) rotate(-80)" font-size="8.6" text-anchor="middle" font-weight="normal" fill="#2a2a2a" stroke="#2a2a2a" stroke-width="0.18" dominant-baseline="central">eob (%)</text>
<text transform="translate(26.9,534.9)" font-size="8.8" text-anchor="start" font-weight="bold" fill="#111" dominant-baseline="central">Gumbus</text>
<defs><linearGradient id="cbg" x1="0" y1="1" x2="0" y2="0"><stop offset="0" stop-color="#d2d2d2"/><stop offset="0.5" stop-color="#a78a8a"/><stop offset="1" stop-color="#7a3e3f"/></linearGradient></defs>
<rect x="165.5" y="560.5" width="10" height="96" fill="url(#cbg)" stroke="#555" stroke-width="0.8"/>
<line x1="175.5" y1="654.8" x2="177.3" y2="654.8" stroke="#555" stroke-width="0.7"/>
<text transform="translate(178.8,654.8)" font-size="7.2" text-anchor="start" font-weight="normal" fill="#2a2a2a" stroke="#2a2a2a" stroke-width="0.18" dominant-baseline="central">0</text>
<line x1="175.5" y1="633.6" x2="177.3" y2="633.6" stroke="#555" stroke-width="0.7"/>
<text transform="translate(178.8,633.6)" font-size="7.2" text-anchor="start" font-weight="normal" fill="#2a2a2a" stroke="#2a2a2a" stroke-width="0.18" dominant-baseline="central">10</text>
<line x1="175.5" y1="612.4" x2="177.3" y2="612.4" stroke="#555" stroke-width="0.7"/>
<text transform="translate(178.8,612.4)" font-size="7.2" text-anchor="start" font-weight="normal" fill="#2a2a2a" stroke="#2a2a2a" stroke-width="0.18" dominant-baseline="central">20</text>
<line x1="175.5" y1="591.2" x2="177.3" y2="591.2" stroke="#555" stroke-width="0.7"/>
<text transform="translate(178.8,591.2)" font-size="7.2" text-anchor="start" font-weight="normal" fill="#2a2a2a" stroke="#2a2a2a" stroke-width="0.18" dominant-baseline="central">30</text>
<line x1="175.5" y1="570.0" x2="177.3" y2="570.0" stroke="#555" stroke-width="0.7"/>
<text transform="translate(178.8,570.0)" font-size="7.2" text-anchor="start" font-weight="normal" fill="#2a2a2a" stroke="#2a2a2a" stroke-width="0.18" dominant-baseline="central">40</text>
<text x="245" y="15" font-size="10" text-anchor="start" font-weight="bold" fill="#111" >F</text>
<text x="314" y="40.5" font-size="9.5" text-anchor="middle" font-weight="bold" fill="#111" >0</text>
<text x="409" y="27" font-size="9.5" text-anchor="middle" font-weight="bold" fill="#111" >SHIN1</text>
<polygon points="333,41.2 479,28.3 479,41.2" fill="#111"/>
<text x="312.5" y="58.8" font-size="8.6" text-anchor="middle" fill="#3a3a3a" stroke="#3a3a3a" stroke-width="0.15" textLength="4.4" lengthAdjust="spacingAndGlyphs">1</text>
<text x="351" y="58.8" font-size="8.6" text-anchor="middle" fill="#3a3a3a" stroke="#3a3a3a" stroke-width="0.15" textLength="10.9" lengthAdjust="spacingAndGlyphs">0.9</text>
<text x="389" y="58.8" font-size="8.6" text-anchor="middle" fill="#3a3a3a" stroke="#3a3a3a" stroke-width="0.15" textLength="10.9" lengthAdjust="spacingAndGlyphs">0.7</text>
<text x="427" y="58.8" font-size="8.6" text-anchor="middle" fill="#3a3a3a" stroke="#3a3a3a" stroke-width="0.15" textLength="10.9" lengthAdjust="spacingAndGlyphs">0.5</text>
<text x="465" y="58.8" font-size="8.6" text-anchor="middle" fill="#3a3a3a" stroke="#3a3a3a" stroke-width="0.15" textLength="10.9" lengthAdjust="spacingAndGlyphs">0.4</text>
<rect x="292.5" y="61.5" width="191.2" height="31.799999999999997" fill="#d4d4d4"/>
<rect x="292.5" y="61.5" width="191.2" height="6" fill="#dedede" filter="url(#b2)"/>
<rect x="296.5" y="64.5" width="32" height="27.799999999999997" fill="#cfcfcf" filter="url(#b2)"/>
<rect x="335" y="64.5" width="32" height="27.799999999999997" fill="#cfcfcf" filter="url(#b2)"/>
<rect x="373" y="64.5" width="32" height="27.799999999999997" fill="#cfcfcf" filter="url(#b2)"/>
<rect x="411" y="64.5" width="32" height="27.799999999999997" fill="#cfcfcf" filter="url(#b2)"/>
<rect x="449" y="64.5" width="32" height="27.799999999999997" fill="#cfcfcf" filter="url(#b2)"/>
<path d="M299,73 L309,73.3 L318,74.8 L325,75.8" fill="none" stroke="#161616" stroke-opacity="0.35" stroke-width="7.8" stroke-linecap="round" stroke-linejoin="round" filter="url(#b2)"/>
<path d="M299,73 L309,73.3 L318,74.8 L325,75.8" fill="none" stroke="#161616" stroke-width="4.3999999999999995" stroke-linecap="round" stroke-linejoin="round" filter="url(#b1)"/>
<path d="M338.5,77.6 L350,77.4 L358,77.8 L365.5,77.6" fill="none" stroke="#1a1a1a" stroke-opacity="0.35" stroke-width="7.9" stroke-linecap="round" stroke-linejoin="round" filter="url(#b2)"/>
<path d="M338.5,77.6 L350,77.4 L358,77.8 L365.5,77.6" fill="none" stroke="#1a1a1a" stroke-width="4.5" stroke-linecap="round" stroke-linejoin="round" filter="url(#b1)"/>
<path d="M377.5,77.6 L390,77.6 L401,78.2" fill="none" stroke="#262626" stroke-opacity="0.35" stroke-width="7.4" stroke-linecap="round" stroke-linejoin="round" filter="url(#b2)"/>
<path d="M377.5,77.6 L390,77.6 L401,78.2" fill="none" stroke="#262626" stroke-width="4.0" stroke-linecap="round" stroke-linejoin="round" filter="url(#b1)"/>
<path d="M414,80.2 L428,80.2 L440.5,80.2" fill="none" stroke="#383838" stroke-opacity="0.35" stroke-width="7.8" stroke-linecap="round" stroke-linejoin="round" filter="url(#b2)"/>
<path d="M414,80.2 L428,80.2 L440.5,80.2" fill="none" stroke="#383838" stroke-width="4.3999999999999995" stroke-linecap="round" stroke-linejoin="round" filter="url(#b1)"/>
<path d="M451.5,78.8 L463.5,77.6 L477.5,78.4" fill="none" stroke="#505050" stroke-opacity="0.35" stroke-width="6.6" stroke-linecap="round" stroke-linejoin="round" filter="url(#b2)"/>
<path d="M451.5,78.8 L463.5,77.6 L477.5,78.4" fill="none" stroke="#505050" stroke-width="3.2" stroke-linecap="round" stroke-linejoin="round" filter="url(#b1)"/>
<rect x="292.5" y="61.5" width="191.2" height="31.799999999999997" fill="none" stroke="#1a1a1a" stroke-width="1.2"/>
<text x="284.6" y="93.8" font-size="8.4" text-anchor="end" fill="#3a3a3a" textLength="8.3" lengthAdjust="spacingAndGlyphs">70</text><line x1="287.5" y1="91.5" x2="292.5" y2="91.5" stroke="#222" stroke-width="1"/>
<line x1="292.0" y1="101.8" x2="368.7" y2="101.8" stroke="#5a5a5a" stroke-width="1"/>
<line x1="407.3" y1="101.8" x2="484.2" y2="101.8" stroke="#5a5a5a" stroke-width="1"/>
<text x="388.8" y="104.9" font-size="9.6" text-anchor="middle" fill="#444" stroke="#444" stroke-width="0.2" textLength="15.6" lengthAdjust="spacingAndGlyphs">TCF3</text>
<text x="312.5" y="117.4" font-size="8.6" text-anchor="middle" fill="#3a3a3a" stroke="#3a3a3a" stroke-width="0.15" textLength="4.4" lengthAdjust="spacingAndGlyphs">1</text>
<text x="351" y="117.4" font-size="8.6" text-anchor="middle" fill="#3a3a3a" stroke="#3a3a3a" stroke-width="0.15" textLength="10.9" lengthAdjust="spacingAndGlyphs">1.5</text>
<text x="389" y="117.4" font-size="8.6" text-anchor="middle" fill="#3a3a3a" stroke="#3a3a3a" stroke-width="0.15" textLength="10.9" lengthAdjust="spacingAndGlyphs">2.5</text>
<text x="427" y="117.4" font-size="8.6" text-anchor="middle" fill="#3a3a3a" stroke="#3a3a3a" stroke-width="0.15" textLength="10.9" lengthAdjust="spacingAndGlyphs">6.5</text>
<text x="465" y="117.4" font-size="8.6" text-anchor="middle" fill="#3a3a3a" stroke="#3a3a3a" stroke-width="0.15" textLength="10.9" lengthAdjust="spacingAndGlyphs">8.9</text>
<rect x="292.5" y="120.3" width="191.2" height="32.000000000000014" fill="#d2d2d2"/>
<rect x="292.5" y="120.3" width="191.2" height="6" fill="#dadada" filter="url(#b2)"/>
<rect x="296.5" y="123.3" width="32" height="28.000000000000014" fill="#cccccc" filter="url(#b2)"/>
<rect x="335" y="123.3" width="32" height="28.000000000000014" fill="#cccccc" filter="url(#b2)"/>
<rect x="373" y="123.3" width="32" height="28.000000000000014" fill="#cccccc" filter="url(#b2)"/>
<rect x="411" y="123.3" width="32" height="28.000000000000014" fill="#cccccc" filter="url(#b2)"/>
<rect x="449" y="123.3" width="32" height="28.000000000000014" fill="#cccccc" filter="url(#b2)"/>
<path d="M300,132.8 L314,134.5 L327,135.4" fill="none" stroke="#707070" stroke-opacity="0.35" stroke-width="7.0" stroke-linecap="round" stroke-linejoin="round" filter="url(#b2)"/>
<path d="M300,132.8 L314,134.5 L327,135.4" fill="none" stroke="#707070" stroke-width="3.6" stroke-linecap="round" stroke-linejoin="round" filter="url(#b1)"/>
<path d="M338.5,135.6 L352,136.2 L364.5,136.4" fill="none" stroke="#505050" stroke-opacity="0.35" stroke-width="7.8" stroke-linecap="round" stroke-linejoin="round" filter="url(#b2)"/>
<path d="M338.5,135.6 L352,136.2 L364.5,136.4" fill="none" stroke="#505050" stroke-width="4.3999999999999995" stroke-linecap="round" stroke-linejoin="round" filter="url(#b1)"/>
<path d="M377.5,136.4 L390,136.8 L400,136.6" fill="none" stroke="#5a5a5a" stroke-opacity="0.35" stroke-width="7.6" stroke-linecap="round" stroke-linejoin="round" filter="url(#b2)"/>
<path d="M377.5,136.4 L390,136.8 L400,136.6" fill="none" stroke="#5a5a5a" stroke-width="4.2" stroke-linecap="round" stroke-linejoin="round" filter="url(#b1)"/>
<path d="M412.5,138.2 L425,138.4 L437.5,138.2" fill="none" stroke="#2c2c2c" stroke-opacity="0.35" stroke-width="8.8" stroke-linecap="round" stroke-linejoin="round" filter="url(#b2)"/>
<path d="M412.5,138.2 L425,138.4 L437.5,138.2" fill="none" stroke="#2c2c2c" stroke-width="5.3999999999999995" stroke-linecap="round" stroke-linejoin="round" filter="url(#b1)"/>
<path d="M450,137.4 L463,137.2 L472,136.4 L476,134.8" fill="none" stroke="#151515" stroke-opacity="0.35" stroke-width="9.0" stroke-linecap="round" stroke-linejoin="round" filter="url(#b2)"/>
<path d="M450,137.4 L463,137.2 L472,136.4 L476,134.8" fill="none" stroke="#151515" stroke-width="5.6" stroke-linecap="round" stroke-linejoin="round" filter="url(#b1)"/>
<rect x="292.5" y="120.3" width="191.2" height="32.000000000000014" fill="none" stroke="#1a1a1a" stroke-width="1.2"/>
<text x="284.6" y="147.5" font-size="8.4" text-anchor="end" fill="#3a3a3a" textLength="8.3" lengthAdjust="spacingAndGlyphs">60</text><line x1="287.5" y1="145.2" x2="292.5" y2="145.2" stroke="#222" stroke-width="1"/>
<line x1="292.0" y1="160.1" x2="364.9" y2="160.1" stroke="#5a5a5a" stroke-width="1"/>
<line x1="411.3" y1="160.1" x2="484.2" y2="160.1" stroke="#5a5a5a" stroke-width="1"/>
<text x="388.8" y="163.2" font-size="9.6" text-anchor="middle" fill="#444" stroke="#444" stroke-width="0.2" textLength="19.6" lengthAdjust="spacingAndGlyphs">SHP-1</text>
<rect x="292.5" y="168.6" width="191.2" height="31.700000000000017" fill="#cdcdcd"/>
<rect x="296.5" y="171.6" width="32" height="27.700000000000017" fill="#c8c8c8" filter="url(#b2)"/>
<rect x="335" y="171.6" width="32" height="27.700000000000017" fill="#c8c8c8" filter="url(#b2)"/>
<rect x="373" y="171.6" width="32" height="27.700000000000017" fill="#c8c8c8" filter="url(#b2)"/>
<rect x="411" y="171.6" width="32" height="27.700000000000017" fill="#c8c8c8" filter="url(#b2)"/>
<rect x="449" y="171.6" width="32" height="27.700000000000017" fill="#c8c8c8" filter="url(#b2)"/>
<rect x="296" y="173.3" width="37.5" height="15.899999999999977" rx="6.1" fill="#626262" filter="url(#b3)"/>
<rect x="336.5" y="175.5" width="35.30000000000001" height="15.5" rx="6.0" fill="#646464" filter="url(#b3)"/>
<rect x="374.8" y="176.3" width="28.399999999999977" height="15.399999999999977" rx="5.9" fill="#666666" filter="url(#b3)"/>
<rect x="407" y="174.3" width="37" height="14.399999999999977" rx="5.5" fill="#686868" filter="url(#b3)"/>
<rect x="448.5" y="175.3" width="32.69999999999999" height="12.099999999999994" rx="4.7" fill="#6b6b6b" filter="url(#b3)"/>
<rect x="292.5" y="168.6" width="191.2" height="31.700000000000017" fill="none" stroke="#1a1a1a" stroke-width="1.2"/>
<text x="284.6" y="185.8" font-size="8.4" text-anchor="end" fill="#3a3a3a" textLength="8.3" lengthAdjust="spacingAndGlyphs">37</text><line x1="287.5" y1="183.5" x2="292.5" y2="183.5" stroke="#222" stroke-width="1"/>
<line x1="292.0" y1="208.5" x2="367.6" y2="208.5" stroke="#5a5a5a" stroke-width="1"/>
<line x1="413" y1="208.5" x2="484.2" y2="208.5" stroke="#5a5a5a" stroke-width="1"/>
<text x="388.8" y="211.6" font-size="9.6" text-anchor="middle" fill="#444" stroke="#444" stroke-width="0.2" textLength="24.8" lengthAdjust="spacingAndGlyphs">GAPDH</text>
<text x="313" y="242.7" font-size="9.5" text-anchor="middle" font-weight="bold" fill="#111" >0</text>
<text x="406.5" y="228.2" font-size="9.5" text-anchor="middle" font-weight="bold" fill="#111" >MTX</text>
<polygon points="334,242.7 480.6,231 480.6,242.7" fill="#111"/>
<rect x="292.5" y="250.9" width="191.2" height="31.400000000000006" fill="#c4c4c6"/>
<rect x="292.5" y="250.9" width="191.2" height="6" fill="#c8c8ca" filter="url(#b2)"/>
<rect x="296.5" y="253.9" width="32" height="27.400000000000006" fill="#bcbcbf" filter="url(#b2)"/>
<rect x="335" y="253.9" width="32" height="27.400000000000006" fill="#bcbcbf" filter="url(#b2)"/>
<rect x="373" y="253.9" width="32" height="27.400000000000006" fill="#bcbcbf" filter="url(#b2)"/>
<rect x="411" y="253.9" width="32" height="27.400000000000006" fill="#bcbcbf" filter="url(#b2)"/>
<rect x="449" y="253.9" width="32" height="27.400000000000006" fill="#bcbcbf" filter="url(#b2)"/>
<rect x="331.0" y="250.9" width="5" height="31.400000000000006" fill="#d2d2d4" filter="url(#b2)"/>
<rect x="368.0" y="250.9" width="5" height="31.400000000000006" fill="#d2d2d4" filter="url(#b2)"/>
<rect x="402.5" y="250.9" width="5" height="31.400000000000006" fill="#d2d2d4" filter="url(#b2)"/>
<rect x="441.0" y="250.9" width="5" height="31.400000000000006" fill="#d2d2d4" filter="url(#b2)"/>
<path d="M300,261.3 L313,261.6 L325.5,262.2" fill="none" stroke="#78787c" stroke-opacity="0.35" stroke-width="6.4" stroke-linecap="round" stroke-linejoin="round" filter="url(#b2)"/>
<path d="M300,261.3 L313,261.6 L325.5,262.2" fill="none" stroke="#78787c" stroke-width="3.0" stroke-linecap="round" stroke-linejoin="round" filter="url(#b1)"/>
<path d="M338.5,263.4 L351,263.2 L362,263.4" fill="none" stroke="#7a7a7e" stroke-opacity="0.35" stroke-width="6.4" stroke-linecap="round" stroke-linejoin="round" filter="url(#b2)"/>
<path d="M338.5,263.4 L351,263.2 L362,263.4" fill="none" stroke="#7a7a7e" stroke-width="3.0" stroke-linecap="round" stroke-linejoin="round" filter="url(#b1)"/>
<path d="M376,263.8 L388,263.6 L398,263.8" fill="none" stroke="#7c7c80" stroke-opacity="0.35" stroke-width="6.3" stroke-linecap="round" stroke-linejoin="round" filter="url(#b2)"/>
<path d="M376,263.8 L388,263.6 L398,263.8" fill="none" stroke="#7c7c80" stroke-width="2.9" stroke-linecap="round" stroke-linejoin="round" filter="url(#b1)"/>
<path d="M411.5,263.8 L424,263.8 L436,263.8" fill="none" stroke="#7e7e82" stroke-opacity="0.35" stroke-width="6.3" stroke-linecap="round" stroke-linejoin="round" filter="url(#b2)"/>
<path d="M411.5,263.8 L424,263.8 L436,263.8" fill="none" stroke="#7e7e82" stroke-width="2.9" stroke-linecap="round" stroke-linejoin="round" filter="url(#b1)"/>
<path d="M449.5,263.6 L462,263.4 L474.5,263.4" fill="none" stroke="#808084" stroke-opacity="0.35" stroke-width="6.3" stroke-linecap="round" stroke-linejoin="round" filter="url(#b2)"/>
<path d="M449.5,263.6 L462,263.4 L474.5,263.4" fill="none" stroke="#808084" stroke-width="2.9" stroke-linecap="round" stroke-linejoin="round" filter="url(#b1)"/>
<rect x="292.5" y="250.9" width="191.2" height="31.400000000000006" fill="#000" filter="url(#nz)" opacity="0.55"/>
<rect x="292.5" y="250.9" width="191.2" height="31.400000000000006" fill="none" stroke="#1a1a1a" stroke-width="1.2"/>
<text x="284.6" y="275.0" font-size="8.4" text-anchor="end" fill="#3a3a3a" textLength="8.3" lengthAdjust="spacingAndGlyphs">70</text><line x1="287.5" y1="272.7" x2="292.5" y2="272.7" stroke="#222" stroke-width="1"/>
<line x1="292.0" y1="291.1" x2="368.7" y2="291.1" stroke="#5a5a5a" stroke-width="1"/>
<line x1="407.3" y1="291.1" x2="484.2" y2="291.1" stroke="#5a5a5a" stroke-width="1"/>
<text x="388.8" y="294.2" font-size="9.6" text-anchor="middle" fill="#444" stroke="#444" stroke-width="0.2" textLength="15.6" lengthAdjust="spacingAndGlyphs">TCF3</text>
<rect x="292.5" y="299.5" width="191.2" height="31.399999999999977" fill="#c6c6c8"/>
<rect x="296.5" y="302.5" width="32" height="27.399999999999977" fill="#bfbfc2" filter="url(#b2)"/>
<rect x="335" y="302.5" width="32" height="27.399999999999977" fill="#bfbfc2" filter="url(#b2)"/>
<rect x="373" y="302.5" width="32" height="27.399999999999977" fill="#bfbfc2" filter="url(#b2)"/>
<rect x="411" y="302.5" width="32" height="27.399999999999977" fill="#bfbfc2" filter="url(#b2)"/>
<rect x="449" y="302.5" width="32" height="27.399999999999977" fill="#bfbfc2" filter="url(#b2)"/>
<rect x="331.0" y="299.5" width="5" height="31.399999999999977" fill="#d4d4d6" filter="url(#b2)"/>
<rect x="368.0" y="299.5" width="5" height="31.399999999999977" fill="#d4d4d6" filter="url(#b2)"/>
<rect x="402.5" y="299.5" width="5" height="31.399999999999977" fill="#d4d4d6" filter="url(#b2)"/>
<rect x="441.0" y="299.5" width="5" height="31.399999999999977" fill="#d4d4d6" filter="url(#b2)"/>
<path d="M299.5,314.4 L306,314.6 L312,315.2 L318,314.8 L325,314.6" fill="none" stroke="#1c1c1c" stroke-opacity="0.35" stroke-width="7.6" stroke-linecap="round" stroke-linejoin="round" filter="url(#b2)"/>
<path d="M299.5,314.4 L306,314.6 L312,315.2 L318,314.8 L325,314.6" fill="none" stroke="#1c1c1c" stroke-width="4.2" stroke-linecap="round" stroke-linejoin="round" filter="url(#b1)"/>
<path d="M338,315.4 L345,315.6 L351,316 L357,315.5 L362,315.2" fill="none" stroke="#222" stroke-opacity="0.35" stroke-width="7.6" stroke-linecap="round" stroke-linejoin="round" filter="url(#b2)"/>
<path d="M338,315.4 L345,315.6 L351,316 L357,315.5 L362,315.2" fill="none" stroke="#222" stroke-width="4.2" stroke-linecap="round" stroke-linejoin="round" filter="url(#b1)"/>
<path d="M375.5,316 L388,316.4 L398.5,316.2" fill="none" stroke="#3a3a3a" stroke-opacity="0.35" stroke-width="7.0" stroke-linecap="round" stroke-linejoin="round" filter="url(#b2)"/>
<path d="M375.5,316 L388,316.4 L398.5,316.2" fill="none" stroke="#3a3a3a" stroke-width="3.6" stroke-linecap="round" stroke-linejoin="round" filter="url(#b1)"/>
<path d="M411.5,315.4 L418,315.4 L424,316 L430,315.4 L436.5,315.2" fill="none" stroke="#1e1e1e" stroke-opacity="0.35" stroke-width="8.0" stroke-linecap="round" stroke-linejoin="round" filter="url(#b2)"/>
<path d="M411.5,315.4 L418,315.4 L424,316 L430,315.4 L436.5,315.2" fill="none" stroke="#1e1e1e" stroke-width="4.6" stroke-linecap="round" stroke-linejoin="round" filter="url(#b1)"/>
<path d="M448,315.4 L455,315.8 L462,315.6 L469,314.4 L474,313" fill="none" stroke="#181818" stroke-opacity="0.35" stroke-width="8.2" stroke-linecap="round" stroke-linejoin="round" filter="url(#b2)"/>
<path d="M448,315.4 L455,315.8 L462,315.6 L469,314.4 L474,313" fill="none" stroke="#181818" stroke-width="4.8" stroke-linecap="round" stroke-linejoin="round" filter="url(#b1)"/>
<rect x="292.5" y="299.5" width="191.2" height="31.399999999999977" fill="#000" filter="url(#nz)" opacity="0.55"/>
<rect x="292.5" y="299.5" width="191.2" height="31.399999999999977" fill="none" stroke="#1a1a1a" stroke-width="1.2"/>
<text x="284.6" y="324.3" font-size="8.4" text-anchor="end" fill="#3a3a3a" textLength="8.3" lengthAdjust="spacingAndGlyphs">60</text><line x1="287.5" y1="322" x2="292.5" y2="322" stroke="#222" stroke-width="1"/>
<line x1="292.0" y1="338.2" x2="364.9" y2="338.2" stroke="#5a5a5a" stroke-width="1"/>
<line x1="411.3" y1="338.2" x2="484.2" y2="338.2" stroke="#5a5a5a" stroke-width="1"/>
<text x="388.8" y="341.3" font-size="9.6" text-anchor="middle" fill="#444" stroke="#444" stroke-width="0.2" textLength="19.6" lengthAdjust="spacingAndGlyphs">SHP-1</text>
<rect x="292.5" y="347" width="191.2" height="31.899999999999977" fill="#c8c8ca"/>
<rect x="296.5" y="350" width="32" height="27.899999999999977" fill="#c2c2c5" filter="url(#b2)"/>
<rect x="335" y="350" width="32" height="27.899999999999977" fill="#c2c2c5" filter="url(#b2)"/>
<rect x="373" y="350" width="32" height="27.899999999999977" fill="#c2c2c5" filter="url(#b2)"/>
<rect x="411" y="350" width="32" height="27.899999999999977" fill="#c2c2c5" filter="url(#b2)"/>
<rect x="449" y="350" width="32" height="27.899999999999977" fill="#c2c2c5" filter="url(#b2)"/>
<rect x="331.0" y="347" width="5" height="31.899999999999977" fill="#d0d0d3" filter="url(#b2)"/>
<rect x="368.0" y="347" width="5" height="31.899999999999977" fill="#d0d0d3" filter="url(#b2)"/>
<rect x="402.5" y="347" width="5" height="31.899999999999977" fill="#d0d0d3" filter="url(#b2)"/>
<rect x="441.0" y="347" width="5" height="31.899999999999977" fill="#d0d0d3" filter="url(#b2)"/>
<path d="M302.5,363.4 L314,363.3 L325,363" fill="none" stroke="#7a7a7f" stroke-opacity="0.35" stroke-width="10.0" stroke-linecap="round" stroke-linejoin="round" filter="url(#b2)"/>
<path d="M302.5,363.4 L314,363.3 L325,363" fill="none" stroke="#7a7a7f" stroke-width="6.6" stroke-linecap="round" stroke-linejoin="round" filter="url(#b3)"/>
<path d="M340,362.4 L352,362.6 L362.5,362.3" fill="none" stroke="#75757a" stroke-opacity="0.35" stroke-width="10.4" stroke-linecap="round" stroke-linejoin="round" filter="url(#b2)"/>
<path d="M340,362.4 L352,362.6 L362.5,362.3" fill="none" stroke="#75757a" stroke-width="7.0" stroke-linecap="round" stroke-linejoin="round" filter="url(#b3)"/>
<path d="M376.5,360.6 L388,360.6 L398,360.8" fill="none" stroke="#77777c" stroke-opacity="0.35" stroke-width="10.4" stroke-linecap="round" stroke-linejoin="round" filter="url(#b2)"/>
<path d="M376.5,360.6 L388,360.6 L398,360.8" fill="none" stroke="#77777c" stroke-width="7.0" stroke-linecap="round" stroke-linejoin="round" filter="url(#b3)"/>
<path d="M412.5,360.6 L424,360.6 L435.5,360.6" fill="none" stroke="#78787d" stroke-opacity="0.35" stroke-width="10.0" stroke-linecap="round" stroke-linejoin="round" filter="url(#b2)"/>
<path d="M412.5,360.6 L424,360.6 L435.5,360.6" fill="none" stroke="#78787d" stroke-width="6.6" stroke-linecap="round" stroke-linejoin="round" filter="url(#b3)"/>
<path d="M450,360.6 L462,360.4 L474,360.6" fill="none" stroke="#7a7a7f" stroke-opacity="0.35" stroke-width="10.0" stroke-linecap="round" stroke-linejoin="round" filter="url(#b2)"/>
<path d="M450,360.6 L462,360.4 L474,360.6" fill="none" stroke="#7a7a7f" stroke-width="6.6" stroke-linecap="round" stroke-linejoin="round" filter="url(#b3)"/>
<rect x="292.5" y="347" width="191.2" height="31.899999999999977" fill="#000" filter="url(#nz)" opacity="0.55"/>
<rect x="292.5" y="347" width="191.2" height="31.899999999999977" fill="none" stroke="#1a1a1a" stroke-width="1.2"/>
<text x="284.6" y="368.3" font-size="8.4" text-anchor="end" fill="#3a3a3a" textLength="8.3" lengthAdjust="spacingAndGlyphs">37</text><line x1="287.5" y1="366" x2="292.5" y2="366" stroke="#222" stroke-width="1"/>
<line x1="292.0" y1="385.6" x2="367.6" y2="385.6" stroke="#5a5a5a" stroke-width="1"/>
<line x1="413" y1="385.6" x2="484.2" y2="385.6" stroke="#5a5a5a" stroke-width="1"/>
<text x="388.8" y="388.7" font-size="9.6" text-anchor="middle" fill="#444" stroke="#444" stroke-width="0.2" textLength="24.8" lengthAdjust="spacingAndGlyphs">GAPDH</text>
<text x="245" y="485.6" font-size="10" text-anchor="start" font-weight="bold" fill="#111" >G</text>
<text x="293.8" y="480.3" font-size="9.6" fill="#222" stroke="#222" stroke-width="0.3" textLength="196" lengthAdjust="spacingAndGlyphs">BL patient sample, ID3 mutant (L64F, V55fs)</text>
<line x1="317.3" y1="598.2" x2="317.3" y2="493.5" stroke="#333" stroke-width="1"/>
<line x1="314.5" y1="598.2" x2="449.5" y2="598.2" stroke="#333" stroke-width="1"/>
<line x1="314.5" y1="598.2" x2="317.3" y2="598.2" stroke="#333" stroke-width="1"/>
<text x="310.8" y="601.4" font-size="8.8" text-anchor="end" fill="#3a3a3a" textLength="4.3" lengthAdjust="spacingAndGlyphs">0</text>
<line x1="314.5" y1="563.2" x2="317.3" y2="563.2" stroke="#333" stroke-width="1"/>
<text x="310.8" y="566.4" font-size="8.8" text-anchor="end" fill="#3a3a3a" textLength="12.8" lengthAdjust="spacingAndGlyphs">100</text>
<line x1="314.5" y1="528.2" x2="317.3" y2="528.2" stroke="#333" stroke-width="1"/>
<text x="310.8" y="531.4" font-size="8.8" text-anchor="end" fill="#3a3a3a" textLength="12.8" lengthAdjust="spacingAndGlyphs">200</text>
<line x1="314.5" y1="493.20000000000005" x2="317.3" y2="493.20000000000005" stroke="#333" stroke-width="1"/>
<text x="310.8" y="496.4" font-size="8.8" text-anchor="end" fill="#3a3a3a" textLength="12.8" lengthAdjust="spacingAndGlyphs">300</text>
<text transform="translate(291.8,545.8) rotate(-90)" font-size="9.4" text-anchor="middle" fill="#3a3a3a" textLength="26" lengthAdjust="spacingAndGlyphs">% of ctrl</text>
<rect x="323" y="563.2" width="10.3" height="35.0" fill="#c8203a"/>
<rect x="336.2" y="563.5500000000001" width="10.3" height="34.65" fill="#0d4f88"/>
<line x1="334.8" y1="598.2" x2="334.8" y2="601.2" stroke="#333" stroke-width="1"/>
<text transform="translate(338.2,607.0) rotate(-45)" font-size="8.1" text-anchor="end" fill="#3a3a3a">DMSO</text>
<rect x="355.4" y="572.3000000000001" width="10.3" height="25.9" fill="#c8203a"/>
<rect x="368.59999999999997" y="528.2" width="10.3" height="70.0" fill="#0d4f88"/>
<line x1="367.2" y1="598.2" x2="367.2" y2="601.2" stroke="#333" stroke-width="1"/>
<text transform="translate(370.59999999999997,607.0) rotate(-45)" font-size="8.1" text-anchor="end" fill="#3a3a3a">SHIN1</text>
<rect x="387.7" y="580.0" width="10.3" height="18.2" fill="#c8203a"/>
<rect x="400.9" y="535.9000000000001" width="10.3" height="62.3" fill="#0d4f88"/>
<line x1="399.5" y1="598.2" x2="399.5" y2="601.2" stroke="#333" stroke-width="1"/>
<text transform="translate(402.9,607.0) rotate(-45)" font-size="8.1" text-anchor="end" fill="#3a3a3a">MTX</text>
<rect x="419.8" y="585.25" width="10.3" height="12.95" fill="#c8203a"/>
<rect x="433.0" y="497.40000000000003" width="10.3" height="100.8" fill="#0d4f88"/>
<line x1="431.6" y1="598.2" x2="431.6" y2="601.2" stroke="#333" stroke-width="1"/>
<text transform="translate(435.0,607.0) rotate(-45)" font-size="8.1" text-anchor="end" fill="#3a3a3a">SHIN1/MTX</text>
<rect x="456.6" y="494" width="10.4" height="5" fill="#c8203a"/>
<rect x="456.6" y="503.3" width="10.4" height="4.9" fill="#0d4f88"/>
<text x="471" y="499.3" font-size="7.8" fill="#3a3a3a" textLength="12.2" lengthAdjust="spacingAndGlyphs">Live</text>
<text x="471" y="508.6" font-size="7.8" fill="#3a3a3a" textLength="32.9" lengthAdjust="spacingAndGlyphs">Apoptotic</text>
<rect x="0.5" y="0.5" width="519" height="695" fill="none" stroke="#111" stroke-width="1.2"/>
</svg>
</body></html>
